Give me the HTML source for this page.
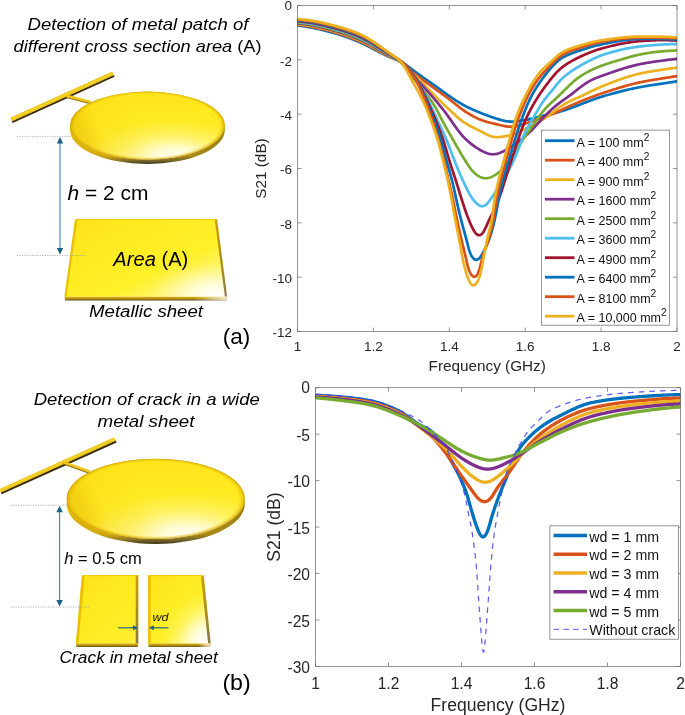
<!DOCTYPE html><html><head><meta charset="utf-8"><style>html,body{margin:0;padding:0;background:#fff;width:685px;height:715px;overflow:hidden}svg{display:block;will-change:transform}text{font-family:"Liberation Sans",sans-serif}</style></head><body>
<svg width="685" height="715" viewBox="0 0 685 715">
<defs>
<clipPath id="clipA"><rect x="297.5" y="5.5" width="379.5" height="326"/></clipPath>
<clipPath id="clipB"><rect x="315.5" y="387.7" width="365" height="278.7"/></clipPath>
<linearGradient id="gEllBase" x1="0" y1="0" x2="0" y2="1">
 <stop offset="0" stop-color="#FFE41A"/><stop offset="0.4" stop-color="#FFEA20"/><stop offset="0.75" stop-color="#FFEE30"/><stop offset="1" stop-color="#FFF250"/>
</linearGradient>
<radialGradient id="gEllGlow" cx="0.66" cy="0.98" r="0.55" fx="0.68" fy="1.0">
 <stop offset="0" stop-color="#FFFFFF" stop-opacity="1"/><stop offset="0.3" stop-color="#FFFEF0" stop-opacity="0.8"/><stop offset="0.65" stop-color="#FFFBD0" stop-opacity="0.3"/><stop offset="1" stop-color="#FFFBD0" stop-opacity="0"/>
</radialGradient>
<linearGradient id="gEllLeft" x1="0" y1="0.2" x2="1" y2="0">
 <stop offset="0" stop-color="#E8B800" stop-opacity="0.5"/><stop offset="0.12" stop-color="#F0C400" stop-opacity="0.18"/><stop offset="0.4" stop-color="#F0C800" stop-opacity="0"/><stop offset="1" stop-color="#F0C800" stop-opacity="0"/>
</linearGradient>
<linearGradient id="gRimE" x1="0" y1="0" x2="0" y2="1">
 <stop offset="0" stop-color="#E6BE10"/><stop offset="0.88" stop-color="#CCA418"/><stop offset="0.945" stop-color="#86722E"/><stop offset="1" stop-color="#3E3418"/>
</linearGradient>
<radialGradient id="gEllEdge" cx="0.5" cy="0.5" r="0.5">
 <stop offset="0" stop-color="#E8BC00" stop-opacity="0"/><stop offset="0.93" stop-color="#E8BC00" stop-opacity="0"/><stop offset="0.98" stop-color="#DDAE00" stop-opacity="0.55"/><stop offset="1" stop-color="#C09000" stop-opacity="0.85"/>
</radialGradient>
<linearGradient id="gRimEH" x1="0" y1="0" x2="1" y2="0">
 <stop offset="0" stop-color="#F0C000" stop-opacity="0.55"/><stop offset="0.3" stop-color="#E0B000" stop-opacity="0.2"/><stop offset="0.55" stop-color="#000" stop-opacity="0"/><stop offset="1" stop-color="#3A3010" stop-opacity="0.35"/>
</linearGradient>
<linearGradient id="gSheetBase" x1="0" y1="0" x2="1" y2="1">
 <stop offset="0" stop-color="#FCE218"/><stop offset="0.3" stop-color="#FFEA20"/><stop offset="0.62" stop-color="#FFF028"/><stop offset="1" stop-color="#FFF8B8"/>
</linearGradient>
<linearGradient id="gSheetPlain" x1="0" y1="0" x2="1" y2="1">
 <stop offset="0" stop-color="#FADE16"/><stop offset="0.3" stop-color="#FFE81E"/><stop offset="0.7" stop-color="#FFEC24"/><stop offset="1" stop-color="#FFF03A"/>
</linearGradient>
<radialGradient id="gSheetGlowBig" cx="0.95" cy="1.0" r="0.75">
 <stop offset="0" stop-color="#FFFFFF" stop-opacity="1"/><stop offset="0.3" stop-color="#FFFFF4" stop-opacity="0.8"/><stop offset="0.65" stop-color="#FFFBC8" stop-opacity="0.3"/><stop offset="1" stop-color="#FFF8B0" stop-opacity="0"/>
</radialGradient>
<radialGradient id="gSheetGlow" cx="0.93" cy="0.98" r="0.42">
 <stop offset="0" stop-color="#FFFFFF" stop-opacity="1"/><stop offset="0.35" stop-color="#FFFFF0" stop-opacity="0.75"/><stop offset="1" stop-color="#FFF8B0" stop-opacity="0"/>
</radialGradient>
<linearGradient id="gRimS" x1="0" y1="0" x2="0" y2="1">
 <stop offset="0" stop-color="#E0B410"/><stop offset="0.55" stop-color="#B8920E"/><stop offset="1" stop-color="#5E4E18"/>
</linearGradient>
<linearGradient id="gRimShine" x1="0" y1="0" x2="1" y2="0">
 <stop offset="0" stop-color="#fff" stop-opacity="0"/><stop offset="0.8" stop-color="#fff" stop-opacity="0"/><stop offset="1" stop-color="#F4F0D8" stop-opacity="0.9"/>
</linearGradient>
<linearGradient id="gBevR" x1="0" y1="0" x2="0" y2="1">
 <stop offset="0" stop-color="#C8A010"/><stop offset="0.6" stop-color="#A88A20"/><stop offset="1" stop-color="#8A7A48"/>
</linearGradient>
<marker id="ah" viewBox="0 0 10 10" refX="5" refY="5" markerWidth="6" markerHeight="6" orient="auto-start-reverse"><path d="M0,0 L10,5 L0,10 z" fill="#2E6F8E"/></marker>
</defs>
<text x="138" y="29.7" font-size="16.5" font-style="italic" fill="#000" text-anchor="middle" textLength="221" lengthAdjust="spacingAndGlyphs">Detection of metal patch of</text>
<text x="137.6" y="51.7" font-size="16.5" fill="#000" text-anchor="middle" textLength="248" lengthAdjust="spacingAndGlyphs"><tspan font-style="italic">different cross section area</tspan> (A)</text>
<line x1="12.24" y1="122.14" x2="114.24" y2="75.84" stroke="#3A2E06" stroke-width="2.1" stroke-linecap="butt"/>
<line x1="11.09" y1="119.59" x2="113.09" y2="73.29" stroke="#EBC216" stroke-width="3.8" stroke-linecap="butt"/>
<line x1="11.00" y1="119.41" x2="113.00" y2="73.11" stroke="#F8D828" stroke-width="1.2" stroke-linecap="butt"/>
<line x1="66.5" y1="97.1" x2="90.8" y2="103.3" stroke="#7A6410" stroke-width="2.0"/>
<line x1="66.5" y1="95.8" x2="90.8" y2="102.0" stroke="#EEC61C" stroke-width="2.8"/>
<ellipse cx="147.5" cy="129.95" rx="77.3" ry="33.95" fill="url(#gRimE)"/>
<ellipse cx="147.5" cy="129.95" rx="77.3" ry="33.95" fill="url(#gRimEH)"/>
<ellipse cx="147.5" cy="125.55" rx="77.3" ry="33.95" fill="url(#gEllBase)"/>
<ellipse cx="147.5" cy="125.55" rx="77.3" ry="33.95" fill="url(#gEllGlow)"/>
<ellipse cx="147.5" cy="125.55" rx="77.3" ry="33.95" fill="url(#gEllLeft)"/>
<ellipse cx="147.5" cy="125.55" rx="77.3" ry="33.95" fill="url(#gEllEdge)"/>
<line x1="60" y1="143.1" x2="60" y2="248.6" stroke="#3C7C9A" stroke-width="1.05"/><path d="M60,137.1 L56.8,143.6 L63.2,143.6 Z" fill="#1A6080"/><path d="M60,254.6 L56.8,248.1 L63.2,248.1 Z" fill="#1A6080"/>
<path d="M64.5,296.59999999999997 L227.1,296.59999999999997 L226.5,300.4 L65.1,300.4 Z" fill="url(#gRimS)"/>
<path d="M64.5,296.59999999999997 L227.1,296.59999999999997 L226.5,300.4 L65.1,300.4 Z" fill="url(#gRimShine)"/>
<path d="M75.1,219 L217,219 L227.1,296.59999999999997 L64.5,296.59999999999997 Z" fill="url(#gSheetBase)"/>
<path d="M75.1,219 L217,219 L227.1,296.59999999999997 L64.5,296.59999999999997 Z" fill="url(#gSheetGlow)"/>
<path d="M75.1,219 L77.3,220.32 L66.7,296.59999999999997 L64.5,296.59999999999997 Z" fill="#E6B808" opacity="0.85"/>
<path d="M217,219 L214.8,220.32 L224.9,296.59999999999997 L227.1,296.59999999999997 Z" fill="url(#gBevR)"/>
<line x1="76.1" y1="219.5" x2="216" y2="219.5" stroke="#F2CC12" stroke-width="1"/>
<line x1="17" y1="136.4" x2="70.7" y2="136.4" stroke="#9CA5AC" stroke-width="0.85" stroke-dasharray="1.2 1.3"/>
<line x1="17" y1="255.5" x2="86" y2="255.5" stroke="#9CA5AC" stroke-width="0.85" stroke-dasharray="1.2 1.3"/>
<text x="67.5" y="199.7" font-size="19.8" fill="#000" textLength="81" lengthAdjust="spacingAndGlyphs"><tspan font-style="italic">h</tspan> = 2 cm</text>
<text x="113.3" y="265.5" font-size="20" fill="#000" textLength="75" lengthAdjust="spacingAndGlyphs"><tspan font-style="italic">Area</tspan> (A)</text>
<text x="89" y="317" font-size="16" font-style="italic" fill="#000" textLength="114" lengthAdjust="spacingAndGlyphs">Metallic sheet</text>
<text x="222.8" y="344.3" font-size="22.8" fill="#000" textLength="27.6" lengthAdjust="spacingAndGlyphs">(a)</text>
<text x="146.7" y="404.6" font-size="16.5" font-style="italic" fill="#000" text-anchor="middle" textLength="226" lengthAdjust="spacingAndGlyphs">Detection of crack in a wide</text>
<text x="146" y="427" font-size="16.5" font-style="italic" fill="#000" text-anchor="middle" textLength="97" lengthAdjust="spacingAndGlyphs">metal sheet</text>
<line x1="1.24" y1="493.24" x2="116.24" y2="441.44" stroke="#3A2E06" stroke-width="2.1" stroke-linecap="butt"/>
<line x1="0.09" y1="490.69" x2="115.09" y2="438.89" stroke="#EBC216" stroke-width="3.8" stroke-linecap="butt"/>
<line x1="0.01" y1="490.51" x2="115.01" y2="438.71" stroke="#F8D828" stroke-width="1.2" stroke-linecap="butt"/>
<line x1="63.0" y1="463.3" x2="89.5" y2="472.8" stroke="#7A6410" stroke-width="2.0"/>
<line x1="63.0" y1="462.0" x2="89.5" y2="471.5" stroke="#EEC61C" stroke-width="2.8"/>
<ellipse cx="155.75" cy="503.85" rx="89.05" ry="40.05" fill="url(#gRimE)"/>
<ellipse cx="155.75" cy="503.85" rx="89.05" ry="40.05" fill="url(#gRimEH)"/>
<ellipse cx="155.75" cy="498.85" rx="89.05" ry="40.05" fill="url(#gEllBase)"/>
<ellipse cx="155.75" cy="498.85" rx="89.05" ry="40.05" fill="url(#gEllGlow)"/>
<ellipse cx="155.75" cy="498.85" rx="89.05" ry="40.05" fill="url(#gEllLeft)"/>
<ellipse cx="155.75" cy="498.85" rx="89.05" ry="40.05" fill="url(#gEllEdge)"/>
<line x1="59.6" y1="511.79999999999995" x2="59.6" y2="600.6" stroke="#3C7C9A" stroke-width="1.05"/><path d="M59.6,505.8 L56.4,512.3 L62.800000000000004,512.3 Z" fill="#1A6080"/><path d="M59.6,606.6 L56.4,600.1 L62.800000000000004,600.1 Z" fill="#1A6080"/>
<path d="M75.9,643.2 L138.3,643.2 L137.70000000000002,647 L76.5,647 Z" fill="url(#gRimS)"/>
<path d="M81.9,575.1 L138.3,575.1 L138.3,643.2 L75.9,643.2 Z" fill="url(#gSheetPlain)"/>
<path d="M81.9,575.1 L84.5,576.66 L78.5,643.2 L75.9,643.2 Z" fill="#E6B808" opacity="0.85"/>
<path d="M138.3,575.1 L135.70000000000002,576.66 L135.70000000000002,643.2 L138.3,643.2 Z" fill="url(#gBevR)"/>
<line x1="82.9" y1="575.6" x2="137.3" y2="575.6" stroke="#F2CC12" stroke-width="1"/>
<path d="M148.1,643.2 L210.7,643.2 L210.1,647 L148.7,647 Z" fill="url(#gRimS)"/>
<path d="M148.1,643.2 L210.7,643.2 L210.1,647 L148.7,647 Z" fill="url(#gRimShine)"/>
<path d="M148.1,575.1 L203.6,575.1 L210.7,643.2 L148.1,643.2 Z" fill="url(#gSheetBase)"/>
<path d="M148.1,575.1 L203.6,575.1 L210.7,643.2 L148.1,643.2 Z" fill="url(#gSheetGlowBig)"/>
<path d="M148.1,575.1 L150.7,576.66 L150.7,643.2 L148.1,643.2 Z" fill="#E6B808" opacity="0.85"/>
<path d="M203.6,575.1 L201.0,576.66 L208.1,643.2 L210.7,643.2 Z" fill="url(#gBevR)"/>
<line x1="149.1" y1="575.6" x2="202.6" y2="575.6" stroke="#F2CC12" stroke-width="1"/>
<line x1="10.5" y1="505.2" x2="67.2" y2="505.2" stroke="#9CA5AC" stroke-width="0.85" stroke-dasharray="1.2 1.3"/>
<line x1="10.5" y1="607.1" x2="89" y2="607.1" stroke="#9CA5AC" stroke-width="0.85" stroke-dasharray="1.2 1.3"/>
<text x="64.2" y="563.8" font-size="17.3" fill="#000" textLength="77.5" lengthAdjust="spacingAndGlyphs"><tspan font-style="italic">h</tspan> = 0.5 cm</text>
<line x1="118.1" y1="627.8" x2="134" y2="627.8" stroke="#1F6A8A" stroke-width="1.2"/><path d="M138,627.8 L133,625.3 L133,630.3 Z" fill="#1A6080"/>
<line x1="168.5" y1="627.8" x2="153" y2="627.8" stroke="#1F6A8A" stroke-width="1.2"/><path d="M148.9,627.8 L153.9,625.3 L153.9,630.3 Z" fill="#1A6080"/>
<text x="152.5" y="620.9" font-size="11.5" font-style="italic" fill="#111" textLength="16" lengthAdjust="spacingAndGlyphs">wd</text>
<text x="59.5" y="662.6" font-size="16" font-style="italic" fill="#000" textLength="158.3" lengthAdjust="spacingAndGlyphs">Crack in metal sheet</text>
<text x="222.4" y="689.6" font-size="22.8" fill="#000" textLength="28.4" lengthAdjust="spacingAndGlyphs">(b)</text>
<g clip-path="url(#clipA)" fill="none" stroke-width="2.7" stroke-linejoin="round" stroke-linecap="round">
<path d="M297.50,25.30 L298.49,25.45 L299.48,25.60 L300.47,25.75 L301.45,25.90 L302.44,26.05 L303.43,26.21 L304.42,26.37 L305.40,26.54 L306.39,26.70 L307.37,26.87 L308.36,27.05 L309.34,27.23 L310.32,27.41 L311.31,27.60 L312.29,27.79 L313.27,27.98 L314.25,28.18 L315.23,28.38 L316.21,28.59 L317.18,28.80 L318.16,29.01 L319.14,29.23 L320.11,29.45 L321.09,29.67 L322.06,29.90 L323.03,30.13 L324.01,30.36 L324.98,30.60 L325.95,30.84 L326.92,31.08 L327.89,31.33 L328.85,31.58 L329.82,31.84 L330.79,32.10 L331.75,32.36 L332.71,32.63 L333.68,32.90 L334.64,33.17 L335.60,33.45 L336.56,33.73 L337.51,34.02 L338.47,34.31 L339.43,34.61 L340.38,34.91 L341.33,35.22 L342.28,35.53 L343.23,35.85 L344.17,36.17 L345.12,36.50 L346.06,36.84 L347.00,37.17 L347.94,37.52 L348.88,37.87 L349.81,38.22 L350.74,38.57 L351.68,38.94 L352.61,39.30 L353.54,39.67 L354.46,40.04 L355.39,40.42 L356.31,40.80 L357.24,41.19 L358.15,41.58 L359.07,41.98 L359.99,42.38 L360.90,42.79 L361.81,43.20 L362.72,43.62 L363.62,44.04 L364.52,44.48 L365.42,44.91 L366.32,45.35 L367.22,45.80 L368.11,46.25 L369.00,46.70 L369.89,47.16 L370.78,47.62 L371.66,48.08 L372.55,48.55 L373.43,49.01 L374.32,49.48 L375.20,49.94 L376.09,50.41 L376.97,50.87 L377.86,51.34 L378.75,51.80 L379.63,52.26 L380.52,52.72 L381.41,53.17 L382.30,53.63 L383.20,54.08 L384.09,54.52 L384.99,54.96 L385.89,55.39 L386.79,55.81 L387.70,56.23 L388.61,56.63 L389.53,57.02 L390.45,57.39 L391.37,57.76 L392.30,58.11 L393.24,58.46 L394.17,58.80 L395.10,59.14 L396.02,59.49 L396.95,59.85 L397.86,60.23 L398.76,60.62 L399.65,61.04 L400.52,61.49 L401.39,61.96 L402.24,62.45 L403.08,62.97 L403.91,63.51 L404.73,64.07 L405.54,64.64 L406.35,65.22 L407.15,65.81 L407.96,66.40 L408.76,66.99 L409.56,67.59 L410.36,68.19 L411.16,68.79 L411.97,69.38 L412.77,69.98 L413.57,70.57 L414.38,71.17 L415.18,71.76 L415.99,72.35 L416.79,72.94 L417.60,73.53 L418.41,74.12 L419.23,74.70 L420.04,75.28 L420.85,75.86 L421.67,76.44 L422.49,77.02 L423.30,77.59 L424.12,78.16 L424.94,78.74 L425.77,79.31 L426.59,79.88 L427.41,80.45 L428.23,81.01 L429.05,81.58 L429.88,82.15 L430.70,82.72 L431.52,83.30 L432.34,83.87 L433.15,84.44 L433.97,85.02 L434.79,85.60 L435.60,86.18 L436.41,86.76 L437.22,87.35 L438.03,87.94 L438.84,88.52 L439.65,89.11 L440.46,89.70 L441.26,90.29 L442.07,90.89 L442.88,91.48 L443.69,92.06 L444.50,92.65 L445.31,93.24 L446.12,93.82 L446.93,94.40 L447.75,94.98 L448.57,95.55 L449.39,96.12 L450.21,96.69 L451.04,97.25 L451.86,97.81 L452.69,98.37 L453.53,98.93 L454.36,99.48 L455.20,100.02 L456.04,100.57 L456.88,101.11 L457.72,101.64 L458.57,102.17 L459.42,102.69 L460.28,103.20 L461.14,103.71 L462.01,104.21 L462.88,104.70 L463.75,105.18 L464.63,105.66 L465.51,106.12 L466.40,106.58 L467.29,107.03 L468.19,107.48 L469.09,107.91 L469.99,108.34 L470.90,108.76 L471.81,109.17 L472.72,109.58 L473.63,109.99 L474.55,110.38 L475.47,110.78 L476.39,111.17 L477.31,111.55 L478.24,111.93 L479.16,112.31 L480.09,112.68 L481.02,113.05 L481.95,113.42 L482.88,113.78 L483.81,114.14 L484.75,114.50 L485.68,114.86 L486.62,115.21 L487.55,115.56 L488.49,115.91 L489.43,116.25 L490.37,116.59 L491.31,116.92 L492.26,117.25 L493.20,117.57 L494.15,117.89 L495.10,118.21 L496.05,118.51 L497.00,118.81 L497.96,119.11 L498.91,119.39 L499.87,119.67 L500.83,119.94 L501.80,120.20 L502.76,120.44 L503.73,120.67 L504.70,120.87 L505.67,121.06 L506.65,121.22 L507.63,121.35 L508.61,121.45 L509.60,121.53 L510.58,121.57 L511.57,121.59 L512.56,121.58 L513.55,121.55 L514.55,121.49 L515.54,121.42 L516.53,121.32 L517.52,121.21 L518.51,121.09 L519.50,120.96 L520.49,120.81 L521.47,120.66 L522.46,120.50 L523.44,120.33 L524.43,120.15 L525.41,119.97 L526.39,119.78 L527.37,119.58 L528.35,119.37 L529.32,119.15 L530.30,118.93 L531.27,118.71 L532.24,118.47 L533.21,118.24 L534.18,117.99 L535.15,117.75 L536.12,117.50 L537.09,117.25 L538.06,117.00 L539.02,116.74 L539.99,116.49 L540.96,116.25 L541.93,116.00 L542.90,115.76 L543.87,115.52 L544.84,115.29 L545.81,115.06 L546.79,114.84 L547.76,114.62 L548.74,114.40 L549.72,114.18 L550.69,113.97 L551.67,113.75 L552.64,113.53 L553.62,113.30 L554.59,113.07 L555.56,112.84 L556.53,112.59 L557.49,112.34 L558.46,112.08 L559.42,111.81 L560.38,111.54 L561.34,111.26 L562.30,110.97 L563.25,110.67 L564.20,110.36 L565.15,110.05 L566.10,109.74 L567.05,109.42 L567.99,109.09 L568.94,108.76 L569.88,108.42 L570.82,108.08 L571.76,107.74 L572.69,107.39 L573.63,107.04 L574.57,106.69 L575.50,106.33 L576.43,105.98 L577.37,105.62 L578.30,105.26 L579.23,104.90 L580.17,104.54 L581.10,104.18 L582.03,103.82 L582.97,103.46 L583.90,103.10 L584.83,102.74 L585.76,102.38 L586.70,102.02 L587.63,101.66 L588.57,101.31 L589.50,100.95 L590.44,100.60 L591.37,100.25 L592.31,99.91 L593.25,99.56 L594.19,99.23 L595.14,98.90 L596.08,98.57 L597.03,98.25 L597.97,97.93 L598.92,97.62 L599.88,97.31 L600.83,97.01 L601.78,96.71 L602.74,96.41 L603.69,96.12 L604.65,95.83 L605.61,95.55 L606.57,95.27 L607.53,94.99 L608.49,94.71 L609.45,94.44 L610.41,94.17 L611.38,93.90 L612.34,93.63 L613.31,93.36 L614.27,93.10 L615.24,92.84 L616.20,92.58 L617.17,92.33 L618.14,92.08 L619.10,91.83 L620.07,91.58 L621.04,91.33 L622.01,91.09 L622.98,90.85 L623.95,90.61 L624.93,90.38 L625.90,90.15 L626.87,89.92 L627.85,89.69 L628.82,89.47 L629.80,89.25 L630.77,89.03 L631.75,88.82 L632.73,88.61 L633.71,88.40 L634.68,88.20 L635.66,88.00 L636.64,87.80 L637.62,87.60 L638.61,87.41 L639.59,87.23 L640.57,87.04 L641.55,86.86 L642.54,86.69 L643.52,86.51 L644.51,86.34 L645.49,86.18 L646.48,86.01 L647.47,85.85 L648.46,85.70 L649.44,85.54 L650.43,85.39 L651.42,85.24 L652.41,85.09 L653.40,84.94 L654.39,84.79 L655.37,84.64 L656.36,84.49 L657.35,84.34 L658.34,84.20 L659.33,84.05 L660.32,83.90 L661.31,83.75 L662.30,83.60 L663.28,83.44 L664.27,83.29 L665.26,83.14 L666.25,82.99 L667.23,82.83 L668.22,82.68 L669.20,82.53 L670.18,82.37 L671.16,82.22 L672.14,82.06 L673.12,81.91 L674.09,81.76 L675.06,81.60 L676.03,81.45 L677.00,81.30" stroke="#0072BD"/>
<path d="M297.50,24.60 L298.49,24.74 L299.48,24.88 L300.47,25.03 L301.46,25.18 L302.45,25.32 L303.44,25.47 L304.42,25.63 L305.41,25.79 L306.40,25.95 L307.38,26.12 L308.37,26.29 L309.35,26.46 L310.34,26.64 L311.32,26.82 L312.30,27.01 L313.28,27.20 L314.26,27.39 L315.24,27.59 L316.22,27.79 L317.20,28.00 L318.18,28.21 L319.15,28.42 L320.13,28.64 L321.11,28.86 L322.08,29.09 L323.05,29.32 L324.02,29.55 L325.00,29.79 L325.97,30.03 L326.94,30.27 L327.91,30.52 L328.87,30.77 L329.84,31.02 L330.81,31.28 L331.77,31.54 L332.74,31.81 L333.70,32.07 L334.66,32.35 L335.62,32.62 L336.58,32.90 L337.54,33.19 L338.50,33.48 L339.45,33.77 L340.41,34.07 L341.36,34.38 L342.31,34.68 L343.26,35.00 L344.21,35.32 L345.15,35.64 L346.09,35.97 L347.04,36.31 L347.98,36.65 L348.92,36.99 L349.85,37.34 L350.79,37.69 L351.72,38.05 L352.65,38.41 L353.58,38.78 L354.51,39.15 L355.44,39.53 L356.36,39.91 L357.28,40.30 L358.20,40.69 L359.12,41.09 L360.03,41.49 L360.94,41.90 L361.85,42.31 L362.76,42.74 L363.66,43.16 L364.56,43.60 L365.46,44.04 L366.35,44.49 L367.25,44.94 L368.13,45.39 L369.02,45.85 L369.91,46.32 L370.79,46.79 L371.67,47.26 L372.55,47.73 L373.43,48.21 L374.31,48.68 L375.19,49.16 L376.07,49.64 L376.95,50.11 L377.83,50.59 L378.71,51.07 L379.59,51.54 L380.47,52.01 L381.35,52.48 L382.23,52.95 L383.12,53.42 L384.00,53.88 L384.89,54.34 L385.78,54.79 L386.68,55.23 L387.57,55.67 L388.47,56.10 L389.38,56.51 L390.29,56.91 L391.20,57.31 L392.12,57.69 L393.03,58.07 L393.95,58.45 L394.86,58.83 L395.76,59.22 L396.65,59.63 L397.52,60.06 L398.38,60.52 L399.21,61.01 L400.03,61.53 L400.82,62.08 L401.60,62.67 L402.35,63.28 L403.10,63.91 L403.83,64.57 L404.56,65.23 L405.29,65.90 L406.02,66.57 L406.75,67.24 L407.49,67.91 L408.24,68.57 L408.99,69.22 L409.75,69.87 L410.52,70.51 L411.29,71.14 L412.07,71.76 L412.86,72.38 L413.65,73.00 L414.44,73.61 L415.23,74.21 L416.03,74.82 L416.83,75.42 L417.63,76.02 L418.43,76.62 L419.23,77.22 L420.03,77.81 L420.83,78.41 L421.64,79.00 L422.44,79.60 L423.25,80.19 L424.05,80.78 L424.86,81.37 L425.67,81.96 L426.48,82.55 L427.29,83.14 L428.10,83.72 L428.91,84.31 L429.72,84.89 L430.53,85.48 L431.34,86.06 L432.15,86.65 L432.96,87.23 L433.77,87.82 L434.58,88.41 L435.39,88.99 L436.20,89.58 L437.01,90.17 L437.82,90.75 L438.63,91.34 L439.44,91.93 L440.25,92.52 L441.06,93.11 L441.86,93.70 L442.67,94.29 L443.48,94.88 L444.28,95.47 L445.09,96.07 L445.89,96.66 L446.69,97.26 L447.49,97.86 L448.28,98.47 L449.08,99.08 L449.87,99.69 L450.66,100.30 L451.44,100.92 L452.23,101.54 L453.01,102.16 L453.79,102.79 L454.57,103.42 L455.35,104.04 L456.12,104.67 L456.90,105.30 L457.68,105.92 L458.47,106.54 L459.25,107.16 L460.05,107.77 L460.84,108.37 L461.64,108.97 L462.45,109.55 L463.26,110.13 L464.08,110.70 L464.91,111.27 L465.74,111.82 L466.58,112.36 L467.42,112.90 L468.27,113.43 L469.12,113.94 L469.98,114.46 L470.84,114.96 L471.71,115.45 L472.58,115.94 L473.46,116.41 L474.35,116.88 L475.23,117.33 L476.13,117.77 L477.03,118.20 L477.94,118.61 L478.85,119.01 L479.77,119.39 L480.70,119.76 L481.63,120.12 L482.56,120.46 L483.51,120.78 L484.45,121.09 L485.41,121.39 L486.36,121.67 L487.32,121.95 L488.29,122.21 L489.25,122.47 L490.22,122.71 L491.19,122.95 L492.16,123.19 L493.13,123.42 L494.11,123.65 L495.08,123.88 L496.05,124.11 L497.02,124.35 L497.99,124.58 L498.96,124.82 L499.93,125.05 L500.90,125.28 L501.87,125.51 L502.84,125.73 L503.82,125.94 L504.79,126.14 L505.76,126.31 L506.74,126.45 L507.71,126.57 L508.69,126.66 L509.67,126.71 L510.65,126.72 L511.63,126.69 L512.61,126.63 L513.59,126.54 L514.57,126.41 L515.54,126.25 L516.52,126.07 L517.49,125.86 L518.45,125.63 L519.42,125.39 L520.38,125.12 L521.34,124.85 L522.30,124.56 L523.25,124.27 L524.20,123.97 L525.15,123.66 L526.10,123.34 L527.05,123.02 L527.99,122.70 L528.94,122.37 L529.88,122.04 L530.82,121.71 L531.77,121.38 L532.71,121.04 L533.65,120.71 L534.60,120.38 L535.54,120.06 L536.49,119.74 L537.44,119.42 L538.38,119.11 L539.33,118.79 L540.28,118.48 L541.23,118.17 L542.18,117.86 L543.13,117.55 L544.08,117.24 L545.03,116.92 L545.97,116.59 L546.92,116.26 L547.86,115.92 L548.79,115.57 L549.72,115.21 L550.65,114.84 L551.57,114.46 L552.49,114.07 L553.40,113.67 L554.32,113.26 L555.22,112.85 L556.13,112.43 L557.03,112.00 L557.94,111.57 L558.84,111.15 L559.74,110.72 L560.65,110.29 L561.55,109.86 L562.46,109.43 L563.36,109.01 L564.27,108.59 L565.17,108.17 L566.08,107.75 L566.99,107.33 L567.90,106.92 L568.81,106.51 L569.72,106.10 L570.64,105.69 L571.55,105.28 L572.46,104.87 L573.38,104.47 L574.29,104.07 L575.21,103.67 L576.13,103.28 L577.05,102.88 L577.97,102.49 L578.89,102.10 L579.81,101.72 L580.74,101.33 L581.66,100.95 L582.59,100.58 L583.52,100.20 L584.44,99.83 L585.37,99.46 L586.30,99.09 L587.23,98.73 L588.16,98.36 L589.10,98.00 L590.03,97.64 L590.97,97.29 L591.90,96.94 L592.84,96.59 L593.78,96.24 L594.72,95.90 L595.66,95.56 L596.60,95.22 L597.54,94.89 L598.48,94.56 L599.43,94.23 L600.37,93.91 L601.32,93.58 L602.27,93.26 L603.21,92.94 L604.16,92.62 L605.11,92.31 L606.06,91.99 L607.01,91.68 L607.96,91.37 L608.91,91.06 L609.86,90.75 L610.81,90.44 L611.77,90.14 L612.72,89.83 L613.67,89.53 L614.62,89.23 L615.58,88.93 L616.53,88.63 L617.49,88.34 L618.44,88.04 L619.40,87.75 L620.36,87.47 L621.32,87.18 L622.28,86.90 L623.24,86.62 L624.20,86.34 L625.16,86.07 L626.12,85.80 L627.09,85.53 L628.05,85.27 L629.02,85.01 L629.98,84.75 L630.95,84.50 L631.92,84.25 L632.89,84.01 L633.86,83.77 L634.83,83.53 L635.80,83.30 L636.78,83.08 L637.75,82.86 L638.73,82.64 L639.70,82.43 L640.68,82.22 L641.66,82.01 L642.64,81.81 L643.62,81.62 L644.60,81.43 L645.58,81.24 L646.57,81.06 L647.55,80.88 L648.54,80.70 L649.52,80.53 L650.51,80.36 L651.49,80.19 L652.48,80.02 L653.46,79.85 L654.45,79.69 L655.44,79.53 L656.42,79.37 L657.41,79.21 L658.40,79.04 L659.38,78.88 L660.37,78.73 L661.36,78.57 L662.35,78.41 L663.33,78.25 L664.32,78.09 L665.31,77.93 L666.29,77.77 L667.28,77.62 L668.26,77.46 L669.24,77.31 L670.22,77.15 L671.20,77.00 L672.17,76.85 L673.14,76.70 L674.11,76.55 L675.07,76.40 L676.04,76.25 L677.00,76.10" stroke="#D95319"/>
<path d="M297.50,23.90 L298.49,24.04 L299.48,24.17 L300.47,24.31 L301.46,24.45 L302.45,24.59 L303.44,24.74 L304.43,24.89 L305.42,25.04 L306.40,25.20 L307.39,25.36 L308.38,25.52 L309.36,25.69 L310.35,25.86 L311.33,26.04 L312.31,26.22 L313.30,26.41 L314.28,26.60 L315.26,26.80 L316.24,27.00 L317.22,27.20 L318.19,27.41 L319.17,27.62 L320.15,27.84 L321.12,28.06 L322.10,28.28 L323.07,28.51 L324.04,28.74 L325.01,28.98 L325.99,29.22 L326.96,29.46 L327.92,29.70 L328.89,29.95 L329.86,30.21 L330.83,30.46 L331.79,30.72 L332.76,30.98 L333.72,31.25 L334.68,31.52 L335.64,31.80 L336.61,32.07 L337.56,32.36 L338.52,32.64 L339.48,32.93 L340.43,33.23 L341.39,33.53 L342.34,33.84 L343.29,34.15 L344.24,34.46 L345.18,34.78 L346.13,35.11 L347.07,35.44 L348.01,35.77 L348.95,36.11 L349.89,36.46 L350.83,36.81 L351.76,37.17 L352.70,37.53 L353.63,37.89 L354.56,38.26 L355.48,38.63 L356.41,39.02 L357.33,39.40 L358.25,39.79 L359.16,40.19 L360.08,40.60 L360.99,41.01 L361.90,41.43 L362.80,41.85 L363.70,42.28 L364.60,42.72 L365.49,43.17 L366.39,43.62 L367.27,44.08 L368.16,44.54 L369.04,45.01 L369.92,45.48 L370.80,45.96 L371.68,46.44 L372.56,46.92 L373.43,47.40 L374.30,47.89 L375.18,48.38 L376.05,48.86 L376.92,49.35 L377.80,49.84 L378.67,50.33 L379.54,50.82 L380.41,51.30 L381.29,51.79 L382.16,52.27 L383.04,52.76 L383.92,53.24 L384.79,53.71 L385.67,54.18 L386.56,54.65 L387.44,55.11 L388.33,55.56 L389.23,56.00 L390.13,56.43 L391.03,56.85 L391.94,57.26 L392.84,57.66 L393.75,58.06 L394.65,58.47 L395.55,58.88 L396.44,59.30 L397.32,59.74 L398.18,60.21 L399.02,60.70 L399.83,61.22 L400.63,61.78 L401.41,62.37 L402.16,62.99 L402.89,63.64 L403.61,64.31 L404.32,65.00 L405.01,65.70 L405.70,66.41 L406.39,67.13 L407.08,67.85 L407.77,68.57 L408.46,69.28 L409.16,70.00 L409.87,70.70 L410.58,71.41 L411.29,72.11 L412.01,72.80 L412.73,73.49 L413.45,74.18 L414.18,74.87 L414.90,75.56 L415.63,76.25 L416.35,76.94 L417.07,77.63 L417.79,78.33 L418.51,79.03 L419.22,79.72 L419.93,80.43 L420.64,81.13 L421.35,81.84 L422.05,82.55 L422.75,83.26 L423.45,83.98 L424.15,84.70 L424.84,85.42 L425.53,86.14 L426.22,86.86 L426.91,87.59 L427.60,88.31 L428.29,89.03 L428.98,89.76 L429.68,90.48 L430.37,91.20 L431.06,91.92 L431.76,92.64 L432.45,93.36 L433.15,94.07 L433.85,94.78 L434.56,95.49 L435.26,96.20 L435.97,96.91 L436.68,97.61 L437.39,98.32 L438.10,99.02 L438.82,99.72 L439.54,100.41 L440.25,101.11 L440.97,101.80 L441.70,102.49 L442.42,103.19 L443.14,103.87 L443.87,104.56 L444.60,105.25 L445.33,105.93 L446.06,106.62 L446.79,107.30 L447.52,107.98 L448.25,108.66 L448.98,109.35 L449.71,110.03 L450.44,110.71 L451.18,111.39 L451.91,112.07 L452.64,112.75 L453.37,113.43 L454.11,114.11 L454.84,114.79 L455.58,115.46 L456.32,116.13 L457.07,116.80 L457.82,117.46 L458.57,118.11 L459.33,118.75 L460.10,119.39 L460.88,120.01 L461.67,120.63 L462.46,121.22 L463.27,121.81 L464.09,122.38 L464.91,122.93 L465.75,123.47 L466.60,124.00 L467.45,124.51 L468.32,125.01 L469.19,125.49 L470.07,125.96 L470.95,126.43 L471.84,126.88 L472.73,127.32 L473.63,127.76 L474.53,128.20 L475.43,128.63 L476.33,129.07 L477.23,129.50 L478.13,129.94 L479.02,130.39 L479.91,130.84 L480.80,131.30 L481.68,131.76 L482.55,132.23 L483.43,132.71 L484.30,133.19 L485.17,133.67 L486.04,134.13 L486.91,134.58 L487.79,135.01 L488.68,135.42 L489.57,135.78 L490.48,136.11 L491.40,136.39 L492.33,136.62 L493.27,136.81 L494.23,136.94 L495.19,137.03 L496.16,137.08 L497.14,137.09 L498.12,137.07 L499.11,137.02 L500.09,136.94 L501.08,136.85 L502.07,136.73 L503.05,136.60 L504.04,136.45 L505.02,136.29 L506.00,136.11 L506.98,135.91 L507.96,135.71 L508.93,135.48 L509.89,135.24 L510.85,134.97 L511.80,134.69 L512.75,134.39 L513.69,134.07 L514.63,133.74 L515.56,133.38 L516.48,133.01 L517.40,132.62 L518.32,132.22 L519.23,131.81 L520.13,131.39 L521.03,130.96 L521.93,130.53 L522.83,130.09 L523.73,129.65 L524.62,129.20 L525.52,128.76 L526.41,128.31 L527.31,127.86 L528.20,127.41 L529.09,126.97 L529.99,126.52 L530.88,126.06 L531.77,125.61 L532.66,125.16 L533.55,124.70 L534.44,124.24 L535.32,123.77 L536.21,123.30 L537.08,122.83 L537.96,122.35 L538.84,121.87 L539.71,121.37 L540.57,120.88 L541.43,120.37 L542.29,119.86 L543.14,119.34 L543.99,118.80 L544.83,118.26 L545.66,117.72 L546.48,117.15 L547.30,116.58 L548.11,116.00 L548.91,115.41 L549.71,114.81 L550.50,114.20 L551.28,113.58 L552.06,112.96 L552.84,112.33 L553.62,111.71 L554.40,111.08 L555.18,110.46 L555.97,109.85 L556.76,109.25 L557.56,108.65 L558.37,108.06 L559.18,107.49 L560.00,106.92 L560.83,106.37 L561.67,105.83 L562.52,105.30 L563.37,104.78 L564.23,104.27 L565.09,103.77 L565.96,103.28 L566.84,102.80 L567.72,102.34 L568.61,101.88 L569.50,101.44 L570.40,101.00 L571.30,100.57 L572.21,100.15 L573.12,99.74 L574.03,99.33 L574.95,98.93 L575.86,98.53 L576.78,98.13 L577.69,97.73 L578.61,97.32 L579.52,96.91 L580.43,96.50 L581.34,96.09 L582.25,95.67 L583.15,95.24 L584.06,94.82 L584.96,94.38 L585.86,93.95 L586.75,93.51 L587.65,93.07 L588.55,92.63 L589.45,92.19 L590.34,91.75 L591.24,91.31 L592.14,90.87 L593.04,90.44 L593.95,90.01 L594.85,89.58 L595.76,89.16 L596.67,88.75 L597.58,88.34 L598.49,87.93 L599.41,87.53 L600.33,87.14 L601.25,86.75 L602.17,86.36 L603.09,85.98 L604.02,85.60 L604.94,85.22 L605.87,84.85 L606.80,84.47 L607.73,84.10 L608.66,83.74 L609.59,83.37 L610.52,83.01 L611.45,82.64 L612.38,82.28 L613.32,81.93 L614.25,81.57 L615.19,81.22 L616.13,80.87 L617.06,80.53 L618.00,80.18 L618.94,79.84 L619.88,79.51 L620.83,79.17 L621.77,78.84 L622.72,78.52 L623.66,78.20 L624.61,77.88 L625.56,77.57 L626.51,77.27 L627.47,76.96 L628.42,76.67 L629.38,76.38 L630.34,76.09 L631.30,75.81 L632.26,75.54 L633.22,75.27 L634.19,75.01 L635.15,74.76 L636.12,74.51 L637.09,74.27 L638.06,74.03 L639.03,73.81 L640.01,73.58 L640.99,73.37 L641.96,73.16 L642.94,72.95 L643.92,72.76 L644.90,72.56 L645.88,72.37 L646.87,72.19 L647.85,72.01 L648.83,71.84 L649.82,71.67 L650.81,71.50 L651.79,71.34 L652.78,71.17 L653.77,71.01 L654.75,70.86 L655.74,70.70 L656.73,70.55 L657.72,70.40 L658.71,70.25 L659.69,70.10 L660.68,69.95 L661.67,69.81 L662.66,69.66 L663.65,69.52 L664.64,69.37 L665.63,69.23 L666.62,69.09 L667.61,68.95 L668.60,68.82 L669.59,68.68 L670.58,68.55 L671.57,68.41 L672.56,68.28 L673.54,68.15 L674.53,68.02 L675.52,67.89 L676.51,67.76" stroke="#EDB120"/>
<path d="M297.50,23.20 L298.49,23.33 L299.48,23.46 L300.47,23.59 L301.46,23.72 L302.46,23.86 L303.45,24.00 L304.44,24.14 L305.42,24.29 L306.41,24.44 L307.40,24.60 L308.39,24.76 L309.37,24.92 L310.36,25.09 L311.34,25.26 L312.33,25.44 L313.31,25.62 L314.29,25.81 L315.27,26.00 L316.25,26.20 L317.23,26.40 L318.21,26.61 L319.19,26.82 L320.16,27.03 L321.14,27.25 L322.11,27.47 L323.09,27.70 L324.06,27.93 L325.03,28.17 L326.00,28.40 L326.97,28.64 L327.94,28.89 L328.91,29.14 L329.88,29.39 L330.85,29.64 L331.81,29.90 L332.78,30.16 L333.74,30.43 L334.71,30.70 L335.67,30.97 L336.63,31.24 L337.59,31.52 L338.55,31.81 L339.50,32.10 L340.46,32.39 L341.41,32.69 L342.37,32.99 L343.32,33.29 L344.27,33.61 L345.22,33.92 L346.16,34.24 L347.11,34.57 L348.05,34.90 L348.99,35.24 L349.93,35.58 L350.87,35.93 L351.81,36.28 L352.74,36.64 L353.67,37.00 L354.60,37.37 L355.53,37.74 L356.45,38.12 L357.37,38.51 L358.29,38.90 L359.21,39.30 L360.12,39.70 L361.03,40.12 L361.94,40.54 L362.84,40.96 L363.74,41.40 L364.64,41.84 L365.53,42.29 L366.42,42.75 L367.30,43.21 L368.18,43.68 L369.06,44.16 L369.94,44.64 L370.81,45.12 L371.69,45.61 L372.56,46.10 L373.43,46.60 L374.29,47.09 L375.16,47.59 L376.03,48.09 L376.89,48.59 L377.76,49.09 L378.63,49.59 L379.49,50.09 L380.36,50.59 L381.22,51.09 L382.09,51.59 L382.96,52.09 L383.82,52.58 L384.69,53.08 L385.56,53.57 L386.44,54.05 L387.31,54.53 L388.19,55.01 L389.07,55.47 L389.96,55.92 L390.85,56.37 L391.75,56.81 L392.64,57.24 L393.54,57.66 L394.43,58.09 L395.31,58.53 L396.19,58.98 L397.05,59.45 L397.89,59.94 L398.72,60.45 L399.52,61.00 L400.29,61.59 L401.04,62.20 L401.76,62.85 L402.46,63.53 L403.14,64.23 L403.80,64.96 L404.45,65.70 L405.10,66.46 L405.73,67.22 L406.37,67.98 L407.01,68.75 L407.65,69.51 L408.29,70.28 L408.94,71.03 L409.60,71.78 L410.26,72.53 L410.93,73.28 L411.60,74.02 L412.28,74.75 L412.95,75.49 L413.64,76.22 L414.32,76.95 L415.00,77.68 L415.69,78.41 L416.37,79.14 L417.05,79.87 L417.74,80.60 L418.42,81.33 L419.10,82.06 L419.78,82.79 L420.46,83.53 L421.14,84.26 L421.81,85.00 L422.49,85.74 L423.17,86.47 L423.84,87.21 L424.51,87.95 L425.19,88.69 L425.86,89.43 L426.53,90.17 L427.20,90.91 L427.87,91.66 L428.54,92.40 L429.21,93.14 L429.87,93.89 L430.54,94.64 L431.20,95.39 L431.86,96.14 L432.52,96.89 L433.18,97.64 L433.83,98.40 L434.48,99.16 L435.14,99.91 L435.79,100.67 L436.43,101.44 L437.08,102.20 L437.72,102.97 L438.36,103.74 L439.00,104.51 L439.63,105.28 L440.27,106.05 L440.89,106.83 L441.52,107.61 L442.15,108.39 L442.76,109.17 L443.38,109.96 L443.99,110.75 L444.60,111.54 L445.20,112.34 L445.80,113.14 L446.40,113.94 L446.99,114.75 L447.58,115.56 L448.16,116.37 L448.74,117.19 L449.32,118.00 L449.89,118.82 L450.46,119.64 L451.04,120.46 L451.61,121.28 L452.18,122.10 L452.75,122.93 L453.32,123.75 L453.89,124.57 L454.46,125.39 L455.04,126.20 L455.62,127.02 L456.20,127.83 L456.79,128.64 L457.38,129.44 L457.98,130.25 L458.58,131.04 L459.19,131.83 L459.81,132.62 L460.43,133.39 L461.07,134.16 L461.72,134.92 L462.37,135.67 L463.04,136.41 L463.72,137.14 L464.41,137.86 L465.11,138.57 L465.83,139.26 L466.55,139.95 L467.29,140.62 L468.03,141.28 L468.79,141.93 L469.55,142.57 L470.33,143.21 L471.11,143.83 L471.90,144.44 L472.69,145.04 L473.49,145.63 L474.31,146.22 L475.12,146.79 L475.95,147.35 L476.78,147.90 L477.62,148.44 L478.47,148.96 L479.32,149.48 L480.18,149.98 L481.05,150.46 L481.93,150.93 L482.82,151.39 L483.71,151.82 L484.61,152.23 L485.52,152.62 L486.43,152.98 L487.35,153.31 L488.28,153.60 L489.21,153.84 L490.15,154.04 L491.09,154.19 L492.04,154.28 L492.99,154.30 L493.94,154.27 L494.88,154.19 L495.82,154.04 L496.76,153.84 L497.70,153.60 L498.63,153.31 L499.55,152.98 L500.47,152.63 L501.38,152.24 L502.28,151.84 L503.18,151.42 L504.08,150.98 L504.97,150.53 L505.85,150.06 L506.72,149.59 L507.59,149.10 L508.46,148.60 L509.32,148.09 L510.17,147.57 L511.01,147.04 L511.85,146.50 L512.69,145.95 L513.51,145.39 L514.33,144.82 L515.15,144.24 L515.96,143.65 L516.76,143.06 L517.56,142.46 L518.35,141.85 L519.14,141.24 L519.93,140.62 L520.71,140.00 L521.48,139.37 L522.25,138.73 L523.02,138.09 L523.79,137.45 L524.55,136.80 L525.30,136.14 L526.05,135.49 L526.80,134.82 L527.54,134.15 L528.28,133.48 L529.01,132.80 L529.74,132.11 L530.46,131.42 L531.17,130.72 L531.88,130.02 L532.58,129.30 L533.27,128.58 L533.96,127.86 L534.64,127.13 L535.32,126.40 L536.00,125.66 L536.67,124.92 L537.35,124.19 L538.02,123.45 L538.69,122.71 L539.37,121.97 L540.04,121.23 L540.72,120.50 L541.40,119.76 L542.08,119.03 L542.76,118.30 L543.45,117.57 L544.14,116.85 L544.83,116.13 L545.52,115.41 L546.22,114.69 L546.92,113.98 L547.63,113.27 L548.34,112.57 L549.05,111.87 L549.77,111.17 L550.49,110.48 L551.22,109.80 L551.96,109.12 L552.70,108.45 L553.44,107.79 L554.19,107.13 L554.95,106.48 L555.72,105.84 L556.49,105.21 L557.27,104.58 L558.06,103.97 L558.85,103.36 L559.65,102.76 L560.45,102.17 L561.26,101.58 L562.07,100.99 L562.88,100.42 L563.70,99.84 L564.52,99.26 L565.34,98.69 L566.15,98.11 L566.97,97.54 L567.78,96.96 L568.59,96.37 L569.40,95.78 L570.21,95.19 L571.01,94.59 L571.80,93.99 L572.60,93.38 L573.39,92.77 L574.18,92.15 L574.96,91.54 L575.75,90.91 L576.53,90.29 L577.31,89.67 L578.09,89.05 L578.88,88.43 L579.67,87.81 L580.46,87.20 L581.25,86.59 L582.05,85.99 L582.85,85.40 L583.66,84.81 L584.47,84.24 L585.30,83.68 L586.13,83.13 L586.97,82.59 L587.82,82.07 L588.67,81.57 L589.54,81.08 L590.42,80.61 L591.30,80.16 L592.20,79.72 L593.10,79.30 L594.01,78.89 L594.93,78.50 L595.85,78.12 L596.78,77.75 L597.71,77.38 L598.64,77.03 L599.58,76.68 L600.51,76.34 L601.45,76.00 L602.40,75.66 L603.34,75.32 L604.28,74.98 L605.22,74.65 L606.16,74.32 L607.11,73.98 L608.05,73.65 L608.99,73.32 L609.94,72.99 L610.88,72.66 L611.83,72.33 L612.77,72.01 L613.72,71.68 L614.66,71.36 L615.61,71.04 L616.56,70.72 L617.51,70.40 L618.46,70.09 L619.41,69.78 L620.36,69.47 L621.31,69.17 L622.26,68.86 L623.22,68.57 L624.17,68.27 L625.13,67.98 L626.09,67.70 L627.05,67.41 L628.01,67.14 L628.97,66.87 L629.93,66.60 L630.90,66.34 L631.86,66.08 L632.83,65.83 L633.80,65.59 L634.77,65.35 L635.74,65.12 L636.72,64.89 L637.69,64.67 L638.67,64.46 L639.65,64.25 L640.63,64.05 L641.61,63.85 L642.59,63.66 L643.57,63.48 L644.55,63.30 L645.54,63.12 L646.52,62.95 L647.51,62.78 L648.49,62.62 L649.48,62.46 L650.47,62.30 L651.46,62.15 L652.45,62.00 L653.43,61.85 L654.42,61.71 L655.41,61.56 L656.40,61.42 L657.39,61.28 L658.38,61.14 L659.37,61.00 L660.37,60.87 L661.36,60.73 L662.35,60.60 L663.34,60.47 L664.33,60.34 L665.32,60.21 L666.31,60.08 L667.30,59.96 L668.28,59.84 L669.26,59.71 L670.24,59.59 L671.22,59.48 L672.19,59.36 L673.16,59.25 L674.13,59.13 L675.09,59.02 L676.04,58.91 L677.00,58.80" stroke="#7E2F8E"/>
<path d="M297.50,22.50 L298.49,22.62 L299.48,22.75 L300.48,22.87 L301.47,23.00 L302.46,23.13 L303.45,23.26 L304.44,23.40 L305.43,23.54 L306.42,23.69 L307.41,23.84 L308.40,23.99 L309.38,24.15 L310.37,24.31 L311.35,24.48 L312.34,24.66 L313.32,24.84 L314.30,25.02 L315.29,25.21 L316.27,25.41 L317.25,25.60 L318.23,25.81 L319.20,26.02 L320.18,26.23 L321.16,26.45 L322.13,26.67 L323.10,26.89 L324.08,27.12 L325.05,27.35 L326.02,27.59 L326.99,27.83 L327.96,28.07 L328.93,28.32 L329.90,28.57 L330.87,28.83 L331.83,29.08 L332.80,29.34 L333.76,29.61 L334.73,29.87 L335.69,30.14 L336.65,30.41 L337.61,30.69 L338.57,30.97 L339.53,31.26 L340.49,31.55 L341.44,31.84 L342.40,32.14 L343.35,32.44 L344.30,32.75 L345.25,33.06 L346.20,33.38 L347.14,33.70 L348.09,34.03 L349.03,34.36 L349.97,34.70 L350.91,35.05 L351.85,35.39 L352.78,35.75 L353.71,36.11 L354.64,36.48 L355.57,36.85 L356.50,37.23 L357.42,37.61 L358.34,38.00 L359.25,38.40 L360.16,38.81 L361.07,39.22 L361.98,39.65 L362.88,40.08 L363.78,40.52 L364.67,40.97 L365.56,41.42 L366.44,41.88 L367.33,42.35 L368.21,42.83 L369.08,43.31 L369.95,43.80 L370.82,44.29 L371.69,44.79 L372.56,45.29 L373.42,45.79 L374.28,46.30 L375.14,46.80 L376.01,47.31 L376.86,47.82 L377.72,48.34 L378.58,48.85 L379.44,49.36 L380.30,49.87 L381.16,50.39 L382.02,50.90 L382.87,51.42 L383.73,51.93 L384.59,52.44 L385.45,52.95 L386.31,53.45 L387.18,53.95 L388.05,54.44 L388.92,54.93 L389.79,55.41 L390.67,55.88 L391.55,56.34 L392.44,56.79 L393.32,57.25 L394.20,57.70 L395.07,58.16 L395.94,58.63 L396.79,59.12 L397.62,59.63 L398.43,60.17 L399.21,60.74 L399.97,61.34 L400.69,61.98 L401.39,62.65 L402.07,63.35 L402.72,64.08 L403.34,64.83 L403.95,65.60 L404.55,66.39 L405.14,67.19 L405.72,67.99 L406.31,68.80 L406.89,69.61 L407.47,70.42 L408.06,71.23 L408.66,72.03 L409.25,72.83 L409.86,73.63 L410.47,74.42 L411.08,75.21 L411.69,76.00 L412.31,76.79 L412.93,77.57 L413.55,78.36 L414.17,79.14 L414.79,79.92 L415.41,80.71 L416.03,81.49 L416.66,82.27 L417.28,83.05 L417.90,83.84 L418.52,84.62 L419.15,85.40 L419.77,86.19 L420.39,86.97 L421.01,87.75 L421.64,88.53 L422.26,89.31 L422.89,90.09 L423.52,90.87 L424.14,91.65 L424.77,92.43 L425.39,93.21 L426.02,93.99 L426.64,94.77 L427.26,95.56 L427.87,96.35 L428.48,97.14 L429.09,97.94 L429.69,98.73 L430.28,99.54 L430.86,100.35 L431.44,101.16 L432.01,101.98 L432.57,102.81 L433.12,103.64 L433.66,104.48 L434.19,105.33 L434.71,106.18 L435.22,107.04 L435.71,107.90 L436.20,108.77 L436.68,109.65 L437.15,110.53 L437.62,111.42 L438.07,112.30 L438.53,113.19 L438.98,114.09 L439.43,114.98 L439.88,115.87 L440.33,116.76 L440.79,117.65 L441.24,118.54 L441.70,119.43 L442.17,120.32 L442.64,121.20 L443.11,122.08 L443.58,122.96 L444.06,123.84 L444.54,124.72 L445.02,125.59 L445.51,126.47 L445.99,127.34 L446.48,128.21 L446.97,129.08 L447.46,129.95 L447.96,130.82 L448.45,131.69 L448.94,132.56 L449.44,133.43 L449.94,134.30 L450.43,135.17 L450.93,136.04 L451.42,136.91 L451.92,137.78 L452.41,138.64 L452.91,139.51 L453.40,140.38 L453.89,141.25 L454.39,142.12 L454.88,142.99 L455.37,143.86 L455.86,144.74 L456.35,145.61 L456.84,146.48 L457.34,147.35 L457.83,148.22 L458.32,149.09 L458.82,149.95 L459.32,150.82 L459.82,151.69 L460.32,152.55 L460.83,153.41 L461.33,154.28 L461.85,155.13 L462.36,155.99 L462.88,156.85 L463.40,157.70 L463.93,158.55 L464.45,159.40 L464.99,160.25 L465.52,161.09 L466.06,161.94 L466.59,162.78 L467.14,163.62 L467.69,164.45 L468.24,165.28 L468.80,166.10 L469.37,166.92 L469.96,167.73 L470.55,168.52 L471.16,169.31 L471.79,170.07 L472.44,170.82 L473.10,171.55 L473.79,172.26 L474.50,172.95 L475.23,173.60 L475.98,174.24 L476.75,174.84 L477.55,175.40 L478.36,175.93 L479.20,176.42 L480.05,176.86 L480.92,177.25 L481.80,177.59 L482.70,177.86 L483.60,178.07 L484.52,178.21 L485.44,178.27 L486.37,178.26 L487.29,178.18 L488.21,178.03 L489.12,177.81 L490.03,177.53 L490.92,177.20 L491.81,176.82 L492.68,176.39 L493.54,175.93 L494.39,175.43 L495.23,174.91 L496.05,174.36 L496.86,173.79 L497.66,173.20 L498.45,172.60 L499.22,171.97 L499.99,171.33 L500.73,170.68 L501.46,170.01 L502.18,169.32 L502.88,168.62 L503.57,167.90 L504.24,167.16 L504.90,166.42 L505.55,165.66 L506.18,164.89 L506.80,164.11 L507.41,163.32 L508.01,162.52 L508.60,161.72 L509.19,160.91 L509.76,160.09 L510.33,159.27 L510.90,158.45 L511.45,157.62 L512.01,156.79 L512.56,155.95 L513.10,155.11 L513.64,154.27 L514.18,153.43 L514.72,152.59 L515.26,151.74 L515.79,150.90 L516.32,150.05 L516.86,149.20 L517.39,148.36 L517.92,147.51 L518.45,146.67 L518.99,145.82 L519.52,144.97 L520.06,144.13 L520.60,143.29 L521.14,142.45 L521.68,141.61 L522.23,140.77 L522.78,139.94 L523.33,139.11 L523.89,138.28 L524.46,137.45 L525.02,136.63 L525.59,135.81 L526.17,134.99 L526.75,134.17 L527.33,133.36 L527.91,132.55 L528.49,131.73 L529.07,130.92 L529.64,130.10 L530.22,129.28 L530.79,128.47 L531.36,127.64 L531.93,126.82 L532.49,126.00 L533.06,125.17 L533.62,124.34 L534.17,123.51 L534.73,122.68 L535.29,121.85 L535.86,121.03 L536.42,120.20 L536.99,119.38 L537.57,118.57 L538.15,117.75 L538.73,116.94 L539.32,116.14 L539.92,115.34 L540.53,114.54 L541.14,113.75 L541.76,112.97 L542.39,112.19 L543.02,111.42 L543.67,110.66 L544.32,109.91 L544.98,109.16 L545.65,108.42 L546.33,107.69 L547.02,106.97 L547.72,106.25 L548.42,105.55 L549.14,104.85 L549.85,104.15 L550.58,103.46 L551.31,102.78 L552.04,102.10 L552.77,101.42 L553.51,100.74 L554.24,100.07 L554.98,99.39 L555.71,98.71 L556.44,98.02 L557.17,97.34 L557.89,96.65 L558.62,95.96 L559.34,95.27 L560.05,94.57 L560.77,93.87 L561.48,93.17 L562.19,92.47 L562.90,91.76 L563.61,91.06 L564.32,90.36 L565.03,89.65 L565.74,88.95 L566.45,88.25 L567.17,87.54 L567.88,86.85 L568.60,86.15 L569.32,85.46 L570.05,84.77 L570.78,84.09 L571.51,83.41 L572.25,82.74 L573.00,82.08 L573.75,81.42 L574.51,80.77 L575.28,80.13 L576.05,79.50 L576.83,78.89 L577.63,78.28 L578.43,77.69 L579.24,77.10 L580.05,76.53 L580.88,75.98 L581.72,75.43 L582.56,74.90 L583.41,74.37 L584.26,73.86 L585.13,73.36 L586.00,72.87 L586.87,72.39 L587.75,71.91 L588.63,71.45 L589.52,70.99 L590.41,70.54 L591.31,70.10 L592.21,69.67 L593.12,69.24 L594.02,68.83 L594.93,68.42 L595.85,68.02 L596.77,67.62 L597.69,67.24 L598.62,66.86 L599.54,66.49 L600.48,66.13 L601.41,65.78 L602.35,65.43 L603.29,65.09 L604.23,64.76 L605.18,64.44 L606.12,64.12 L607.07,63.81 L608.02,63.50 L608.98,63.20 L609.93,62.90 L610.89,62.60 L611.84,62.31 L612.80,62.02 L613.76,61.74 L614.72,61.45 L615.68,61.17 L616.63,60.89 L617.59,60.60 L618.55,60.32 L619.51,60.03 L620.47,59.75 L621.43,59.46 L622.39,59.18 L623.34,58.89 L624.30,58.61 L625.26,58.32 L626.22,58.04 L627.18,57.76 L628.14,57.48 L629.10,57.20 L630.06,56.93 L631.02,56.66 L631.99,56.40 L632.95,56.14 L633.92,55.89 L634.89,55.65 L635.86,55.41 L636.84,55.18 L637.81,54.96 L638.79,54.75 L639.76,54.55 L640.74,54.35 L641.72,54.16 L642.71,53.97 L643.69,53.79 L644.67,53.62 L645.66,53.45 L646.65,53.29 L647.63,53.13 L648.62,52.97 L649.61,52.82 L650.60,52.68 L651.59,52.53 L652.58,52.40 L653.57,52.27 L654.56,52.14 L655.55,52.02 L656.55,51.90 L657.54,51.79 L658.53,51.68 L659.53,51.57 L660.52,51.48 L661.52,51.38 L662.51,51.29 L663.51,51.21 L664.50,51.13 L665.50,51.05 L666.49,50.98 L667.48,50.91 L668.46,50.85 L669.44,50.78 L670.41,50.73 L671.38,50.67 L672.34,50.62 L673.28,50.57 L674.22,50.53 L675.15,50.48 L676.08,50.44 L677.00,50.40" stroke="#77AC30"/>
<path d="M297.50,21.80 L298.49,21.92 L299.49,22.03 L300.48,22.15 L301.47,22.27 L302.46,22.40 L303.46,22.53 L304.45,22.66 L305.44,22.79 L306.43,22.93 L307.42,23.08 L308.40,23.23 L309.39,23.38 L310.38,23.54 L311.36,23.71 L312.35,23.88 L313.33,24.05 L314.32,24.23 L315.30,24.42 L316.28,24.61 L317.26,24.80 L318.24,25.01 L319.22,25.21 L320.20,25.42 L321.17,25.64 L322.15,25.86 L323.12,26.08 L324.09,26.31 L325.07,26.54 L326.04,26.78 L327.01,27.02 L327.98,27.26 L328.95,27.50 L329.92,27.75 L330.88,28.01 L331.85,28.26 L332.82,28.52 L333.78,28.78 L334.75,29.05 L335.71,29.31 L336.67,29.58 L337.63,29.86 L338.59,30.14 L339.55,30.42 L340.51,30.71 L341.47,31.00 L342.42,31.29 L343.38,31.59 L344.33,31.89 L345.28,32.20 L346.23,32.52 L347.18,32.83 L348.12,33.16 L349.07,33.49 L350.01,33.82 L350.95,34.16 L351.89,34.51 L352.82,34.86 L353.75,35.22 L354.69,35.58 L355.61,35.95 L356.54,36.33 L357.46,36.72 L358.38,37.11 L359.29,37.51 L360.21,37.92 L361.11,38.33 L362.02,38.76 L362.92,39.19 L363.81,39.64 L364.70,40.09 L365.59,40.55 L366.47,41.02 L367.35,41.49 L368.23,41.97 L369.10,42.46 L369.97,42.96 L370.83,43.46 L371.69,43.96 L372.56,44.47 L373.41,44.98 L374.27,45.50 L375.13,46.02 L375.98,46.54 L376.83,47.06 L377.69,47.58 L378.54,48.10 L379.39,48.63 L380.24,49.15 L381.09,49.68 L381.94,50.21 L382.79,50.74 L383.64,51.26 L384.49,51.79 L385.34,52.32 L386.19,52.84 L387.04,53.36 L387.90,53.88 L388.75,54.39 L389.62,54.89 L390.48,55.38 L391.36,55.87 L392.23,56.35 L393.11,56.82 L393.99,57.29 L394.87,57.76 L395.74,58.23 L396.61,58.71 L397.48,59.19 L398.34,59.69 L399.18,60.21 L400.01,60.75 L400.83,61.31 L401.63,61.89 L402.41,62.50 L403.17,63.12 L403.92,63.77 L404.65,64.44 L405.37,65.13 L406.07,65.83 L406.76,66.55 L407.43,67.28 L408.10,68.03 L408.75,68.78 L409.39,69.54 L410.02,70.32 L410.65,71.10 L411.26,71.88 L411.87,72.68 L412.47,73.47 L413.07,74.27 L413.66,75.08 L414.24,75.89 L414.82,76.71 L415.39,77.53 L415.95,78.35 L416.51,79.18 L417.06,80.02 L417.60,80.85 L418.14,81.70 L418.66,82.55 L419.18,83.40 L419.69,84.26 L420.19,85.12 L420.69,85.99 L421.17,86.87 L421.65,87.74 L422.12,88.62 L422.59,89.51 L423.06,90.39 L423.51,91.28 L423.97,92.17 L424.42,93.06 L424.88,93.95 L425.32,94.85 L425.77,95.74 L426.22,96.63 L426.66,97.53 L427.11,98.43 L427.55,99.32 L428.00,100.22 L428.44,101.12 L428.88,102.01 L429.32,102.91 L429.76,103.81 L430.19,104.71 L430.63,105.61 L431.06,106.51 L431.49,107.41 L431.92,108.32 L432.35,109.22 L432.78,110.12 L433.21,111.03 L433.63,111.93 L434.06,112.84 L434.48,113.74 L434.90,114.65 L435.33,115.55 L435.75,116.46 L436.18,117.37 L436.60,118.27 L437.03,119.18 L437.45,120.08 L437.88,120.99 L438.30,121.89 L438.73,122.80 L439.15,123.70 L439.58,124.61 L440.01,125.51 L440.43,126.42 L440.86,127.32 L441.28,128.23 L441.70,129.13 L442.12,130.04 L442.54,130.95 L442.96,131.86 L443.38,132.77 L443.79,133.68 L444.20,134.59 L444.60,135.50 L445.00,136.42 L445.40,137.34 L445.79,138.25 L446.18,139.18 L446.57,140.10 L446.95,141.02 L447.32,141.95 L447.70,142.88 L448.06,143.81 L448.43,144.74 L448.79,145.67 L449.15,146.60 L449.50,147.54 L449.86,148.47 L450.21,149.41 L450.56,150.35 L450.91,151.28 L451.26,152.22 L451.61,153.15 L451.97,154.09 L452.32,155.03 L452.67,155.96 L453.03,156.89 L453.39,157.83 L453.75,158.76 L454.11,159.69 L454.48,160.62 L454.84,161.55 L455.21,162.48 L455.58,163.41 L455.95,164.34 L456.33,165.27 L456.70,166.20 L457.08,167.12 L457.46,168.05 L457.84,168.97 L458.22,169.90 L458.61,170.82 L459.00,171.74 L459.39,172.66 L459.78,173.58 L460.18,174.50 L460.58,175.41 L460.98,176.33 L461.39,177.24 L461.79,178.15 L462.21,179.07 L462.62,179.98 L463.03,180.89 L463.45,181.79 L463.87,182.70 L464.29,183.61 L464.72,184.51 L465.15,185.42 L465.57,186.32 L466.01,187.22 L466.44,188.12 L466.89,189.02 L467.33,189.91 L467.79,190.80 L468.25,191.68 L468.72,192.56 L469.21,193.44 L469.70,194.30 L470.21,195.16 L470.73,196.00 L471.27,196.84 L471.82,197.67 L472.39,198.48 L472.98,199.28 L473.59,200.07 L474.21,200.84 L474.85,201.58 L475.50,202.30 L476.18,202.99 L476.87,203.64 L477.58,204.24 L478.31,204.78 L479.05,205.25 L479.80,205.64 L480.56,205.93 L481.33,206.12 L482.09,206.20 L482.85,206.16 L483.60,206.01 L484.33,205.74 L485.04,205.37 L485.73,204.91 L486.39,204.36 L487.04,203.74 L487.66,203.07 L488.27,202.35 L488.87,201.59 L489.45,200.81 L490.03,200.02 L490.60,199.21 L491.17,198.39 L491.74,197.57 L492.30,196.75 L492.87,195.92 L493.43,195.09 L493.98,194.26 L494.54,193.43 L495.09,192.60 L495.64,191.77 L496.19,190.93 L496.73,190.09 L497.28,189.25 L497.81,188.41 L498.35,187.56 L498.88,186.71 L499.41,185.86 L499.93,185.01 L500.46,184.16 L500.98,183.31 L501.50,182.46 L502.02,181.60 L502.53,180.74 L503.05,179.89 L503.56,179.03 L504.07,178.17 L504.58,177.31 L505.09,176.45 L505.59,175.58 L506.09,174.72 L506.59,173.85 L507.09,172.98 L507.58,172.12 L508.08,171.24 L508.56,170.37 L509.05,169.50 L509.52,168.62 L510.00,167.74 L510.47,166.86 L510.93,165.97 L511.39,165.08 L511.85,164.19 L512.29,163.30 L512.74,162.40 L513.17,161.50 L513.60,160.60 L514.02,159.69 L514.43,158.78 L514.84,157.87 L515.23,156.95 L515.63,156.03 L516.01,155.11 L516.39,154.19 L516.76,153.26 L517.13,152.33 L517.50,151.40 L517.86,150.47 L518.21,149.53 L518.57,148.60 L518.92,147.66 L519.28,146.73 L519.63,145.79 L519.98,144.86 L520.34,143.92 L520.69,142.99 L521.05,142.06 L521.42,141.13 L521.79,140.20 L522.16,139.27 L522.54,138.35 L522.93,137.42 L523.32,136.51 L523.72,135.59 L524.14,134.68 L524.56,133.78 L524.99,132.88 L525.43,131.98 L525.88,131.09 L526.34,130.20 L526.80,129.32 L527.28,128.44 L527.76,127.57 L528.25,126.69 L528.74,125.82 L529.24,124.96 L529.74,124.09 L530.24,123.22 L530.74,122.36 L531.24,121.49 L531.74,120.63 L532.24,119.76 L532.74,118.89 L533.23,118.03 L533.73,117.16 L534.22,116.29 L534.71,115.42 L535.20,114.54 L535.69,113.67 L536.19,112.80 L536.68,111.93 L537.18,111.07 L537.67,110.20 L538.18,109.33 L538.68,108.47 L539.19,107.61 L539.71,106.76 L540.23,105.90 L540.76,105.06 L541.29,104.22 L541.84,103.38 L542.39,102.55 L542.96,101.73 L543.54,100.92 L544.13,100.12 L544.73,99.32 L545.35,98.54 L545.97,97.76 L546.60,96.99 L547.24,96.22 L547.88,95.46 L548.53,94.70 L549.17,93.93 L549.81,93.17 L550.45,92.40 L551.09,91.63 L551.72,90.85 L552.34,90.07 L552.96,89.29 L553.58,88.50 L554.19,87.72 L554.80,86.93 L555.42,86.14 L556.03,85.36 L556.66,84.58 L557.29,83.80 L557.93,83.04 L558.58,82.29 L559.24,81.54 L559.92,80.81 L560.61,80.09 L561.31,79.39 L562.02,78.70 L562.75,78.02 L563.49,77.35 L564.24,76.70 L565.00,76.05 L565.77,75.42 L566.55,74.80 L567.34,74.18 L568.14,73.58 L568.94,72.99 L569.75,72.40 L570.56,71.82 L571.38,71.25 L572.21,70.69 L573.04,70.13 L573.87,69.58 L574.71,69.04 L575.55,68.50 L576.40,67.97 L577.25,67.45 L578.10,66.93 L578.96,66.41 L579.82,65.90 L580.69,65.40 L581.55,64.90 L582.42,64.41 L583.30,63.93 L584.17,63.45 L585.05,62.98 L585.94,62.51 L586.82,62.04 L587.71,61.58 L588.60,61.13 L589.49,60.67 L590.38,60.22 L591.28,59.78 L592.18,59.34 L593.08,58.91 L593.98,58.48 L594.89,58.06 L595.79,57.65 L596.71,57.25 L597.63,56.85 L598.55,56.47 L599.48,56.11 L600.41,55.75 L601.34,55.41 L602.29,55.07 L603.23,54.75 L604.18,54.43 L605.13,54.12 L606.08,53.82 L607.03,53.52 L607.99,53.23 L608.95,52.95 L609.91,52.67 L610.87,52.40 L611.83,52.13 L612.80,51.86 L613.76,51.60 L614.73,51.34 L615.70,51.09 L616.66,50.84 L617.63,50.60 L618.60,50.36 L619.58,50.13 L620.55,49.90 L621.52,49.68 L622.50,49.46 L623.48,49.24 L624.45,49.03 L625.43,48.83 L626.41,48.63 L627.39,48.44 L628.38,48.25 L629.36,48.07 L630.34,47.89 L631.33,47.72 L632.31,47.56 L633.30,47.40 L634.29,47.24 L635.28,47.10 L636.26,46.95 L637.25,46.81 L638.25,46.68 L639.24,46.55 L640.23,46.43 L641.22,46.31 L642.21,46.19 L643.21,46.08 L644.20,45.98 L645.20,45.87 L646.19,45.77 L647.19,45.67 L648.18,45.58 L649.18,45.49 L650.17,45.40 L651.17,45.32 L652.17,45.23 L653.16,45.16 L654.16,45.08 L655.16,45.01 L656.16,44.94 L657.15,44.87 L658.15,44.80 L659.15,44.74 L660.15,44.68 L661.15,44.63 L662.14,44.57 L663.14,44.52 L664.14,44.47 L665.14,44.42 L666.14,44.38 L667.13,44.33 L668.13,44.29 L669.12,44.25 L670.11,44.22 L671.10,44.18 L672.09,44.15 L673.08,44.12 L674.06,44.09 L675.04,44.06 L676.02,44.03 L677.00,44.00" stroke="#4DBEEE"/>
<path d="M297.50,21.10 L298.49,21.21 L299.49,21.32 L300.48,21.43 L301.47,21.55 L302.47,21.67 L303.46,21.79 L304.45,21.91 L305.44,22.04 L306.43,22.18 L307.42,22.32 L308.41,22.46 L309.40,22.61 L310.39,22.77 L311.37,22.93 L312.36,23.09 L313.35,23.26 L314.33,23.44 L315.31,23.62 L316.29,23.81 L317.27,24.01 L318.25,24.20 L319.23,24.41 L320.21,24.62 L321.19,24.83 L322.16,25.05 L323.14,25.27 L324.11,25.50 L325.08,25.73 L326.06,25.96 L327.03,26.20 L328.00,26.44 L328.97,26.69 L329.93,26.94 L330.90,27.19 L331.87,27.44 L332.84,27.70 L333.80,27.96 L334.77,28.22 L335.73,28.49 L336.69,28.75 L337.66,29.03 L338.62,29.30 L339.58,29.58 L340.54,29.86 L341.49,30.15 L342.45,30.44 L343.41,30.74 L344.36,31.04 L345.31,31.34 L346.26,31.65 L347.21,31.97 L348.16,32.29 L349.10,32.61 L350.04,32.94 L350.99,33.28 L351.92,33.62 L352.86,33.97 L353.80,34.33 L354.73,34.69 L355.66,35.06 L356.58,35.44 L357.50,35.82 L358.42,36.21 L359.34,36.61 L360.25,37.02 L361.15,37.44 L362.06,37.87 L362.95,38.31 L363.85,38.75 L364.74,39.21 L365.62,39.67 L366.50,40.15 L367.38,40.63 L368.25,41.12 L369.11,41.61 L369.98,42.11 L370.84,42.62 L371.70,43.14 L372.55,43.65 L373.41,44.17 L374.26,44.70 L375.11,45.23 L375.95,45.76 L376.80,46.29 L377.65,46.82 L378.49,47.36 L379.33,47.89 L380.18,48.43 L381.02,48.97 L381.86,49.51 L382.70,50.05 L383.54,50.60 L384.38,51.14 L385.22,51.68 L386.06,52.22 L386.90,52.76 L387.75,53.29 L388.59,53.82 L389.44,54.35 L390.30,54.86 L391.16,55.37 L392.02,55.88 L392.88,56.37 L393.75,56.87 L394.62,57.36 L395.48,57.85 L396.34,58.35 L397.20,58.85 L398.05,59.37 L398.89,59.90 L399.71,60.45 L400.52,61.02 L401.32,61.61 L402.10,62.22 L402.87,62.85 L403.62,63.50 L404.35,64.17 L405.07,64.85 L405.77,65.55 L406.46,66.27 L407.14,67.00 L407.80,67.74 L408.46,68.49 L409.10,69.26 L409.73,70.03 L410.35,70.81 L410.97,71.60 L411.58,72.39 L412.17,73.19 L412.76,73.99 L413.35,74.81 L413.92,75.62 L414.49,76.44 L415.05,77.27 L415.60,78.10 L416.15,78.94 L416.68,79.78 L417.20,80.63 L417.72,81.49 L418.22,82.35 L418.72,83.22 L419.20,84.09 L419.67,84.97 L420.14,85.85 L420.60,86.74 L421.04,87.63 L421.49,88.53 L421.92,89.43 L422.35,90.33 L422.78,91.24 L423.20,92.14 L423.63,93.05 L424.04,93.96 L424.46,94.87 L424.88,95.77 L425.29,96.68 L425.71,97.59 L426.12,98.50 L426.54,99.41 L426.95,100.32 L427.37,101.23 L427.78,102.14 L428.19,103.05 L428.61,103.96 L429.02,104.88 L429.43,105.79 L429.84,106.70 L430.25,107.61 L430.65,108.53 L431.06,109.44 L431.46,110.36 L431.86,111.27 L432.26,112.19 L432.66,113.11 L433.06,114.02 L433.45,114.94 L433.84,115.86 L434.23,116.78 L434.62,117.70 L435.01,118.63 L435.39,119.55 L435.78,120.47 L436.16,121.40 L436.54,122.32 L436.92,123.25 L437.30,124.17 L437.67,125.10 L438.05,126.03 L438.42,126.96 L438.79,127.89 L439.15,128.82 L439.51,129.75 L439.87,130.68 L440.23,131.61 L440.58,132.55 L440.93,133.49 L441.28,134.43 L441.62,135.37 L441.95,136.31 L442.28,137.25 L442.61,138.20 L442.93,139.14 L443.25,140.09 L443.55,141.04 L443.86,141.99 L444.16,142.95 L444.45,143.90 L444.74,144.86 L445.03,145.82 L445.31,146.78 L445.59,147.74 L445.87,148.70 L446.14,149.66 L446.42,150.62 L446.69,151.58 L446.96,152.54 L447.24,153.51 L447.51,154.47 L447.79,155.43 L448.07,156.39 L448.35,157.35 L448.64,158.30 L448.93,159.26 L449.22,160.22 L449.52,161.17 L449.81,162.13 L450.12,163.08 L450.42,164.03 L450.73,164.98 L451.04,165.94 L451.35,166.89 L451.66,167.84 L451.97,168.78 L452.29,169.73 L452.61,170.68 L452.92,171.63 L453.24,172.58 L453.55,173.53 L453.87,174.48 L454.18,175.43 L454.49,176.38 L454.80,177.33 L455.11,178.28 L455.42,179.23 L455.73,180.18 L456.03,181.14 L456.33,182.09 L456.63,183.04 L456.93,184.00 L457.23,184.95 L457.53,185.91 L457.82,186.86 L458.12,187.82 L458.41,188.77 L458.70,189.73 L459.00,190.68 L459.29,191.64 L459.59,192.60 L459.88,193.55 L460.18,194.51 L460.48,195.46 L460.78,196.41 L461.08,197.37 L461.38,198.32 L461.68,199.28 L461.98,200.23 L462.28,201.18 L462.59,202.13 L462.89,203.09 L463.20,204.04 L463.50,204.99 L463.81,205.94 L464.12,206.89 L464.43,207.84 L464.74,208.79 L465.06,209.74 L465.38,210.69 L465.71,211.63 L466.04,212.58 L466.37,213.52 L466.71,214.46 L467.06,215.40 L467.41,216.33 L467.78,217.26 L468.15,218.19 L468.52,219.12 L468.90,220.04 L469.29,220.96 L469.68,221.88 L470.07,222.80 L470.48,223.71 L470.88,224.63 L471.29,225.54 L471.71,226.44 L472.14,227.34 L472.57,228.23 L473.02,229.11 L473.48,229.97 L473.96,230.80 L474.46,231.60 L474.98,232.35 L475.52,233.04 L476.09,233.66 L476.67,234.20 L477.28,234.63 L477.90,234.95 L478.54,235.14 L479.17,235.20 L479.81,235.13 L480.43,234.92 L481.03,234.59 L481.62,234.15 L482.18,233.60 L482.71,232.96 L483.22,232.25 L483.71,231.48 L484.17,230.66 L484.62,229.82 L485.05,228.94 L485.46,228.05 L485.88,227.15 L486.28,226.25 L486.69,225.33 L487.09,224.42 L487.50,223.51 L487.91,222.60 L488.33,221.69 L488.75,220.78 L489.17,219.88 L489.60,218.98 L490.04,218.08 L490.48,217.18 L490.92,216.28 L491.36,215.39 L491.81,214.49 L492.25,213.59 L492.69,212.70 L493.13,211.80 L493.57,210.90 L494.00,210.00 L494.43,209.10 L494.86,208.19 L495.28,207.28 L495.69,206.37 L496.10,205.46 L496.50,204.55 L496.90,203.63 L497.28,202.71 L497.67,201.79 L498.04,200.86 L498.41,199.93 L498.77,199.00 L499.12,198.06 L499.46,197.12 L499.80,196.18 L500.13,195.24 L500.46,194.30 L500.78,193.35 L501.10,192.40 L501.42,191.45 L501.73,190.50 L502.04,189.55 L502.34,188.60 L502.65,187.65 L502.96,186.70 L503.26,185.74 L503.56,184.79 L503.87,183.84 L504.17,182.89 L504.47,181.93 L504.78,180.98 L505.08,180.03 L505.38,179.07 L505.68,178.12 L505.98,177.16 L506.28,176.21 L506.57,175.26 L506.87,174.30 L507.17,173.35 L507.47,172.39 L507.77,171.44 L508.07,170.48 L508.37,169.53 L508.67,168.58 L508.97,167.62 L509.27,166.67 L509.57,165.72 L509.87,164.76 L510.18,163.81 L510.49,162.86 L510.79,161.91 L511.10,160.96 L511.41,160.00 L511.72,159.05 L512.03,158.10 L512.34,157.15 L512.65,156.20 L512.96,155.25 L513.27,154.30 L513.58,153.35 L513.89,152.40 L514.20,151.45 L514.51,150.50 L514.82,149.55 L515.13,148.60 L515.44,147.65 L515.75,146.69 L516.06,145.74 L516.38,144.79 L516.69,143.85 L517.00,142.90 L517.32,141.95 L517.64,141.00 L517.95,140.05 L518.27,139.10 L518.59,138.16 L518.92,137.21 L519.24,136.26 L519.57,135.32 L519.90,134.38 L520.23,133.43 L520.57,132.49 L520.91,131.55 L521.25,130.61 L521.60,129.67 L521.95,128.74 L522.30,127.80 L522.66,126.87 L523.02,125.94 L523.39,125.01 L523.77,124.08 L524.15,123.16 L524.53,122.23 L524.92,121.31 L525.32,120.40 L525.72,119.48 L526.13,118.57 L526.55,117.66 L526.97,116.76 L527.40,115.85 L527.83,114.95 L528.27,114.06 L528.72,113.16 L529.17,112.27 L529.62,111.38 L530.09,110.49 L530.55,109.61 L531.03,108.73 L531.50,107.85 L531.99,106.98 L532.48,106.10 L532.97,105.23 L533.47,104.37 L533.97,103.50 L534.48,102.64 L534.99,101.78 L535.51,100.93 L536.03,100.07 L536.55,99.22 L537.08,98.38 L537.62,97.53 L538.16,96.69 L538.70,95.85 L539.25,95.01 L539.80,94.18 L540.35,93.35 L540.91,92.52 L541.48,91.70 L542.05,90.88 L542.62,90.06 L543.20,89.24 L543.78,88.43 L544.37,87.62 L544.96,86.81 L545.55,86.00 L546.15,85.20 L546.75,84.40 L547.35,83.61 L547.96,82.81 L548.57,82.02 L549.18,81.23 L549.79,80.44 L550.41,79.66 L551.03,78.87 L551.66,78.09 L552.29,77.32 L552.93,76.55 L553.57,75.78 L554.21,75.02 L554.87,74.27 L555.53,73.52 L556.21,72.79 L556.89,72.07 L557.59,71.35 L558.30,70.66 L559.02,69.97 L559.76,69.30 L560.51,68.65 L561.27,68.01 L562.05,67.39 L562.83,66.78 L563.63,66.19 L564.44,65.61 L565.27,65.05 L566.09,64.49 L566.93,63.95 L567.77,63.42 L568.63,62.89 L569.48,62.38 L570.34,61.87 L571.21,61.37 L572.08,60.88 L572.95,60.40 L573.83,59.92 L574.71,59.45 L575.59,58.98 L576.48,58.52 L577.37,58.07 L578.27,57.63 L579.17,57.19 L580.07,56.76 L580.97,56.34 L581.88,55.92 L582.79,55.50 L583.70,55.09 L584.62,54.69 L585.54,54.29 L586.45,53.90 L587.38,53.51 L588.30,53.13 L589.22,52.75 L590.15,52.38 L591.08,52.02 L592.02,51.66 L592.95,51.32 L593.89,50.98 L594.84,50.65 L595.78,50.32 L596.73,50.01 L597.68,49.71 L598.64,49.41 L599.59,49.12 L600.55,48.84 L601.51,48.56 L602.47,48.29 L603.44,48.02 L604.40,47.76 L605.37,47.51 L606.34,47.25 L607.30,47.00 L608.27,46.76 L609.24,46.51 L610.21,46.27 L611.18,46.03 L612.16,45.80 L613.13,45.57 L614.10,45.34 L615.08,45.12 L616.05,44.90 L617.03,44.68 L618.00,44.47 L618.98,44.26 L619.96,44.05 L620.94,43.85 L621.92,43.66 L622.90,43.47 L623.88,43.29 L624.87,43.11 L625.85,42.94 L626.84,42.77 L627.82,42.61 L628.81,42.45 L629.80,42.30 L630.79,42.16 L631.78,42.03 L632.77,41.90 L633.76,41.78 L634.76,41.66 L635.75,41.55 L636.74,41.45 L637.74,41.36 L638.73,41.26 L639.73,41.18 L640.73,41.10 L641.72,41.02 L642.72,40.95 L643.72,40.88 L644.72,40.82 L645.71,40.75 L646.71,40.69 L647.71,40.64 L648.71,40.58 L649.71,40.53 L650.71,40.48 L651.70,40.43 L652.70,40.39 L653.70,40.35 L654.70,40.31 L655.70,40.28 L656.70,40.25 L657.70,40.22 L658.70,40.20 L659.70,40.19 L660.70,40.17 L661.70,40.17 L662.70,40.16 L663.70,40.17 L664.70,40.17 L665.69,40.18 L666.69,40.20 L667.69,40.22 L668.68,40.25 L669.67,40.28 L670.66,40.31 L671.64,40.35 L672.62,40.39 L673.60,40.43 L674.57,40.48 L675.55,40.53 L676.52,40.58" stroke="#A2142F"/>
<path d="M297.50,20.40 L298.49,20.50 L299.49,20.61 L300.48,20.71 L301.48,20.82 L302.47,20.93 L303.46,21.05 L304.46,21.17 L305.45,21.29 L306.44,21.42 L307.43,21.56 L308.42,21.70 L309.41,21.84 L310.40,21.99 L311.38,22.15 L312.37,22.31 L313.36,22.48 L314.34,22.65 L315.32,22.83 L316.31,23.01 L317.29,23.20 L318.27,23.40 L319.25,23.60 L320.22,23.81 L321.20,24.02 L322.18,24.24 L323.15,24.46 L324.13,24.69 L325.10,24.92 L326.07,25.15 L327.04,25.39 L328.01,25.63 L328.98,25.87 L329.95,26.12 L330.92,26.37 L331.89,26.62 L332.85,26.87 L333.82,27.13 L334.79,27.39 L335.75,27.66 L336.71,27.92 L337.68,28.19 L338.64,28.47 L339.60,28.74 L340.56,29.02 L341.52,29.30 L342.48,29.59 L343.43,29.88 L344.39,30.18 L345.34,30.48 L346.29,30.79 L347.24,31.10 L348.19,31.41 L349.14,31.74 L350.08,32.06 L351.02,32.40 L351.96,32.74 L352.90,33.08 L353.83,33.44 L354.77,33.80 L355.70,34.17 L356.62,34.54 L357.54,34.92 L358.46,35.32 L359.38,35.72 L360.29,36.13 L361.19,36.55 L362.09,36.98 L362.99,37.42 L363.88,37.87 L364.77,38.33 L365.65,38.80 L366.53,39.28 L367.40,39.76 L368.27,40.26 L369.13,40.76 L369.99,41.27 L370.84,41.79 L371.70,42.31 L372.55,42.83 L373.40,43.36 L374.24,43.90 L375.08,44.43 L375.93,44.97 L376.77,45.52 L377.60,46.06 L378.44,46.61 L379.28,47.15 L380.11,47.70 L380.95,48.26 L381.78,48.81 L382.61,49.36 L383.44,49.92 L384.27,50.48 L385.10,51.04 L385.93,51.59 L386.76,52.15 L387.60,52.70 L388.43,53.25 L389.27,53.79 L390.11,54.33 L390.95,54.86 L391.80,55.39 L392.65,55.91 L393.51,56.42 L394.36,56.94 L395.22,57.45 L396.07,57.97 L396.91,58.50 L397.75,59.03 L398.58,59.58 L399.39,60.15 L400.20,60.73 L400.98,61.33 L401.76,61.95 L402.52,62.59 L403.26,63.25 L403.98,63.92 L404.70,64.62 L405.39,65.33 L406.08,66.05 L406.75,66.79 L407.40,67.54 L408.05,68.29 L408.68,69.06 L409.31,69.84 L409.92,70.63 L410.53,71.42 L411.13,72.22 L411.71,73.03 L412.29,73.84 L412.87,74.66 L413.43,75.48 L413.99,76.31 L414.53,77.15 L415.07,77.99 L415.60,78.84 L416.12,79.69 L416.63,80.55 L417.13,81.41 L417.62,82.28 L418.10,83.16 L418.57,84.04 L419.03,84.92 L419.48,85.82 L419.92,86.71 L420.35,87.61 L420.78,88.52 L421.20,89.42 L421.61,90.33 L422.02,91.25 L422.42,92.16 L422.82,93.08 L423.22,93.99 L423.62,94.91 L424.01,95.83 L424.41,96.75 L424.80,97.67 L425.19,98.59 L425.58,99.51 L425.97,100.43 L426.36,101.35 L426.74,102.28 L427.13,103.20 L427.51,104.12 L427.89,105.05 L428.27,105.97 L428.65,106.90 L429.02,107.83 L429.40,108.75 L429.77,109.68 L430.14,110.61 L430.51,111.54 L430.87,112.47 L431.24,113.40 L431.60,114.33 L431.97,115.26 L432.33,116.19 L432.69,117.13 L433.05,118.06 L433.41,118.99 L433.78,119.92 L434.14,120.86 L434.50,121.79 L434.86,122.72 L435.22,123.66 L435.58,124.59 L435.93,125.52 L436.29,126.46 L436.64,127.39 L437.00,128.33 L437.35,129.26 L437.69,130.20 L438.04,131.14 L438.38,132.08 L438.71,133.02 L439.04,133.97 L439.37,134.91 L439.68,135.86 L440.00,136.81 L440.30,137.76 L440.60,138.71 L440.90,139.67 L441.19,140.63 L441.47,141.58 L441.74,142.55 L442.01,143.51 L442.27,144.47 L442.53,145.44 L442.79,146.41 L443.04,147.37 L443.28,148.34 L443.53,149.31 L443.77,150.28 L444.01,151.25 L444.25,152.22 L444.50,153.19 L444.74,154.16 L444.99,155.13 L445.23,156.10 L445.48,157.07 L445.74,158.03 L445.99,159.00 L446.25,159.97 L446.52,160.93 L446.79,161.89 L447.06,162.86 L447.33,163.82 L447.61,164.78 L447.89,165.74 L448.17,166.70 L448.45,167.66 L448.74,168.62 L449.02,169.57 L449.30,170.53 L449.58,171.49 L449.86,172.45 L450.14,173.41 L450.41,174.38 L450.68,175.34 L450.95,176.30 L451.21,177.27 L451.47,178.23 L451.72,179.20 L451.97,180.17 L452.21,181.14 L452.45,182.11 L452.68,183.08 L452.91,184.05 L453.14,185.03 L453.36,186.00 L453.58,186.98 L453.79,187.96 L454.01,188.93 L454.22,189.91 L454.43,190.89 L454.64,191.86 L454.85,192.84 L455.07,193.82 L455.28,194.80 L455.49,195.77 L455.70,196.75 L455.92,197.73 L456.13,198.70 L456.35,199.68 L456.56,200.66 L456.78,201.63 L457.00,202.61 L457.22,203.58 L457.45,204.56 L457.67,205.53 L457.89,206.51 L458.12,207.48 L458.34,208.46 L458.57,209.43 L458.80,210.40 L459.02,211.38 L459.26,212.35 L459.49,213.32 L459.72,214.30 L459.96,215.27 L460.19,216.24 L460.43,217.21 L460.68,218.18 L460.92,219.15 L461.17,220.12 L461.42,221.09 L461.67,222.05 L461.92,223.02 L462.18,223.99 L462.44,224.95 L462.70,225.92 L462.96,226.88 L463.22,227.85 L463.49,228.81 L463.75,229.78 L464.02,230.74 L464.29,231.70 L464.56,232.67 L464.82,233.63 L465.09,234.60 L465.35,235.56 L465.61,236.52 L465.87,237.49 L466.13,238.46 L466.38,239.42 L466.64,240.39 L466.88,241.36 L467.13,242.33 L467.37,243.30 L467.62,244.27 L467.86,245.24 L468.10,246.21 L468.35,247.17 L468.61,248.14 L468.88,249.09 L469.16,250.05 L469.46,250.99 L469.77,251.93 L470.12,252.85 L470.48,253.75 L470.88,254.63 L471.31,255.47 L471.77,256.28 L472.26,257.03 L472.79,257.72 L473.34,258.34 L473.92,258.87 L474.52,259.29 L475.14,259.60 L475.76,259.78 L476.39,259.83 L477.02,259.74 L477.63,259.53 L478.23,259.19 L478.82,258.74 L479.39,258.19 L479.93,257.55 L480.47,256.85 L480.98,256.10 L481.49,255.30 L481.98,254.47 L482.47,253.63 L482.95,252.76 L483.42,251.89 L483.88,251.01 L484.34,250.12 L484.79,249.23 L485.23,248.34 L485.67,247.44 L486.09,246.53 L486.51,245.63 L486.92,244.72 L487.32,243.80 L487.71,242.88 L488.09,241.96 L488.46,241.03 L488.82,240.10 L489.17,239.16 L489.51,238.22 L489.84,237.28 L490.16,236.34 L490.48,235.39 L490.78,234.44 L491.08,233.48 L491.37,232.53 L491.66,231.57 L491.93,230.61 L492.20,229.65 L492.47,228.68 L492.73,227.72 L492.98,226.75 L493.24,225.78 L493.48,224.82 L493.72,223.85 L493.96,222.87 L494.19,221.90 L494.42,220.93 L494.64,219.95 L494.85,218.98 L495.06,218.00 L495.27,217.02 L495.47,216.04 L495.67,215.06 L495.86,214.08 L496.06,213.10 L496.24,212.12 L496.43,211.14 L496.61,210.15 L496.79,209.17 L496.98,208.19 L497.16,207.20 L497.34,206.22 L497.53,205.24 L497.71,204.25 L497.90,203.27 L498.09,202.29 L498.28,201.31 L498.47,200.33 L498.67,199.35 L498.87,198.37 L499.07,197.39 L499.27,196.41 L499.48,195.43 L499.68,194.45 L499.90,193.47 L500.11,192.50 L500.32,191.52 L500.54,190.55 L500.76,189.57 L500.99,188.60 L501.22,187.62 L501.45,186.65 L501.68,185.68 L501.92,184.71 L502.16,183.74 L502.40,182.77 L502.65,181.80 L502.90,180.83 L503.15,179.86 L503.40,178.89 L503.66,177.93 L503.92,176.96 L504.18,176.00 L504.45,175.03 L504.72,174.07 L504.99,173.11 L505.26,172.14 L505.53,171.18 L505.81,170.22 L506.08,169.26 L506.36,168.30 L506.64,167.34 L506.92,166.38 L507.20,165.42 L507.48,164.46 L507.77,163.50 L508.05,162.54 L508.33,161.58 L508.62,160.62 L508.90,159.67 L509.18,158.71 L509.47,157.75 L509.75,156.79 L510.04,155.83 L510.32,154.87 L510.61,153.91 L510.89,152.96 L511.18,152.00 L511.47,151.04 L511.75,150.08 L512.04,149.12 L512.33,148.17 L512.62,147.21 L512.91,146.25 L513.20,145.29 L513.49,144.34 L513.78,143.38 L514.07,142.42 L514.37,141.47 L514.66,140.51 L514.96,139.56 L515.25,138.60 L515.55,137.65 L515.85,136.69 L516.15,135.74 L516.46,134.79 L516.76,133.84 L517.07,132.88 L517.37,131.93 L517.68,130.98 L517.99,130.03 L518.31,129.08 L518.62,128.13 L518.94,127.18 L519.26,126.24 L519.58,125.29 L519.91,124.34 L520.23,123.40 L520.56,122.46 L520.89,121.51 L521.23,120.57 L521.56,119.63 L521.90,118.69 L522.24,117.75 L522.59,116.81 L522.93,115.87 L523.28,114.93 L523.63,114.00 L523.98,113.06 L524.34,112.13 L524.70,111.19 L525.06,110.26 L525.43,109.33 L525.81,108.41 L526.18,107.48 L526.57,106.56 L526.96,105.64 L527.35,104.72 L527.75,103.80 L528.16,102.89 L528.58,101.98 L529.00,101.08 L529.43,100.18 L529.87,99.28 L530.32,98.39 L530.77,97.49 L531.23,96.61 L531.70,95.72 L532.17,94.84 L532.65,93.97 L533.14,93.09 L533.63,92.22 L534.13,91.36 L534.63,90.50 L535.15,89.64 L535.66,88.78 L536.19,87.93 L536.72,87.09 L537.25,86.24 L537.80,85.40 L538.35,84.57 L538.90,83.74 L539.46,82.91 L540.03,82.09 L540.60,81.27 L541.17,80.45 L541.76,79.64 L542.34,78.83 L542.93,78.02 L543.53,77.22 L544.13,76.42 L544.74,75.63 L545.35,74.84 L545.97,74.05 L546.59,73.27 L547.22,72.49 L547.85,71.71 L548.48,70.94 L549.12,70.18 L549.77,69.41 L550.42,68.66 L551.08,67.91 L551.75,67.16 L552.42,66.42 L553.09,65.68 L553.78,64.96 L554.47,64.24 L555.17,63.53 L555.88,62.84 L556.60,62.15 L557.34,61.49 L558.09,60.84 L558.85,60.21 L559.64,59.61 L560.43,59.02 L561.25,58.46 L562.08,57.93 L562.92,57.41 L563.78,56.92 L564.66,56.46 L565.54,56.01 L566.44,55.58 L567.34,55.16 L568.26,54.76 L569.18,54.38 L570.10,54.01 L571.03,53.65 L571.97,53.29 L572.90,52.95 L573.84,52.61 L574.79,52.28 L575.73,51.95 L576.68,51.62 L577.62,51.30 L578.57,50.98 L579.52,50.66 L580.47,50.35 L581.42,50.03 L582.37,49.72 L583.32,49.41 L584.27,49.10 L585.22,48.80 L586.17,48.50 L587.13,48.20 L588.08,47.90 L589.04,47.62 L590.00,47.33 L590.96,47.05 L591.92,46.78 L592.88,46.51 L593.85,46.26 L594.81,46.00 L595.78,45.76 L596.75,45.52 L597.73,45.28 L598.70,45.06 L599.67,44.83 L600.65,44.62 L601.63,44.40 L602.60,44.19 L603.58,43.99 L604.56,43.78 L605.54,43.58 L606.52,43.38 L607.50,43.18 L608.48,42.99 L609.46,42.79 L610.44,42.60 L611.42,42.41 L612.40,42.22 L613.39,42.03 L614.37,41.85 L615.35,41.66 L616.34,41.49 L617.32,41.31 L618.31,41.14 L619.29,40.97 L620.28,40.81 L621.27,40.65 L622.25,40.50 L623.24,40.36 L624.23,40.21 L625.22,40.08 L626.21,39.95 L627.21,39.83 L628.20,39.72 L629.19,39.61 L630.19,39.51 L631.18,39.42 L632.18,39.34 L633.17,39.27 L634.17,39.20 L635.17,39.14 L636.17,39.09 L637.16,39.05 L638.16,39.02 L639.16,38.99 L640.16,38.96 L641.16,38.95 L642.16,38.93 L643.16,38.92 L644.16,38.92 L645.16,38.91 L646.16,38.91 L647.16,38.91 L648.16,38.91 L649.16,38.92 L650.16,38.92 L651.16,38.92 L652.16,38.93 L653.16,38.93 L654.16,38.94 L655.16,38.95 L656.16,38.95 L657.16,38.96 L658.16,38.97 L659.16,38.98 L660.16,39.00 L661.16,39.01 L662.16,39.02 L663.16,39.04 L664.16,39.06 L665.16,39.08 L666.15,39.10 L667.15,39.12 L668.15,39.14 L669.14,39.16 L670.13,39.19 L671.12,39.22 L672.11,39.25 L673.09,39.28 L674.07,39.31 L675.05,39.34 L676.02,39.37 L677.00,39.40" stroke="#0072BD"/>
<path d="M297.50,19.70 L298.50,19.80 L299.49,19.90 L300.48,20.00 L301.48,20.10 L302.47,20.20 L303.47,20.31 L304.46,20.43 L305.45,20.54 L306.45,20.67 L307.44,20.80 L308.43,20.93 L309.42,21.07 L310.41,21.21 L311.39,21.37 L312.38,21.52 L313.37,21.69 L314.35,21.86 L315.34,22.03 L316.32,22.22 L317.30,22.40 L318.28,22.60 L319.26,22.80 L320.24,23.00 L321.22,23.21 L322.19,23.43 L323.17,23.65 L324.14,23.87 L325.11,24.10 L326.09,24.33 L327.06,24.57 L328.03,24.81 L329.00,25.05 L329.97,25.30 L330.94,25.55 L331.91,25.80 L332.87,26.05 L333.84,26.31 L334.80,26.57 L335.77,26.83 L336.73,27.09 L337.70,27.36 L338.66,27.63 L339.62,27.90 L340.58,28.18 L341.54,28.46 L342.50,28.74 L343.46,29.03 L344.41,29.32 L345.37,29.62 L346.32,29.92 L347.27,30.23 L348.22,30.54 L349.17,30.86 L350.12,31.19 L351.06,31.52 L352.00,31.85 L352.94,32.20 L353.87,32.55 L354.81,32.91 L355.74,33.27 L356.66,33.65 L357.58,34.03 L358.50,34.42 L359.42,34.82 L360.33,35.23 L361.23,35.66 L362.13,36.09 L363.03,36.53 L363.91,36.99 L364.80,37.45 L365.68,37.92 L366.55,38.41 L367.42,38.90 L368.28,39.40 L369.14,39.91 L370.00,40.43 L370.85,40.95 L371.70,41.48 L372.54,42.01 L373.38,42.55 L374.22,43.09 L375.06,43.64 L375.90,44.19 L376.73,44.74 L377.56,45.30 L378.39,45.85 L379.22,46.41 L380.05,46.97 L380.88,47.54 L381.70,48.10 L382.52,48.67 L383.34,49.24 L384.17,49.81 L384.99,50.38 L385.80,50.96 L386.62,51.53 L387.45,52.10 L388.27,52.66 L389.09,53.23 L389.92,53.79 L390.75,54.34 L391.59,54.89 L392.43,55.43 L393.27,55.97 L394.11,56.50 L394.95,57.04 L395.79,57.58 L396.62,58.12 L397.45,58.67 L398.26,59.24 L399.07,59.82 L399.86,60.42 L400.64,61.03 L401.41,61.66 L402.16,62.31 L402.89,62.98 L403.61,63.66 L404.32,64.36 L405.01,65.08 L405.68,65.81 L406.34,66.56 L406.99,67.31 L407.63,68.08 L408.26,68.85 L408.87,69.64 L409.48,70.43 L410.08,71.23 L410.66,72.04 L411.24,72.85 L411.81,73.67 L412.37,74.50 L412.93,75.33 L413.47,76.17 L414.01,77.01 L414.54,77.86 L415.05,78.71 L415.56,79.57 L416.06,80.43 L416.55,81.31 L417.02,82.18 L417.49,83.06 L417.95,83.95 L418.39,84.85 L418.83,85.74 L419.26,86.65 L419.67,87.55 L420.09,88.46 L420.49,89.38 L420.89,90.29 L421.28,91.21 L421.67,92.13 L422.06,93.06 L422.44,93.98 L422.82,94.90 L423.20,95.83 L423.58,96.76 L423.95,97.68 L424.33,98.61 L424.70,99.54 L425.07,100.47 L425.44,101.40 L425.80,102.33 L426.17,103.26 L426.53,104.19 L426.89,105.12 L427.25,106.06 L427.60,106.99 L427.96,107.93 L428.31,108.86 L428.66,109.80 L429.00,110.74 L429.35,111.68 L429.69,112.62 L430.02,113.56 L430.36,114.50 L430.69,115.44 L431.02,116.39 L431.35,117.33 L431.68,118.28 L432.00,119.22 L432.32,120.17 L432.64,121.12 L432.96,122.07 L433.27,123.02 L433.58,123.97 L433.89,124.92 L434.20,125.87 L434.50,126.82 L434.80,127.77 L435.10,128.73 L435.40,129.68 L435.70,130.64 L435.99,131.59 L436.28,132.55 L436.57,133.51 L436.86,134.47 L437.14,135.42 L437.43,136.38 L437.71,137.34 L437.99,138.30 L438.26,139.26 L438.54,140.23 L438.81,141.19 L439.08,142.15 L439.35,143.11 L439.62,144.08 L439.88,145.04 L440.15,146.00 L440.41,146.97 L440.67,147.94 L440.93,148.90 L441.19,149.87 L441.44,150.83 L441.69,151.80 L441.95,152.77 L442.20,153.74 L442.45,154.71 L442.69,155.68 L442.94,156.64 L443.18,157.61 L443.43,158.58 L443.67,159.55 L443.91,160.52 L444.15,161.50 L444.39,162.47 L444.62,163.44 L444.86,164.41 L445.09,165.38 L445.32,166.36 L445.55,167.33 L445.78,168.30 L446.01,169.28 L446.24,170.25 L446.47,171.22 L446.69,172.20 L446.92,173.17 L447.15,174.15 L447.37,175.12 L447.60,176.09 L447.82,177.07 L448.05,178.04 L448.28,179.02 L448.50,179.99 L448.73,180.96 L448.96,181.94 L449.19,182.91 L449.41,183.89 L449.64,184.86 L449.87,185.83 L450.09,186.81 L450.32,187.78 L450.55,188.75 L450.77,189.73 L451.00,190.70 L451.22,191.68 L451.45,192.65 L451.67,193.63 L451.89,194.60 L452.10,195.58 L452.32,196.56 L452.54,197.53 L452.75,198.51 L452.96,199.49 L453.17,200.46 L453.37,201.44 L453.58,202.42 L453.78,203.40 L453.98,204.38 L454.18,205.36 L454.38,206.34 L454.58,207.32 L454.77,208.30 L454.97,209.28 L455.16,210.26 L455.35,211.24 L455.55,212.23 L455.74,213.21 L455.94,214.19 L456.14,215.17 L456.33,216.15 L456.53,217.13 L456.73,218.11 L456.93,219.09 L457.13,220.07 L457.34,221.05 L457.54,222.02 L457.75,223.00 L457.96,223.98 L458.16,224.96 L458.37,225.94 L458.58,226.91 L458.80,227.89 L459.01,228.87 L459.22,229.85 L459.44,230.82 L459.65,231.80 L459.87,232.77 L460.09,233.75 L460.31,234.73 L460.53,235.70 L460.76,236.68 L460.98,237.65 L461.21,238.62 L461.44,239.60 L461.67,240.57 L461.90,241.54 L462.13,242.52 L462.37,243.49 L462.61,244.46 L462.84,245.43 L463.09,246.40 L463.33,247.37 L463.57,248.34 L463.81,249.31 L464.05,250.28 L464.29,251.25 L464.53,252.22 L464.76,253.19 L465.00,254.17 L465.23,255.14 L465.46,256.11 L465.68,257.09 L465.90,258.06 L466.12,259.04 L466.34,260.01 L466.56,260.99 L466.77,261.96 L467.00,262.94 L467.23,263.91 L467.46,264.88 L467.71,265.84 L467.97,266.80 L468.25,267.75 L468.54,268.70 L468.86,269.63 L469.19,270.55 L469.55,271.45 L469.94,272.31 L470.35,273.14 L470.78,273.93 L471.24,274.64 L471.73,275.28 L472.24,275.83 L472.76,276.27 L473.30,276.58 L473.85,276.76 L474.40,276.80 L474.95,276.69 L475.48,276.45 L475.99,276.08 L476.48,275.59 L476.94,274.99 L477.37,274.30 L477.78,273.54 L478.16,272.72 L478.51,271.86 L478.84,270.97 L479.15,270.05 L479.45,269.11 L479.72,268.16 L479.99,267.20 L480.24,266.24 L480.48,265.27 L480.72,264.30 L480.96,263.33 L481.19,262.36 L481.43,261.39 L481.67,260.43 L481.93,259.46 L482.19,258.50 L482.46,257.54 L482.74,256.58 L483.03,255.62 L483.33,254.67 L483.64,253.72 L483.96,252.78 L484.29,251.83 L484.62,250.89 L484.96,249.95 L485.30,249.01 L485.65,248.07 L485.99,247.13 L486.32,246.19 L486.66,245.25 L486.99,244.31 L487.31,243.36 L487.62,242.41 L487.93,241.46 L488.23,240.51 L488.52,239.56 L488.81,238.60 L489.09,237.64 L489.36,236.68 L489.62,235.71 L489.88,234.75 L490.14,233.78 L490.38,232.81 L490.63,231.84 L490.87,230.87 L491.10,229.90 L491.33,228.93 L491.56,227.95 L491.78,226.98 L492.00,226.00 L492.21,225.03 L492.42,224.05 L492.62,223.07 L492.82,222.09 L493.01,221.11 L493.20,220.13 L493.39,219.14 L493.57,218.16 L493.74,217.18 L493.92,216.19 L494.08,215.21 L494.25,214.22 L494.41,213.23 L494.56,212.25 L494.72,211.26 L494.88,210.27 L495.03,209.28 L495.18,208.29 L495.34,207.31 L495.50,206.32 L495.65,205.33 L495.81,204.34 L495.98,203.36 L496.14,202.37 L496.31,201.39 L496.48,200.40 L496.66,199.42 L496.84,198.43 L497.02,197.45 L497.21,196.47 L497.40,195.49 L497.59,194.51 L497.79,193.53 L497.99,192.55 L498.19,191.57 L498.40,190.59 L498.61,189.61 L498.82,188.63 L499.04,187.66 L499.25,186.68 L499.47,185.71 L499.70,184.73 L499.92,183.76 L500.15,182.78 L500.38,181.81 L500.62,180.84 L500.85,179.87 L501.09,178.90 L501.33,177.93 L501.58,176.96 L501.82,175.99 L502.07,175.02 L502.32,174.05 L502.57,173.08 L502.82,172.11 L503.08,171.15 L503.33,170.18 L503.59,169.22 L503.85,168.25 L504.11,167.28 L504.37,166.32 L504.64,165.35 L504.90,164.39 L505.16,163.42 L505.43,162.46 L505.69,161.49 L505.95,160.53 L506.22,159.57 L506.48,158.60 L506.75,157.64 L507.01,156.67 L507.28,155.71 L507.54,154.74 L507.80,153.78 L508.07,152.82 L508.33,151.85 L508.60,150.89 L508.86,149.92 L509.13,148.96 L509.40,147.99 L509.66,147.03 L509.93,146.07 L510.20,145.10 L510.47,144.14 L510.74,143.18 L511.01,142.21 L511.28,141.25 L511.55,140.29 L511.83,139.33 L512.10,138.37 L512.38,137.41 L512.66,136.45 L512.94,135.49 L513.22,134.53 L513.50,133.57 L513.79,132.61 L514.08,131.65 L514.37,130.70 L514.66,129.74 L514.96,128.79 L515.26,127.83 L515.56,126.88 L515.86,125.93 L516.17,124.97 L516.49,124.03 L516.80,123.08 L517.12,122.13 L517.44,121.18 L517.77,120.24 L518.10,119.29 L518.44,118.35 L518.78,117.41 L519.12,116.47 L519.46,115.53 L519.81,114.60 L520.17,113.66 L520.53,112.73 L520.89,111.80 L521.26,110.87 L521.63,109.94 L522.00,109.01 L522.38,108.09 L522.77,107.17 L523.16,106.25 L523.55,105.33 L523.96,104.41 L524.36,103.50 L524.77,102.59 L525.19,101.68 L525.61,100.77 L526.04,99.87 L526.47,98.97 L526.91,98.07 L527.35,97.17 L527.80,96.28 L528.25,95.39 L528.71,94.50 L529.17,93.62 L529.64,92.73 L530.12,91.85 L530.59,90.97 L531.08,90.10 L531.57,89.23 L532.07,88.36 L532.57,87.50 L533.09,86.65 L533.61,85.79 L534.14,84.95 L534.67,84.10 L535.22,83.27 L535.78,82.44 L536.34,81.62 L536.91,80.80 L537.50,79.99 L538.09,79.19 L538.69,78.39 L539.31,77.60 L539.93,76.82 L540.56,76.04 L541.19,75.27 L541.84,74.51 L542.49,73.76 L543.15,73.01 L543.82,72.26 L544.49,71.53 L545.17,70.79 L545.86,70.06 L546.54,69.34 L547.24,68.62 L547.93,67.90 L548.63,67.19 L549.33,66.48 L550.04,65.76 L550.74,65.06 L551.45,64.35 L552.15,63.64 L552.86,62.93 L553.57,62.23 L554.28,61.53 L554.99,60.83 L555.71,60.14 L556.44,59.46 L557.17,58.79 L557.92,58.14 L558.67,57.51 L559.45,56.89 L560.24,56.30 L561.04,55.74 L561.87,55.19 L562.71,54.68 L563.57,54.19 L564.44,53.72 L565.32,53.27 L566.22,52.85 L567.13,52.44 L568.04,52.05 L568.97,51.68 L569.89,51.32 L570.83,50.97 L571.77,50.63 L572.71,50.30 L573.65,49.97 L574.60,49.65 L575.55,49.33 L576.50,49.02 L577.45,48.71 L578.40,48.40 L579.35,48.09 L580.30,47.77 L581.25,47.46 L582.20,47.15 L583.15,46.84 L584.10,46.53 L585.05,46.22 L586.00,45.91 L586.96,45.61 L587.91,45.31 L588.86,45.02 L589.82,44.73 L590.78,44.45 L591.74,44.17 L592.70,43.91 L593.67,43.65 L594.64,43.40 L595.61,43.16 L596.58,42.93 L597.55,42.72 L598.53,42.50 L599.51,42.30 L600.49,42.11 L601.47,41.92 L602.45,41.74 L603.44,41.57 L604.42,41.40 L605.41,41.23 L606.39,41.07 L607.38,40.91 L608.37,40.75 L609.36,40.60 L610.34,40.44 L611.33,40.29 L612.32,40.15 L613.31,40.00 L614.30,39.86 L615.29,39.72 L616.28,39.59 L617.27,39.46 L618.26,39.33 L619.26,39.20 L620.25,39.08 L621.24,38.96 L622.24,38.85 L623.23,38.74 L624.22,38.64 L625.22,38.54 L626.21,38.45 L627.21,38.36 L628.21,38.28 L629.20,38.20 L630.20,38.13 L631.20,38.07 L632.19,38.01 L633.19,37.96 L634.19,37.91 L635.19,37.87 L636.19,37.83 L637.19,37.81 L638.19,37.78 L639.19,37.76 L640.19,37.75 L641.19,37.73 L642.19,37.72 L643.19,37.72 L644.19,37.72 L645.19,37.71 L646.19,37.71 L647.19,37.71 L648.19,37.72 L649.19,37.72 L650.19,37.73 L651.19,37.73 L652.19,37.74 L653.19,37.75 L654.19,37.75 L655.19,37.76 L656.19,37.78 L657.19,37.79 L658.19,37.80 L659.19,37.82 L660.18,37.83 L661.18,37.85 L662.18,37.87 L663.18,37.90 L664.18,37.92 L665.18,37.95 L666.18,37.97 L667.17,38.00 L668.17,38.04 L669.16,38.07 L670.15,38.11 L671.14,38.14 L672.12,38.18 L673.10,38.23 L674.08,38.27 L675.06,38.31 L676.03,38.36 L677.00,38.40" stroke="#D95319"/>
<path d="M297.50,19.00 L298.50,19.09 L299.49,19.18 L300.49,19.28 L301.48,19.37 L302.48,19.47 L303.47,19.58 L304.46,19.68 L305.46,19.80 L306.45,19.91 L307.44,20.04 L308.43,20.16 L309.42,20.30 L310.41,20.44 L311.40,20.59 L312.39,20.74 L313.38,20.90 L314.36,21.07 L315.35,21.24 L316.33,21.42 L317.31,21.60 L318.29,21.79 L319.27,21.99 L320.25,22.20 L321.23,22.40 L322.21,22.62 L323.18,22.84 L324.16,23.06 L325.13,23.29 L326.10,23.52 L327.07,23.75 L328.05,23.99 L329.02,24.23 L329.98,24.48 L330.95,24.73 L331.92,24.98 L332.89,25.23 L333.86,25.48 L334.82,25.74 L335.79,26.00 L336.75,26.26 L337.72,26.53 L338.68,26.79 L339.64,27.06 L340.61,27.34 L341.57,27.61 L342.53,27.89 L343.48,28.18 L344.44,28.47 L345.40,28.76 L346.35,29.06 L347.30,29.36 L348.25,29.67 L349.20,29.98 L350.15,30.31 L351.09,30.63 L352.04,30.97 L352.97,31.31 L353.91,31.66 L354.84,32.01 L355.77,32.38 L356.70,32.75 L357.62,33.13 L358.54,33.53 L359.46,33.93 L360.36,34.34 L361.27,34.76 L362.17,35.20 L363.06,35.64 L363.95,36.10 L364.83,36.57 L365.70,37.05 L366.57,37.54 L367.44,38.04 L368.30,38.54 L369.16,39.06 L370.01,39.58 L370.85,40.11 L371.70,40.65 L372.54,41.19 L373.37,41.74 L374.21,42.29 L375.04,42.85 L375.87,43.40 L376.69,43.97 L377.52,44.53 L378.34,45.10 L379.16,45.67 L379.98,46.24 L380.80,46.81 L381.62,47.39 L382.43,47.97 L383.25,48.55 L384.06,49.14 L384.87,49.72 L385.68,50.31 L386.49,50.90 L387.30,51.48 L388.11,52.06 L388.92,52.64 L389.74,53.22 L390.56,53.79 L391.38,54.36 L392.20,54.92 L393.03,55.48 L393.85,56.04 L394.67,56.60 L395.48,57.16 L396.29,57.74 L397.08,58.33 L397.85,58.94 L398.60,59.58 L399.33,60.23 L400.04,60.91 L400.72,61.62 L401.37,62.35 L401.99,63.11 L402.59,63.89 L403.17,64.69 L403.72,65.51 L404.25,66.34 L404.77,67.19 L405.28,68.05 L405.77,68.91 L406.25,69.79 L406.72,70.67 L407.19,71.55 L407.66,72.43 L408.12,73.32 L408.58,74.20 L409.05,75.09 L409.51,75.97 L409.98,76.86 L410.45,77.74 L410.93,78.62 L411.41,79.50 L411.89,80.37 L412.38,81.24 L412.87,82.12 L413.36,82.99 L413.86,83.85 L414.35,84.72 L414.85,85.59 L415.35,86.46 L415.84,87.32 L416.34,88.19 L416.83,89.06 L417.33,89.93 L417.82,90.80 L418.30,91.68 L418.78,92.55 L419.26,93.43 L419.73,94.32 L420.19,95.20 L420.65,96.09 L421.11,96.98 L421.56,97.87 L422.00,98.77 L422.43,99.67 L422.86,100.57 L423.28,101.48 L423.70,102.38 L424.11,103.30 L424.51,104.21 L424.91,105.13 L425.30,106.05 L425.69,106.97 L426.07,107.89 L426.45,108.82 L426.82,109.74 L427.20,110.67 L427.56,111.60 L427.93,112.53 L428.29,113.46 L428.66,114.40 L429.02,115.33 L429.37,116.26 L429.73,117.20 L430.09,118.13 L430.44,119.07 L430.79,120.00 L431.15,120.94 L431.50,121.87 L431.85,122.81 L432.20,123.75 L432.54,124.69 L432.89,125.62 L433.23,126.56 L433.57,127.50 L433.91,128.44 L434.25,129.39 L434.58,130.33 L434.91,131.27 L435.23,132.22 L435.55,133.17 L435.87,134.11 L436.18,135.06 L436.49,136.01 L436.80,136.97 L437.09,137.92 L437.39,138.88 L437.67,139.83 L437.96,140.79 L438.24,141.75 L438.51,142.71 L438.78,143.68 L439.04,144.64 L439.30,145.61 L439.56,146.57 L439.81,147.54 L440.06,148.51 L440.31,149.48 L440.55,150.45 L440.79,151.42 L441.03,152.39 L441.27,153.36 L441.51,154.33 L441.75,155.30 L441.99,156.27 L442.23,157.24 L442.47,158.21 L442.71,159.19 L442.95,160.16 L443.18,161.13 L443.42,162.10 L443.66,163.07 L443.90,164.04 L444.14,165.01 L444.38,165.98 L444.62,166.95 L444.85,167.93 L445.09,168.90 L445.33,169.87 L445.56,170.84 L445.79,171.81 L446.02,172.79 L446.25,173.76 L446.48,174.73 L446.70,175.71 L446.93,176.68 L447.15,177.66 L447.37,178.63 L447.58,179.61 L447.80,180.59 L448.01,181.56 L448.22,182.54 L448.43,183.52 L448.63,184.50 L448.84,185.48 L449.04,186.46 L449.24,187.44 L449.44,188.42 L449.63,189.40 L449.83,190.38 L450.02,191.36 L450.22,192.34 L450.41,193.32 L450.60,194.30 L450.79,195.29 L450.98,196.27 L451.16,197.25 L451.35,198.23 L451.54,199.21 L451.72,200.20 L451.90,201.18 L452.08,202.16 L452.27,203.15 L452.45,204.13 L452.62,205.11 L452.80,206.10 L452.98,207.08 L453.15,208.07 L453.33,209.05 L453.51,210.04 L453.68,211.02 L453.86,212.01 L454.04,212.99 L454.21,213.97 L454.39,214.96 L454.57,215.94 L454.75,216.92 L454.93,217.91 L455.12,218.89 L455.30,219.87 L455.49,220.86 L455.68,221.84 L455.87,222.82 L456.06,223.80 L456.25,224.78 L456.45,225.76 L456.64,226.74 L456.84,227.72 L457.04,228.70 L457.24,229.68 L457.43,230.66 L457.63,231.64 L457.83,232.63 L458.02,233.61 L458.22,234.59 L458.41,235.57 L458.61,236.55 L458.80,237.53 L458.99,238.51 L459.17,239.49 L459.36,240.48 L459.54,241.46 L459.72,242.44 L459.90,243.43 L460.08,244.41 L460.25,245.40 L460.43,246.38 L460.60,247.37 L460.78,248.35 L460.95,249.34 L461.12,250.32 L461.30,251.30 L461.48,252.29 L461.66,253.27 L461.84,254.26 L462.02,255.24 L462.21,256.22 L462.40,257.20 L462.60,258.18 L462.80,259.16 L463.00,260.14 L463.21,261.12 L463.43,262.09 L463.65,263.07 L463.88,264.04 L464.11,265.01 L464.35,265.98 L464.60,266.95 L464.85,267.92 L465.10,268.89 L465.36,269.85 L465.63,270.81 L465.90,271.77 L466.19,272.73 L466.48,273.69 L466.78,274.64 L467.09,275.59 L467.41,276.53 L467.74,277.47 L468.08,278.39 L468.45,279.30 L468.82,280.18 L469.22,281.04 L469.64,281.85 L470.08,282.62 L470.54,283.32 L471.02,283.93 L471.53,284.45 L472.05,284.85 L472.60,285.13 L473.15,285.27 L473.71,285.27 L474.27,285.13 L474.82,284.85 L475.36,284.45 L475.88,283.94 L476.38,283.32 L476.86,282.63 L477.31,281.87 L477.74,281.06 L478.14,280.21 L478.52,279.32 L478.88,278.42 L479.21,277.49 L479.53,276.55 L479.83,275.61 L480.11,274.65 L480.37,273.69 L480.62,272.73 L480.86,271.76 L481.09,270.79 L481.31,269.81 L481.51,268.83 L481.71,267.85 L481.91,266.87 L482.09,265.89 L482.27,264.91 L482.45,263.93 L482.62,262.94 L482.80,261.96 L482.97,260.97 L483.14,259.99 L483.31,259.00 L483.48,258.02 L483.66,257.03 L483.84,256.05 L484.02,255.06 L484.20,254.08 L484.38,253.10 L484.57,252.12 L484.75,251.13 L484.94,250.15 L485.14,249.17 L485.33,248.19 L485.53,247.21 L485.72,246.23 L485.93,245.25 L486.13,244.27 L486.34,243.29 L486.55,242.31 L486.76,241.34 L486.98,240.36 L487.20,239.39 L487.43,238.41 L487.66,237.44 L487.89,236.47 L488.13,235.50 L488.37,234.53 L488.61,233.56 L488.85,232.59 L489.10,231.62 L489.34,230.65 L489.58,229.68 L489.82,228.71 L490.05,227.73 L490.28,226.76 L490.50,225.79 L490.72,224.81 L490.93,223.84 L491.14,222.86 L491.33,221.88 L491.52,220.90 L491.70,219.91 L491.87,218.93 L492.04,217.94 L492.19,216.96 L492.35,215.97 L492.49,214.98 L492.63,213.99 L492.77,213.00 L492.90,212.01 L493.04,211.02 L493.17,210.03 L493.30,209.03 L493.43,208.04 L493.56,207.05 L493.69,206.06 L493.82,205.07 L493.96,204.08 L494.10,203.09 L494.25,202.10 L494.40,201.11 L494.55,200.12 L494.71,199.14 L494.87,198.15 L495.03,197.16 L495.21,196.18 L495.38,195.20 L495.56,194.21 L495.75,193.23 L495.93,192.25 L496.13,191.27 L496.32,190.29 L496.52,189.31 L496.73,188.33 L496.93,187.35 L497.14,186.37 L497.36,185.40 L497.58,184.42 L497.80,183.45 L498.03,182.47 L498.26,181.50 L498.49,180.53 L498.73,179.56 L498.97,178.59 L499.21,177.62 L499.46,176.65 L499.71,175.68 L499.96,174.71 L500.22,173.74 L500.48,172.78 L500.74,171.81 L501.00,170.85 L501.26,169.88 L501.53,168.92 L501.79,167.95 L502.06,166.99 L502.33,166.03 L502.59,165.06 L502.86,164.10 L503.12,163.14 L503.39,162.17 L503.65,161.21 L503.92,160.24 L504.18,159.28 L504.44,158.31 L504.70,157.35 L504.96,156.38 L505.22,155.41 L505.48,154.45 L505.73,153.48 L505.99,152.52 L506.25,151.55 L506.50,150.58 L506.76,149.62 L507.01,148.65 L507.27,147.68 L507.53,146.71 L507.78,145.75 L508.04,144.78 L508.29,143.82 L508.55,142.85 L508.81,141.88 L509.07,140.92 L509.33,139.95 L509.59,138.99 L509.85,138.02 L510.12,137.06 L510.38,136.09 L510.65,135.13 L510.92,134.17 L511.19,133.20 L511.46,132.24 L511.74,131.28 L512.02,130.32 L512.30,129.36 L512.58,128.40 L512.87,127.44 L513.16,126.49 L513.46,125.53 L513.76,124.58 L514.06,123.63 L514.37,122.68 L514.69,121.73 L515.00,120.78 L515.33,119.83 L515.65,118.89 L515.99,117.95 L516.32,117.00 L516.66,116.07 L517.01,115.13 L517.36,114.19 L517.72,113.26 L518.08,112.32 L518.44,111.39 L518.81,110.46 L519.18,109.54 L519.56,108.61 L519.95,107.69 L520.34,106.77 L520.73,105.85 L521.13,104.93 L521.53,104.02 L521.94,103.11 L522.35,102.20 L522.77,101.29 L523.19,100.38 L523.62,99.48 L524.05,98.58 L524.49,97.68 L524.93,96.78 L525.38,95.89 L525.83,94.99 L526.29,94.11 L526.75,93.22 L527.21,92.33 L527.68,91.45 L528.16,90.57 L528.64,89.70 L529.12,88.82 L529.61,87.95 L530.11,87.08 L530.61,86.21 L531.11,85.35 L531.62,84.49 L532.13,83.63 L532.65,82.78 L533.18,81.93 L533.71,81.08 L534.24,80.24 L534.79,79.40 L535.34,78.57 L535.89,77.74 L536.46,76.92 L537.04,76.11 L537.63,75.30 L538.23,74.51 L538.84,73.72 L539.47,72.95 L540.11,72.19 L540.77,71.44 L541.44,70.70 L542.12,69.98 L542.82,69.26 L543.52,68.56 L544.24,67.87 L544.96,67.18 L545.70,66.50 L546.44,65.83 L547.18,65.16 L547.92,64.50 L548.67,63.83 L549.41,63.17 L550.16,62.50 L550.90,61.83 L551.63,61.15 L552.36,60.48 L553.09,59.80 L553.82,59.11 L554.55,58.43 L555.28,57.75 L556.01,57.08 L556.75,56.42 L557.50,55.78 L558.26,55.15 L559.04,54.54 L559.84,53.95 L560.65,53.39 L561.47,52.85 L562.32,52.34 L563.18,51.86 L564.05,51.39 L564.94,50.95 L565.84,50.53 L566.75,50.13 L567.67,49.74 L568.59,49.37 L569.52,49.02 L570.46,48.67 L571.40,48.34 L572.34,48.01 L573.29,47.70 L574.24,47.39 L575.19,47.08 L576.15,46.78 L577.10,46.49 L578.06,46.19 L579.01,45.90 L579.97,45.61 L580.93,45.32 L581.89,45.04 L582.85,44.76 L583.80,44.47 L584.77,44.20 L585.73,43.92 L586.69,43.65 L587.65,43.38 L588.62,43.12 L589.58,42.86 L590.55,42.61 L591.52,42.37 L592.49,42.13 L593.46,41.90 L594.44,41.68 L595.41,41.47 L596.39,41.27 L597.37,41.07 L598.35,40.88 L599.33,40.70 L600.32,40.53 L601.30,40.36 L602.29,40.20 L603.28,40.04 L604.27,39.89 L605.25,39.74 L606.24,39.59 L607.23,39.44 L608.22,39.30 L609.21,39.16 L610.20,39.02 L611.19,38.89 L612.18,38.75 L613.17,38.62 L614.17,38.49 L615.16,38.36 L616.15,38.24 L617.14,38.12 L618.14,38.00 L619.13,37.89 L620.12,37.78 L621.12,37.67 L622.11,37.57 L623.11,37.47 L624.10,37.37 L625.10,37.28 L626.09,37.20 L627.09,37.12 L628.09,37.04 L629.08,36.97 L630.08,36.91 L631.08,36.85 L632.08,36.79 L633.08,36.74 L634.07,36.70 L635.07,36.66 L636.07,36.63 L637.07,36.60 L638.07,36.58 L639.07,36.56 L640.07,36.55 L641.07,36.54 L642.07,36.53 L643.07,36.53 L644.07,36.53 L645.07,36.53 L646.07,36.53 L647.07,36.53 L648.07,36.54 L649.07,36.54 L650.07,36.55 L651.07,36.56 L652.07,36.57 L653.07,36.58 L654.07,36.59 L655.07,36.60 L656.07,36.61 L657.07,36.63 L658.07,36.64 L659.07,36.66 L660.07,36.68 L661.07,36.70 L662.07,36.72 L663.07,36.75 L664.07,36.78 L665.06,36.82 L666.06,36.85 L667.06,36.90 L668.06,36.94 L669.06,36.99 L670.05,37.05 L671.05,37.11 L672.04,37.17 L673.03,37.23 L674.03,37.30 L675.02,37.36 L676.01,37.43 L677.00,37.50" stroke="#EDB120"/>
</g>
<g stroke="#262626" stroke-width="0.75" fill="none" opacity="0.65">
<rect x="297.5" y="5.5" width="379.5" height="326.0"/>
<path d="M297.5,5.50h4M677.0,5.50h-4M297.5,59.83h4M677.0,59.83h-4M297.5,114.17h4M677.0,114.17h-4M297.5,168.50h4M677.0,168.50h-4M297.5,222.83h4M677.0,222.83h-4M297.5,277.17h4M677.0,277.17h-4M297.5,331.50h4M677.0,331.50h-4M297.50,331.5v-4M297.50,5.5v4M373.40,331.5v-4M373.40,5.5v4M449.30,331.5v-4M449.30,5.5v4M525.20,331.5v-4M525.20,5.5v4M601.10,331.5v-4M601.10,5.5v4M677.00,331.5v-4M677.00,5.5v4"/>
</g>
<g fill="#262626" font-size="13.5">
<text x="292.0" y="10.36" text-anchor="end">0</text>
<text x="292.0" y="65.79" text-anchor="end">-2</text>
<text x="292.0" y="120.13" text-anchor="end">-4</text>
<text x="292.0" y="174.46" text-anchor="end">-6</text>
<text x="292.0" y="228.79" text-anchor="end">-8</text>
<text x="292.0" y="283.13" text-anchor="end">-10</text>
<text x="292.0" y="337.46" text-anchor="end">-12</text>
<text x="297.50" y="350.67" text-anchor="middle">1</text>
<text x="373.40" y="350.67" text-anchor="middle">1.2</text>
<text x="449.30" y="350.67" text-anchor="middle">1.4</text>
<text x="525.20" y="350.67" text-anchor="middle">1.6</text>
<text x="601.10" y="350.67" text-anchor="middle">1.8</text>
<text x="677.00" y="350.67" text-anchor="middle">2</text>
</g>
<text x="487.2" y="370.6" font-size="15.3" fill="#262626" text-anchor="middle">Frequency (GHz)</text>
<text transform="translate(265.5,168.5) rotate(-90)" font-size="15.3" fill="#262626" text-anchor="middle">S21 (dB)</text>
<rect x="541.6" y="130.1" width="127.89999999999998" height="195.1" fill="#fff" stroke="#262626" stroke-opacity="0.65" stroke-width="0.75"/>
<line x1="545" y1="140.7" x2="574.5" y2="140.7" stroke="#0072BD" stroke-width="2.8"/>
<text x="576.6" y="146.6" font-size="12.5" fill="#111">A = 100 mm<tspan font-size="10.2" dy="-5.8">2</tspan></text>
<line x1="545" y1="160.2" x2="574.5" y2="160.2" stroke="#D95319" stroke-width="2.8"/>
<text x="576.6" y="166.1" font-size="12.5" fill="#111">A = 400 mm<tspan font-size="10.2" dy="-5.8">2</tspan></text>
<line x1="545" y1="179.7" x2="574.5" y2="179.7" stroke="#EDB120" stroke-width="2.8"/>
<text x="576.6" y="185.6" font-size="12.5" fill="#111">A = 900 mm<tspan font-size="10.2" dy="-5.8">2</tspan></text>
<line x1="545" y1="199.2" x2="574.5" y2="199.2" stroke="#7E2F8E" stroke-width="2.8"/>
<text x="576.6" y="205.1" font-size="12.5" fill="#111">A = 1600 mm<tspan font-size="10.2" dy="-5.8">2</tspan></text>
<line x1="545" y1="218.7" x2="574.5" y2="218.7" stroke="#77AC30" stroke-width="2.8"/>
<text x="576.6" y="224.6" font-size="12.5" fill="#111">A = 2500 mm<tspan font-size="10.2" dy="-5.8">2</tspan></text>
<line x1="545" y1="238.2" x2="574.5" y2="238.2" stroke="#4DBEEE" stroke-width="2.8"/>
<text x="576.6" y="244.1" font-size="12.5" fill="#111">A = 3600 mm<tspan font-size="10.2" dy="-5.8">2</tspan></text>
<line x1="545" y1="257.7" x2="574.5" y2="257.7" stroke="#A2142F" stroke-width="2.8"/>
<text x="576.6" y="263.59999999999997" font-size="12.5" fill="#111">A = 4900 mm<tspan font-size="10.2" dy="-5.8">2</tspan></text>
<line x1="545" y1="277.2" x2="574.5" y2="277.2" stroke="#0072BD" stroke-width="2.8"/>
<text x="576.6" y="283.09999999999997" font-size="12.5" fill="#111">A = 6400 mm<tspan font-size="10.2" dy="-5.8">2</tspan></text>
<line x1="545" y1="296.7" x2="574.5" y2="296.7" stroke="#D95319" stroke-width="2.8"/>
<text x="576.6" y="302.59999999999997" font-size="12.5" fill="#111">A = 8100 mm<tspan font-size="10.2" dy="-5.8">2</tspan></text>
<line x1="545" y1="316.2" x2="574.5" y2="316.2" stroke="#EDB120" stroke-width="2.8"/>
<text x="576.6" y="322.09999999999997" font-size="12.5" fill="#111">A = 10,000 mm<tspan font-size="10.2" dy="-5.8">2</tspan></text>
<g clip-path="url(#clipB)" fill="none" stroke-width="3.3" stroke-linejoin="round" stroke-linecap="round">
<path d="M315.50,395.30 L316.50,395.34 L317.50,395.39 L318.50,395.43 L319.50,395.48 L320.49,395.52 L321.49,395.57 L322.49,395.62 L323.49,395.68 L324.49,395.73 L325.49,395.79 L326.49,395.85 L327.48,395.91 L328.48,395.97 L329.48,396.03 L330.48,396.10 L331.48,396.17 L332.47,396.24 L333.47,396.31 L334.47,396.38 L335.46,396.46 L336.46,396.54 L337.46,396.61 L338.46,396.69 L339.45,396.78 L340.45,396.86 L341.44,396.94 L342.44,397.03 L343.44,397.12 L344.43,397.21 L345.43,397.31 L346.42,397.40 L347.42,397.50 L348.41,397.60 L349.41,397.71 L350.40,397.81 L351.40,397.92 L352.39,398.04 L353.38,398.15 L354.37,398.27 L355.37,398.39 L356.36,398.52 L357.35,398.65 L358.34,398.78 L359.33,398.92 L360.32,399.06 L361.31,399.21 L362.30,399.35 L363.29,399.51 L364.27,399.67 L365.26,399.83 L366.25,400.00 L367.23,400.18 L368.21,400.36 L369.19,400.55 L370.17,400.74 L371.15,400.95 L372.13,401.16 L373.10,401.38 L374.07,401.62 L375.04,401.86 L376.01,402.11 L376.97,402.37 L377.93,402.64 L378.89,402.92 L379.85,403.21 L380.80,403.51 L381.75,403.82 L382.70,404.14 L383.64,404.47 L384.58,404.80 L385.52,405.14 L386.46,405.49 L387.39,405.85 L388.32,406.21 L389.25,406.58 L390.17,406.96 L391.10,407.35 L392.02,407.74 L392.93,408.13 L393.85,408.54 L394.76,408.95 L395.66,409.37 L396.57,409.79 L397.46,410.23 L398.35,410.68 L399.24,411.14 L400.12,411.61 L400.99,412.10 L401.85,412.60 L402.70,413.11 L403.55,413.64 L404.38,414.18 L405.21,414.73 L406.03,415.30 L406.85,415.88 L407.66,416.46 L408.46,417.05 L409.27,417.65 L410.06,418.25 L410.86,418.84 L411.66,419.44 L412.47,420.04 L413.27,420.63 L414.08,421.21 L414.90,421.78 L415.73,422.34 L416.56,422.88 L417.40,423.41 L418.25,423.92 L419.11,424.42 L419.98,424.90 L420.86,425.36 L421.75,425.81 L422.64,426.25 L423.53,426.69 L424.42,427.12 L425.31,427.56 L426.20,428.00 L427.07,428.46 L427.93,428.95 L428.77,429.45 L429.59,429.98 L430.39,430.55 L431.16,431.14 L431.92,431.77 L432.64,432.42 L433.35,433.11 L434.03,433.82 L434.68,434.55 L435.32,435.31 L435.94,436.08 L436.54,436.87 L437.13,437.67 L437.71,438.48 L438.28,439.30 L438.84,440.13 L439.39,440.96 L439.93,441.80 L440.47,442.64 L441.01,443.48 L441.54,444.33 L442.07,445.18 L442.60,446.03 L443.12,446.88 L443.65,447.73 L444.16,448.59 L444.68,449.44 L445.19,450.30 L445.70,451.16 L446.20,452.03 L446.70,452.89 L447.20,453.76 L447.69,454.63 L448.18,455.50 L448.67,456.37 L449.15,457.25 L449.64,458.12 L450.12,459.00 L450.60,459.87 L451.09,460.75 L451.57,461.62 L452.06,462.50 L452.54,463.37 L453.03,464.24 L453.52,465.12 L454.01,465.99 L454.50,466.86 L454.98,467.74 L455.47,468.61 L455.95,469.49 L456.43,470.36 L456.90,471.24 L457.37,472.13 L457.83,473.01 L458.29,473.90 L458.74,474.79 L459.19,475.69 L459.63,476.58 L460.06,477.49 L460.49,478.39 L460.91,479.30 L461.32,480.21 L461.73,481.12 L462.13,482.03 L462.53,482.95 L462.92,483.87 L463.30,484.79 L463.68,485.72 L464.05,486.65 L464.41,487.58 L464.77,488.51 L465.12,489.45 L465.47,490.39 L465.80,491.33 L466.13,492.27 L466.46,493.21 L466.77,494.16 L467.08,495.11 L467.38,496.07 L467.67,497.02 L467.96,497.98 L468.24,498.94 L468.52,499.90 L468.80,500.86 L469.07,501.82 L469.34,502.78 L469.60,503.75 L469.87,504.71 L470.14,505.68 L470.40,506.64 L470.67,507.60 L470.94,508.57 L471.22,509.53 L471.49,510.49 L471.77,511.45 L472.05,512.41 L472.34,513.37 L472.63,514.32 L472.92,515.28 L473.21,516.23 L473.51,517.19 L473.81,518.14 L474.11,519.10 L474.42,520.05 L474.73,521.00 L475.04,521.95 L475.36,522.89 L475.68,523.84 L476.01,524.78 L476.35,525.73 L476.69,526.67 L477.03,527.60 L477.39,528.53 L477.75,529.45 L478.12,530.37 L478.50,531.26 L478.89,532.13 L479.29,532.98 L479.71,533.77 L480.14,534.51 L480.59,535.18 L481.05,535.76 L481.52,536.23 L482.01,536.58 L482.51,536.79 L483.01,536.87 L483.51,536.79 L484.00,536.58 L484.48,536.23 L484.95,535.76 L485.41,535.18 L485.84,534.51 L486.26,533.77 L486.66,532.96 L487.04,532.12 L487.40,531.23 L487.75,530.33 L488.08,529.40 L488.41,528.47 L488.72,527.53 L489.02,526.57 L489.31,525.62 L489.60,524.66 L489.88,523.70 L490.16,522.74 L490.43,521.78 L490.70,520.82 L490.98,519.86 L491.25,518.90 L491.53,517.94 L491.80,516.98 L492.09,516.02 L492.37,515.06 L492.67,514.10 L492.96,513.15 L493.26,512.19 L493.57,511.24 L493.88,510.29 L494.19,509.34 L494.51,508.40 L494.83,507.45 L495.16,506.50 L495.48,505.56 L495.82,504.62 L496.15,503.67 L496.49,502.73 L496.83,501.79 L497.17,500.85 L497.51,499.91 L497.86,498.98 L498.21,498.04 L498.56,497.10 L498.92,496.17 L499.27,495.23 L499.63,494.30 L499.99,493.37 L500.36,492.44 L500.73,491.51 L501.10,490.58 L501.47,489.65 L501.84,488.72 L502.22,487.80 L502.60,486.87 L502.98,485.95 L503.37,485.02 L503.75,484.10 L504.14,483.18 L504.53,482.26 L504.91,481.34 L505.30,480.42 L505.69,479.49 L506.08,478.57 L506.47,477.65 L506.85,476.73 L507.24,475.80 L507.62,474.88 L508.00,473.96 L508.38,473.03 L508.75,472.10 L509.13,471.18 L509.50,470.25 L509.87,469.32 L510.24,468.39 L510.61,467.46 L510.98,466.53 L511.35,465.60 L511.72,464.67 L512.09,463.74 L512.46,462.82 L512.84,461.89 L513.22,460.97 L513.61,460.05 L514.00,459.13 L514.40,458.21 L514.80,457.30 L515.22,456.39 L515.64,455.49 L516.08,454.59 L516.53,453.70 L517.00,452.82 L517.47,451.95 L517.97,451.08 L518.48,450.23 L519.00,449.38 L519.54,448.54 L520.10,447.72 L520.66,446.90 L521.25,446.09 L521.85,445.29 L522.46,444.51 L523.08,443.73 L523.72,442.96 L524.36,442.20 L525.02,441.45 L525.69,440.71 L526.37,439.98 L527.05,439.25 L527.74,438.53 L528.45,437.82 L529.15,437.11 L529.87,436.42 L530.59,435.72 L531.31,435.04 L532.04,434.36 L532.78,433.68 L533.52,433.01 L534.27,432.35 L535.03,431.70 L535.79,431.05 L536.55,430.40 L537.32,429.77 L538.10,429.14 L538.88,428.52 L539.67,427.91 L540.46,427.30 L541.26,426.70 L542.07,426.12 L542.88,425.54 L543.70,424.96 L544.53,424.40 L545.36,423.85 L546.20,423.31 L547.04,422.77 L547.89,422.25 L548.74,421.73 L549.60,421.22 L550.47,420.72 L551.34,420.23 L552.21,419.74 L553.09,419.27 L553.97,418.79 L554.85,418.33 L555.74,417.87 L556.63,417.41 L557.52,416.95 L558.41,416.50 L559.30,416.05 L560.20,415.60 L561.09,415.16 L561.99,414.71 L562.88,414.26 L563.77,413.81 L564.67,413.37 L565.56,412.92 L566.46,412.47 L567.35,412.03 L568.25,411.58 L569.15,411.14 L570.04,410.70 L570.94,410.26 L571.84,409.83 L572.75,409.40 L573.65,408.97 L574.56,408.55 L575.47,408.14 L576.38,407.74 L577.30,407.34 L578.22,406.95 L579.14,406.57 L580.07,406.20 L581.00,405.84 L581.93,405.49 L582.87,405.15 L583.82,404.83 L584.76,404.52 L585.72,404.22 L586.67,403.94 L587.63,403.66 L588.60,403.41 L589.56,403.16 L590.53,402.93 L591.51,402.70 L592.48,402.49 L593.46,402.28 L594.44,402.08 L595.42,401.89 L596.40,401.70 L597.38,401.52 L598.37,401.34 L599.35,401.17 L600.34,401.01 L601.32,400.84 L602.31,400.68 L603.30,400.53 L604.29,400.37 L605.28,400.23 L606.27,400.08 L607.26,399.94 L608.25,399.80 L609.24,399.66 L610.23,399.53 L611.22,399.40 L612.21,399.28 L613.20,399.15 L614.20,399.03 L615.19,398.91 L616.18,398.80 L617.17,398.69 L618.17,398.58 L619.16,398.47 L620.16,398.36 L621.15,398.26 L622.15,398.16 L623.14,398.06 L624.14,397.97 L625.13,397.88 L626.13,397.78 L627.12,397.70 L628.12,397.61 L629.12,397.52 L630.11,397.44 L631.11,397.35 L632.11,397.27 L633.10,397.19 L634.10,397.11 L635.10,397.03 L636.09,396.95 L637.09,396.88 L638.09,396.80 L639.09,396.72 L640.08,396.65 L641.08,396.57 L642.08,396.50 L643.07,396.43 L644.07,396.35 L645.07,396.28 L646.07,396.21 L647.06,396.14 L648.06,396.07 L649.06,396.00 L650.06,395.94 L651.05,395.87 L652.05,395.81 L653.05,395.74 L654.05,395.68 L655.05,395.62 L656.04,395.56 L657.04,395.50 L658.04,395.44 L659.04,395.39 L660.04,395.33 L661.04,395.28 L662.04,395.23 L663.03,395.18 L664.03,395.13 L665.03,395.09 L666.03,395.04 L667.03,395.00 L668.03,394.96 L669.03,394.92 L670.03,394.88 L671.03,394.85 L672.02,394.82 L673.02,394.78 L674.02,394.76 L675.02,394.73 L676.02,394.70 L677.01,394.68 L678.01,394.66 L679.01,394.63 L680.00,394.61" stroke="#0072BD"/>
<path d="M315.50,396.00 L316.50,396.05 L317.50,396.11 L318.50,396.17 L319.49,396.22 L320.49,396.28 L321.49,396.34 L322.49,396.40 L323.49,396.47 L324.48,396.53 L325.48,396.60 L326.48,396.67 L327.48,396.75 L328.47,396.82 L329.47,396.90 L330.47,396.98 L331.46,397.06 L332.46,397.14 L333.46,397.22 L334.45,397.31 L335.45,397.40 L336.44,397.49 L337.44,397.58 L338.44,397.67 L339.43,397.77 L340.43,397.86 L341.42,397.96 L342.42,398.06 L343.41,398.16 L344.41,398.27 L345.40,398.37 L346.39,398.48 L347.39,398.59 L348.38,398.71 L349.37,398.83 L350.37,398.95 L351.36,399.07 L352.35,399.19 L353.34,399.32 L354.33,399.45 L355.33,399.59 L356.32,399.73 L357.30,399.87 L358.29,400.02 L359.28,400.17 L360.27,400.32 L361.26,400.48 L362.24,400.64 L363.23,400.81 L364.22,400.98 L365.20,401.15 L366.18,401.33 L367.16,401.52 L368.14,401.71 L369.12,401.91 L370.10,402.12 L371.08,402.34 L372.05,402.56 L373.02,402.79 L373.99,403.03 L374.96,403.28 L375.92,403.54 L376.89,403.81 L377.85,404.08 L378.80,404.37 L379.76,404.66 L380.71,404.96 L381.66,405.28 L382.61,405.59 L383.55,405.92 L384.49,406.26 L385.43,406.60 L386.37,406.95 L387.30,407.31 L388.23,407.67 L389.16,408.04 L390.08,408.42 L391.01,408.80 L391.93,409.19 L392.85,409.59 L393.76,409.99 L394.67,410.40 L395.58,410.81 L396.49,411.24 L397.39,411.67 L398.28,412.11 L399.18,412.55 L400.06,413.01 L400.94,413.48 L401.82,413.96 L402.69,414.45 L403.55,414.96 L404.40,415.47 L405.25,415.99 L406.09,416.53 L406.93,417.08 L407.76,417.63 L408.58,418.20 L409.40,418.77 L410.22,419.35 L411.03,419.93 L411.83,420.52 L412.64,421.12 L413.44,421.71 L414.24,422.31 L415.04,422.92 L415.83,423.52 L416.63,424.12 L417.43,424.73 L418.22,425.33 L419.02,425.94 L419.82,426.54 L420.61,427.15 L421.41,427.76 L422.20,428.36 L422.99,428.98 L423.78,429.59 L424.56,430.21 L425.34,430.83 L426.12,431.46 L426.89,432.10 L427.65,432.75 L428.40,433.40 L429.15,434.06 L429.89,434.74 L430.61,435.42 L431.33,436.11 L432.05,436.81 L432.75,437.52 L433.45,438.23 L434.13,438.96 L434.81,439.69 L435.49,440.42 L436.15,441.17 L436.81,441.92 L437.47,442.67 L438.12,443.43 L438.76,444.20 L439.40,444.96 L440.04,445.74 L440.67,446.51 L441.30,447.29 L441.92,448.07 L442.54,448.85 L443.16,449.64 L443.77,450.43 L444.38,451.22 L444.98,452.02 L445.58,452.82 L446.18,453.62 L446.77,454.43 L447.36,455.24 L447.94,456.05 L448.52,456.87 L449.09,457.68 L449.66,458.51 L450.23,459.33 L450.79,460.15 L451.36,460.98 L451.92,461.81 L452.48,462.64 L453.04,463.47 L453.59,464.30 L454.15,465.13 L454.71,465.96 L455.27,466.79 L455.83,467.61 L456.39,468.44 L456.95,469.27 L457.51,470.10 L458.08,470.92 L458.65,471.74 L459.21,472.57 L459.79,473.39 L460.36,474.21 L460.93,475.03 L461.51,475.84 L462.08,476.66 L462.66,477.48 L463.24,478.29 L463.82,479.11 L464.40,479.92 L464.98,480.73 L465.56,481.55 L466.15,482.36 L466.73,483.17 L467.31,483.99 L467.89,484.80 L468.48,485.61 L469.06,486.42 L469.64,487.24 L470.23,488.05 L470.81,488.86 L471.39,489.68 L471.97,490.49 L472.55,491.30 L473.14,492.11 L473.72,492.92 L474.31,493.72 L474.91,494.52 L475.51,495.31 L476.13,496.08 L476.76,496.84 L477.40,497.57 L478.06,498.27 L478.75,498.93 L479.46,499.54 L480.18,500.10 L480.93,500.58 L481.70,500.99 L482.48,501.31 L483.27,501.53 L484.07,501.65 L484.87,501.65 L485.66,501.55 L486.44,501.34 L487.20,501.03 L487.94,500.62 L488.66,500.13 L489.34,499.56 L490.00,498.92 L490.63,498.23 L491.23,497.50 L491.80,496.72 L492.35,495.92 L492.89,495.10 L493.41,494.26 L493.92,493.41 L494.44,492.56 L494.95,491.71 L495.47,490.86 L495.99,490.01 L496.53,489.17 L497.07,488.34 L497.63,487.51 L498.20,486.70 L498.78,485.88 L499.37,485.08 L499.97,484.28 L500.58,483.49 L501.19,482.70 L501.80,481.91 L502.42,481.12 L503.04,480.34 L503.66,479.56 L504.28,478.77 L504.89,477.98 L505.51,477.19 L506.12,476.40 L506.72,475.60 L507.32,474.80 L507.91,474.00 L508.50,473.19 L509.08,472.38 L509.66,471.57 L510.24,470.75 L510.81,469.93 L511.37,469.10 L511.94,468.28 L512.50,467.45 L513.06,466.62 L513.61,465.79 L514.17,464.96 L514.72,464.13 L515.28,463.29 L515.83,462.46 L516.39,461.63 L516.95,460.80 L517.51,459.97 L518.07,459.15 L518.64,458.32 L519.20,457.50 L519.78,456.68 L520.35,455.86 L520.94,455.05 L521.52,454.24 L522.12,453.44 L522.72,452.64 L523.33,451.85 L523.94,451.06 L524.56,450.28 L525.19,449.50 L525.83,448.73 L526.47,447.97 L527.12,447.21 L527.77,446.45 L528.43,445.70 L529.10,444.96 L529.77,444.22 L530.45,443.48 L531.13,442.76 L531.82,442.03 L532.52,441.32 L533.22,440.61 L533.93,439.90 L534.64,439.20 L535.37,438.51 L536.09,437.83 L536.83,437.15 L537.57,436.48 L538.32,435.82 L539.07,435.17 L539.83,434.52 L540.60,433.88 L541.38,433.25 L542.16,432.63 L542.94,432.01 L543.73,431.40 L544.53,430.80 L545.33,430.20 L546.14,429.61 L546.95,429.03 L547.76,428.45 L548.58,427.87 L549.40,427.31 L550.23,426.75 L551.06,426.19 L551.90,425.65 L552.74,425.10 L553.58,424.57 L554.43,424.04 L555.28,423.52 L556.14,423.00 L557.00,422.49 L557.86,421.99 L558.73,421.50 L559.60,421.01 L560.48,420.53 L561.36,420.06 L562.24,419.59 L563.13,419.13 L564.02,418.68 L564.91,418.23 L565.81,417.79 L566.71,417.35 L567.61,416.92 L568.52,416.49 L569.42,416.07 L570.33,415.65 L571.24,415.24 L572.15,414.84 L573.07,414.43 L573.99,414.04 L574.91,413.65 L575.83,413.27 L576.76,412.89 L577.69,412.52 L578.62,412.16 L579.55,411.81 L580.49,411.46 L581.43,411.12 L582.37,410.79 L583.32,410.47 L584.27,410.16 L585.22,409.86 L586.18,409.57 L587.13,409.29 L588.10,409.02 L589.06,408.76 L590.03,408.50 L590.99,408.25 L591.96,408.01 L592.93,407.78 L593.91,407.55 L594.88,407.33 L595.86,407.11 L596.84,406.90 L597.81,406.69 L598.79,406.48 L599.77,406.28 L600.75,406.09 L601.73,405.89 L602.71,405.70 L603.70,405.52 L604.68,405.33 L605.66,405.15 L606.65,404.98 L607.63,404.80 L608.62,404.63 L609.60,404.46 L610.59,404.30 L611.58,404.14 L612.56,403.98 L613.55,403.83 L614.54,403.68 L615.53,403.53 L616.52,403.38 L617.51,403.24 L618.50,403.10 L619.49,402.97 L620.48,402.83 L621.47,402.70 L622.46,402.57 L623.45,402.45 L624.45,402.33 L625.44,402.21 L626.43,402.09 L627.43,401.98 L628.42,401.86 L629.41,401.75 L630.41,401.65 L631.40,401.54 L632.40,401.44 L633.39,401.33 L634.39,401.23 L635.38,401.13 L636.38,401.03 L637.37,400.93 L638.37,400.84 L639.36,400.74 L640.36,400.64 L641.35,400.55 L642.35,400.45 L643.34,400.36 L644.34,400.27 L645.33,400.18 L646.33,400.09 L647.33,400.00 L648.32,399.91 L649.32,399.83 L650.32,399.74 L651.31,399.66 L652.31,399.57 L653.30,399.49 L654.30,399.41 L655.30,399.34 L656.30,399.26 L657.29,399.18 L658.29,399.11 L659.29,399.04 L660.29,398.97 L661.28,398.90 L662.28,398.84 L663.28,398.77 L664.28,398.71 L665.27,398.65 L666.27,398.59 L667.27,398.54 L668.27,398.49 L669.26,398.43 L670.26,398.39 L671.25,398.34 L672.24,398.30 L673.23,398.25 L674.21,398.21 L675.19,398.18 L676.17,398.14 L677.14,398.11 L678.10,398.08 L679.06,398.05 L680.02,398.02" stroke="#D95319"/>
<path d="M315.50,396.50 L316.50,396.56 L317.50,396.62 L318.49,396.68 L319.49,396.74 L320.49,396.80 L321.49,396.86 L322.49,396.93 L323.48,397.00 L324.48,397.07 L325.48,397.14 L326.48,397.21 L327.47,397.29 L328.47,397.37 L329.47,397.45 L330.46,397.53 L331.46,397.62 L332.46,397.70 L333.45,397.79 L334.45,397.88 L335.44,397.98 L336.44,398.07 L337.43,398.17 L338.43,398.26 L339.42,398.36 L340.42,398.47 L341.41,398.57 L342.41,398.68 L343.40,398.78 L344.40,398.89 L345.39,399.01 L346.38,399.12 L347.38,399.24 L348.37,399.36 L349.36,399.48 L350.35,399.61 L351.34,399.74 L352.34,399.87 L353.33,400.00 L354.32,400.14 L355.31,400.28 L356.29,400.43 L357.28,400.58 L358.27,400.73 L359.26,400.89 L360.25,401.05 L361.23,401.21 L362.22,401.38 L363.20,401.55 L364.19,401.73 L365.17,401.91 L366.15,402.10 L367.13,402.29 L368.11,402.49 L369.09,402.70 L370.07,402.91 L371.04,403.13 L372.02,403.35 L372.99,403.58 L373.96,403.83 L374.92,404.07 L375.89,404.33 L376.85,404.60 L377.81,404.87 L378.77,405.16 L379.73,405.45 L380.68,405.75 L381.63,406.05 L382.58,406.37 L383.52,406.69 L384.47,407.02 L385.41,407.36 L386.34,407.71 L387.28,408.06 L388.21,408.42 L389.14,408.78 L390.07,409.16 L391.00,409.53 L391.92,409.92 L392.84,410.31 L393.75,410.71 L394.67,411.12 L395.58,411.53 L396.48,411.95 L397.38,412.38 L398.28,412.82 L399.17,413.27 L400.06,413.73 L400.94,414.20 L401.81,414.68 L402.68,415.17 L403.54,415.68 L404.39,416.20 L405.23,416.73 L406.07,417.27 L406.90,417.83 L407.72,418.39 L408.54,418.96 L409.36,419.54 L410.17,420.12 L410.97,420.72 L411.77,421.31 L412.57,421.91 L413.37,422.51 L414.17,423.12 L414.96,423.73 L415.76,424.33 L416.55,424.94 L417.34,425.55 L418.14,426.16 L418.93,426.77 L419.73,427.37 L420.52,427.98 L421.32,428.59 L422.11,429.19 L422.91,429.80 L423.70,430.41 L424.49,431.02 L425.28,431.63 L426.07,432.24 L426.86,432.86 L427.65,433.47 L428.44,434.09 L429.22,434.71 L430.00,435.33 L430.78,435.96 L431.56,436.58 L432.34,437.21 L433.12,437.84 L433.90,438.47 L434.67,439.10 L435.44,439.74 L436.21,440.38 L436.98,441.02 L437.74,441.67 L438.50,442.32 L439.25,442.97 L440.01,443.63 L440.75,444.29 L441.50,444.96 L442.23,445.64 L442.96,446.32 L443.69,447.00 L444.41,447.70 L445.12,448.40 L445.83,449.10 L446.52,449.82 L447.22,450.54 L447.90,451.26 L448.59,451.99 L449.26,452.73 L449.94,453.47 L450.61,454.21 L451.27,454.96 L451.94,455.70 L452.60,456.45 L453.26,457.20 L453.93,457.95 L454.59,458.69 L455.26,459.44 L455.93,460.18 L456.60,460.92 L457.27,461.66 L457.95,462.40 L458.63,463.13 L459.31,463.86 L459.99,464.59 L460.68,465.32 L461.36,466.05 L462.05,466.77 L462.75,467.49 L463.44,468.21 L464.14,468.93 L464.84,469.64 L465.55,470.35 L466.26,471.05 L466.98,471.74 L467.70,472.42 L468.43,473.10 L469.18,473.77 L469.93,474.42 L470.69,475.06 L471.47,475.69 L472.25,476.30 L473.04,476.90 L473.85,477.49 L474.66,478.06 L475.49,478.60 L476.33,479.13 L477.17,479.64 L478.03,480.12 L478.90,480.56 L479.78,480.96 L480.67,481.32 L481.56,481.63 L482.47,481.88 L483.39,482.07 L484.30,482.18 L485.22,482.23 L486.14,482.19 L487.06,482.09 L487.97,481.91 L488.87,481.67 L489.75,481.36 L490.63,480.99 L491.50,480.58 L492.35,480.12 L493.19,479.62 L494.03,479.10 L494.85,478.55 L495.67,477.99 L496.47,477.41 L497.28,476.82 L498.08,476.22 L498.87,475.62 L499.66,475.01 L500.45,474.39 L501.23,473.77 L502.01,473.14 L502.78,472.51 L503.55,471.87 L504.31,471.23 L505.07,470.57 L505.82,469.92 L506.57,469.25 L507.31,468.58 L508.05,467.91 L508.79,467.24 L509.52,466.56 L510.25,465.87 L510.98,465.19 L511.70,464.50 L512.43,463.81 L513.15,463.12 L513.87,462.42 L514.59,461.73 L515.30,461.03 L516.02,460.33 L516.73,459.63 L517.43,458.92 L518.14,458.21 L518.84,457.50 L519.55,456.79 L520.25,456.08 L520.94,455.36 L521.64,454.65 L522.34,453.93 L523.04,453.22 L523.74,452.51 L524.45,451.80 L525.16,451.09 L525.87,450.39 L526.59,449.70 L527.31,449.01 L528.04,448.33 L528.78,447.66 L529.53,446.99 L530.28,446.33 L531.03,445.68 L531.80,445.04 L532.57,444.40 L533.34,443.77 L534.12,443.15 L534.91,442.53 L535.70,441.92 L536.49,441.31 L537.29,440.70 L538.09,440.10 L538.89,439.51 L539.69,438.92 L540.50,438.33 L541.32,437.74 L542.13,437.17 L542.95,436.59 L543.77,436.02 L544.59,435.45 L545.42,434.89 L546.25,434.33 L547.08,433.77 L547.91,433.22 L548.75,432.68 L549.59,432.14 L550.43,431.60 L551.28,431.07 L552.13,430.54 L552.98,430.01 L553.83,429.50 L554.69,428.98 L555.55,428.47 L556.41,427.97 L557.28,427.47 L558.15,426.97 L559.02,426.48 L559.89,425.99 L560.77,425.51 L561.64,425.03 L562.52,424.56 L563.41,424.09 L564.29,423.62 L565.18,423.16 L566.07,422.70 L566.96,422.25 L567.85,421.80 L568.74,421.35 L569.64,420.90 L570.54,420.46 L571.44,420.03 L572.34,419.59 L573.24,419.17 L574.15,418.74 L575.05,418.32 L575.96,417.91 L576.88,417.51 L577.79,417.11 L578.71,416.71 L579.63,416.33 L580.56,415.95 L581.49,415.59 L582.42,415.23 L583.36,414.88 L584.30,414.54 L585.24,414.21 L586.18,413.89 L587.13,413.59 L588.09,413.29 L589.04,413.00 L590.00,412.72 L590.96,412.45 L591.93,412.18 L592.89,411.93 L593.86,411.68 L594.83,411.44 L595.80,411.20 L596.77,410.96 L597.75,410.73 L598.72,410.51 L599.70,410.29 L600.67,410.07 L601.65,409.86 L602.63,409.65 L603.61,409.45 L604.59,409.25 L605.57,409.05 L606.55,408.85 L607.53,408.66 L608.51,408.48 L609.49,408.29 L610.48,408.11 L611.46,407.94 L612.44,407.76 L613.43,407.59 L614.42,407.43 L615.40,407.26 L616.39,407.10 L617.38,406.94 L618.36,406.79 L619.35,406.64 L620.34,406.49 L621.33,406.35 L622.32,406.21 L623.31,406.07 L624.30,405.93 L625.29,405.80 L626.29,405.67 L627.28,405.55 L628.27,405.42 L629.26,405.30 L630.25,405.18 L631.25,405.06 L632.24,404.95 L633.23,404.83 L634.23,404.72 L635.22,404.61 L636.22,404.50 L637.21,404.39 L638.20,404.28 L639.20,404.17 L640.19,404.07 L641.19,403.96 L642.18,403.86 L643.18,403.75 L644.17,403.65 L645.17,403.55 L646.16,403.45 L647.16,403.35 L648.15,403.26 L649.15,403.16 L650.14,403.06 L651.14,402.97 L652.13,402.88 L653.13,402.79 L654.12,402.70 L655.12,402.61 L656.12,402.53 L657.11,402.44 L658.11,402.36 L659.11,402.28 L660.10,402.21 L661.10,402.13 L662.10,402.06 L663.10,401.98 L664.09,401.91 L665.09,401.85 L666.09,401.78 L667.09,401.72 L668.08,401.66 L669.08,401.60 L670.08,401.55 L671.08,401.49 L672.07,401.44 L673.07,401.40 L674.06,401.35 L675.06,401.31 L676.05,401.27 L677.04,401.23 L678.03,401.19 L679.02,401.15 L680.01,401.12" stroke="#EDB120"/>
<path d="M315.50,397.00 L316.50,397.06 L317.50,397.13 L318.49,397.19 L319.49,397.25 L320.49,397.32 L321.49,397.39 L322.48,397.46 L323.48,397.53 L324.48,397.60 L325.48,397.68 L326.47,397.76 L327.47,397.84 L328.47,397.92 L329.46,398.01 L330.46,398.09 L331.45,398.18 L332.45,398.27 L333.45,398.37 L334.44,398.46 L335.44,398.56 L336.43,398.66 L337.43,398.76 L338.42,398.86 L339.42,398.96 L340.41,399.07 L341.41,399.17 L342.40,399.28 L343.39,399.39 L344.39,399.51 L345.38,399.62 L346.37,399.74 L347.36,399.86 L348.36,399.99 L349.35,400.11 L350.34,400.24 L351.33,400.37 L352.32,400.51 L353.31,400.65 L354.30,400.79 L355.29,400.93 L356.28,401.08 L357.27,401.23 L358.26,401.39 L359.24,401.55 L360.23,401.71 L361.22,401.88 L362.20,402.05 L363.18,402.23 L364.17,402.41 L365.15,402.59 L366.13,402.78 L367.11,402.98 L368.09,403.18 L369.07,403.39 L370.04,403.61 L371.02,403.83 L371.99,404.06 L372.96,404.30 L373.93,404.55 L374.89,404.81 L375.85,405.07 L376.82,405.35 L377.77,405.63 L378.73,405.92 L379.68,406.22 L380.63,406.53 L381.58,406.84 L382.53,407.17 L383.47,407.50 L384.41,407.83 L385.35,408.18 L386.28,408.53 L387.22,408.89 L388.15,409.25 L389.08,409.62 L390.01,409.99 L390.93,410.37 L391.85,410.75 L392.78,411.14 L393.69,411.54 L394.61,411.93 L395.52,412.34 L396.44,412.75 L397.34,413.16 L398.25,413.59 L399.15,414.02 L400.05,414.45 L400.95,414.90 L401.84,415.35 L402.72,415.81 L403.60,416.28 L404.48,416.76 L405.35,417.25 L406.22,417.74 L407.08,418.25 L407.94,418.76 L408.79,419.28 L409.64,419.80 L410.49,420.33 L411.33,420.87 L412.17,421.41 L413.01,421.96 L413.85,422.51 L414.68,423.06 L415.51,423.61 L416.34,424.17 L417.17,424.73 L417.99,425.30 L418.82,425.86 L419.64,426.43 L420.46,427.00 L421.28,427.57 L422.10,428.15 L422.91,428.73 L423.73,429.31 L424.54,429.89 L425.35,430.48 L426.16,431.07 L426.96,431.66 L427.77,432.25 L428.58,432.84 L429.38,433.44 L430.19,434.03 L430.99,434.62 L431.79,435.22 L432.60,435.81 L433.40,436.41 L434.21,437.00 L435.01,437.60 L435.81,438.20 L436.61,438.79 L437.42,439.39 L438.22,439.99 L439.02,440.59 L439.81,441.19 L440.61,441.80 L441.41,442.40 L442.20,443.01 L442.99,443.62 L443.78,444.23 L444.57,444.85 L445.35,445.47 L446.14,446.09 L446.92,446.72 L447.69,447.34 L448.47,447.97 L449.25,448.60 L450.02,449.24 L450.80,449.87 L451.57,450.50 L452.35,451.13 L453.13,451.75 L453.91,452.37 L454.70,452.99 L455.49,453.61 L456.28,454.21 L457.08,454.82 L457.88,455.41 L458.69,456.00 L459.50,456.59 L460.31,457.16 L461.13,457.73 L461.96,458.30 L462.79,458.85 L463.62,459.40 L464.46,459.95 L465.30,460.48 L466.15,461.01 L467.01,461.52 L467.87,462.03 L468.73,462.53 L469.60,463.01 L470.48,463.49 L471.36,463.95 L472.25,464.41 L473.15,464.85 L474.05,465.28 L474.95,465.70 L475.86,466.11 L476.78,466.50 L477.70,466.88 L478.62,467.24 L479.55,467.58 L480.49,467.90 L481.43,468.19 L482.38,468.45 L483.33,468.67 L484.29,468.85 L485.25,468.99 L486.21,469.09 L487.18,469.13 L488.14,469.13 L489.11,469.07 L490.08,468.98 L491.04,468.84 L492.00,468.66 L492.96,468.44 L493.91,468.19 L494.86,467.91 L495.81,467.61 L496.74,467.29 L497.68,466.94 L498.60,466.58 L499.53,466.21 L500.44,465.82 L501.36,465.41 L502.26,464.99 L503.17,464.57 L504.06,464.13 L504.96,463.68 L505.84,463.23 L506.73,462.76 L507.61,462.29 L508.49,461.81 L509.36,461.33 L510.23,460.84 L511.10,460.34 L511.97,459.84 L512.83,459.34 L513.69,458.83 L514.55,458.31 L515.40,457.79 L516.25,457.26 L517.09,456.73 L517.93,456.19 L518.77,455.64 L519.60,455.09 L520.43,454.53 L521.25,453.97 L522.07,453.40 L522.89,452.82 L523.71,452.24 L524.52,451.66 L525.33,451.07 L526.14,450.49 L526.95,449.90 L527.76,449.32 L528.57,448.73 L529.38,448.15 L530.20,447.57 L531.02,447.00 L531.84,446.43 L532.66,445.86 L533.49,445.30 L534.32,444.74 L535.15,444.19 L535.99,443.64 L536.83,443.10 L537.67,442.56 L538.52,442.03 L539.37,441.50 L540.22,440.98 L541.07,440.46 L541.92,439.94 L542.78,439.42 L543.64,438.91 L544.50,438.40 L545.36,437.89 L546.22,437.39 L547.09,436.88 L547.95,436.38 L548.82,435.89 L549.69,435.39 L550.56,434.90 L551.43,434.41 L552.31,433.93 L553.18,433.44 L554.06,432.96 L554.94,432.49 L555.82,432.02 L556.70,431.55 L557.59,431.08 L558.47,430.62 L559.36,430.16 L560.25,429.70 L561.14,429.25 L562.04,428.80 L562.93,428.35 L563.83,427.91 L564.72,427.47 L565.62,427.03 L566.52,426.59 L567.42,426.16 L568.32,425.73 L569.23,425.30 L570.13,424.87 L571.03,424.44 L571.94,424.02 L572.85,423.60 L573.76,423.18 L574.67,422.77 L575.58,422.36 L576.49,421.95 L577.41,421.55 L578.33,421.16 L579.25,420.77 L580.17,420.39 L581.10,420.02 L582.03,419.65 L582.96,419.29 L583.90,418.95 L584.84,418.61 L585.78,418.27 L586.72,417.95 L587.67,417.64 L588.62,417.33 L589.58,417.04 L590.53,416.75 L591.49,416.47 L592.45,416.19 L593.42,415.93 L594.38,415.66 L595.35,415.41 L596.32,415.16 L597.28,414.91 L598.25,414.66 L599.22,414.42 L600.20,414.19 L601.17,413.95 L602.14,413.73 L603.12,413.50 L604.09,413.28 L605.07,413.06 L606.04,412.84 L607.02,412.63 L608.00,412.42 L608.98,412.22 L609.96,412.02 L610.94,411.82 L611.92,411.62 L612.90,411.43 L613.88,411.25 L614.86,411.06 L615.85,410.88 L616.83,410.70 L617.81,410.53 L618.80,410.36 L619.78,410.19 L620.77,410.02 L621.76,409.86 L622.75,409.71 L623.73,409.55 L624.72,409.40 L625.71,409.25 L626.70,409.10 L627.69,408.96 L628.68,408.82 L629.67,408.69 L630.66,408.55 L631.65,408.42 L632.64,408.29 L633.63,408.16 L634.63,408.03 L635.62,407.90 L636.61,407.78 L637.60,407.66 L638.60,407.53 L639.59,407.41 L640.58,407.29 L641.57,407.17 L642.57,407.06 L643.56,406.94 L644.55,406.82 L645.55,406.71 L646.54,406.60 L647.53,406.48 L648.53,406.37 L649.52,406.27 L650.52,406.16 L651.51,406.05 L652.50,405.95 L653.50,405.85 L654.49,405.75 L655.49,405.65 L656.48,405.55 L657.48,405.46 L658.48,405.36 L659.47,405.27 L660.47,405.18 L661.46,405.10 L662.46,405.01 L663.46,404.93 L664.45,404.85 L665.45,404.77 L666.45,404.70 L667.44,404.63 L668.44,404.56 L669.43,404.49 L670.42,404.42 L671.41,404.36 L672.40,404.30 L673.38,404.25 L674.35,404.20 L675.31,404.14 L676.27,404.10 L677.22,404.05 L678.16,404.01 L679.10,403.96 L680.03,403.92" stroke="#7E2F8E"/>
<path d="M315.50,397.80 L316.50,397.89 L317.49,397.98 L318.49,398.07 L319.48,398.16 L320.48,398.25 L321.48,398.34 L322.47,398.43 L323.47,398.53 L324.46,398.62 L325.46,398.72 L326.45,398.82 L327.45,398.92 L328.44,399.02 L329.44,399.13 L330.43,399.23 L331.43,399.34 L332.42,399.45 L333.41,399.56 L334.41,399.67 L335.40,399.78 L336.39,399.89 L337.39,400.00 L338.38,400.12 L339.37,400.23 L340.37,400.35 L341.36,400.47 L342.35,400.59 L343.35,400.71 L344.34,400.83 L345.33,400.95 L346.32,401.07 L347.32,401.19 L348.31,401.31 L349.30,401.44 L350.29,401.57 L351.28,401.70 L352.28,401.83 L353.27,401.96 L354.26,402.10 L355.25,402.24 L356.24,402.38 L357.23,402.52 L358.22,402.67 L359.20,402.82 L360.19,402.98 L361.18,403.14 L362.17,403.30 L363.15,403.47 L364.13,403.64 L365.12,403.82 L366.10,404.01 L367.08,404.20 L368.06,404.40 L369.04,404.61 L370.01,404.83 L370.98,405.05 L371.96,405.29 L372.92,405.53 L373.89,405.78 L374.85,406.05 L375.81,406.32 L376.77,406.61 L377.72,406.90 L378.68,407.21 L379.62,407.52 L380.57,407.84 L381.51,408.17 L382.46,408.50 L383.39,408.85 L384.33,409.20 L385.27,409.55 L386.20,409.91 L387.13,410.28 L388.06,410.64 L388.99,411.02 L389.91,411.39 L390.84,411.77 L391.76,412.15 L392.69,412.54 L393.61,412.92 L394.53,413.31 L395.45,413.69 L396.37,414.08 L397.30,414.47 L398.22,414.86 L399.14,415.25 L400.06,415.65 L400.97,416.04 L401.89,416.44 L402.81,416.84 L403.72,417.24 L404.64,417.64 L405.55,418.05 L406.46,418.47 L407.37,418.88 L408.28,419.30 L409.18,419.72 L410.09,420.15 L410.99,420.58 L411.89,421.02 L412.79,421.45 L413.69,421.90 L414.58,422.34 L415.47,422.80 L416.36,423.25 L417.25,423.71 L418.13,424.18 L419.02,424.65 L419.90,425.12 L420.77,425.60 L421.65,426.09 L422.52,426.58 L423.39,427.07 L424.25,427.57 L425.11,428.08 L425.97,428.59 L426.83,429.10 L427.69,429.62 L428.54,430.14 L429.39,430.66 L430.24,431.19 L431.09,431.71 L431.94,432.25 L432.79,432.78 L433.63,433.31 L434.47,433.85 L435.32,434.39 L436.16,434.93 L437.00,435.47 L437.84,436.01 L438.68,436.56 L439.52,437.10 L440.36,437.65 L441.19,438.19 L442.03,438.74 L442.87,439.29 L443.70,439.84 L444.53,440.39 L445.37,440.94 L446.20,441.50 L447.03,442.05 L447.86,442.61 L448.69,443.16 L449.53,443.72 L450.36,444.27 L451.19,444.83 L452.03,445.37 L452.87,445.92 L453.71,446.46 L454.55,446.99 L455.40,447.52 L456.25,448.04 L457.11,448.55 L457.97,449.05 L458.84,449.55 L459.71,450.04 L460.59,450.52 L461.47,450.98 L462.36,451.45 L463.25,451.90 L464.14,452.34 L465.04,452.77 L465.95,453.20 L466.85,453.61 L467.77,454.02 L468.68,454.41 L469.61,454.79 L470.53,455.16 L471.46,455.52 L472.40,455.88 L473.34,456.22 L474.28,456.55 L475.22,456.87 L476.17,457.19 L477.12,457.49 L478.08,457.79 L479.03,458.08 L479.99,458.36 L480.95,458.63 L481.91,458.89 L482.88,459.13 L483.84,459.36 L484.81,459.56 L485.78,459.74 L486.76,459.90 L487.73,460.02 L488.70,460.11 L489.68,460.16 L490.65,460.17 L491.62,460.14 L492.59,460.08 L493.55,459.97 L494.52,459.84 L495.48,459.67 L496.45,459.48 L497.41,459.28 L498.38,459.06 L499.35,458.84 L500.31,458.61 L501.28,458.38 L502.25,458.15 L503.22,457.92 L504.20,457.69 L505.17,457.46 L506.14,457.23 L507.11,457.00 L508.08,456.76 L509.05,456.52 L510.02,456.27 L510.98,456.01 L511.94,455.74 L512.90,455.46 L513.85,455.17 L514.80,454.86 L515.74,454.53 L516.68,454.19 L517.61,453.83 L518.53,453.46 L519.45,453.08 L520.37,452.68 L521.27,452.26 L522.18,451.84 L523.07,451.40 L523.97,450.95 L524.86,450.50 L525.74,450.04 L526.63,449.58 L527.51,449.11 L528.39,448.64 L529.27,448.16 L530.15,447.69 L531.03,447.22 L531.92,446.74 L532.80,446.27 L533.68,445.80 L534.57,445.34 L535.45,444.87 L536.34,444.41 L537.23,443.95 L538.11,443.49 L539.00,443.03 L539.89,442.57 L540.78,442.12 L541.67,441.66 L542.56,441.20 L543.45,440.74 L544.34,440.28 L545.22,439.83 L546.11,439.37 L547.00,438.91 L547.89,438.46 L548.78,438.00 L549.68,437.55 L550.57,437.10 L551.46,436.65 L552.36,436.20 L553.25,435.76 L554.15,435.31 L555.05,434.88 L555.95,434.44 L556.85,434.01 L557.75,433.58 L558.66,433.16 L559.57,432.74 L560.48,432.33 L561.39,431.92 L562.31,431.52 L563.22,431.12 L564.14,430.73 L565.06,430.34 L565.99,429.96 L566.91,429.58 L567.84,429.20 L568.76,428.83 L569.69,428.46 L570.62,428.10 L571.56,427.73 L572.49,427.38 L573.43,427.02 L574.36,426.67 L575.30,426.33 L576.24,425.98 L577.18,425.65 L578.12,425.31 L579.07,424.98 L580.01,424.66 L580.96,424.34 L581.91,424.02 L582.86,423.71 L583.81,423.41 L584.76,423.11 L585.72,422.81 L586.68,422.52 L587.63,422.24 L588.59,421.96 L589.55,421.68 L590.52,421.41 L591.48,421.15 L592.45,420.88 L593.41,420.63 L594.38,420.37 L595.35,420.12 L596.31,419.87 L597.28,419.62 L598.25,419.38 L599.22,419.13 L600.19,418.90 L601.16,418.66 L602.14,418.42 L603.11,418.19 L604.08,417.96 L605.06,417.74 L606.03,417.51 L607.01,417.29 L607.98,417.07 L608.96,416.86 L609.93,416.64 L610.91,416.43 L611.89,416.22 L612.87,416.02 L613.85,415.81 L614.83,415.61 L615.81,415.41 L616.79,415.22 L617.77,415.03 L618.75,414.84 L619.73,414.65 L620.72,414.47 L621.70,414.29 L622.68,414.11 L623.67,413.93 L624.65,413.76 L625.64,413.59 L626.62,413.43 L627.61,413.26 L628.60,413.10 L629.58,412.94 L630.57,412.79 L631.56,412.63 L632.55,412.48 L633.54,412.33 L634.53,412.18 L635.52,412.03 L636.50,411.89 L637.49,411.74 L638.48,411.60 L639.47,411.46 L640.46,411.32 L641.45,411.18 L642.44,411.04 L643.43,410.90 L644.42,410.76 L645.42,410.63 L646.41,410.49 L647.40,410.36 L648.39,410.23 L649.38,410.10 L650.37,409.97 L651.36,409.85 L652.36,409.72 L653.35,409.60 L654.34,409.48 L655.33,409.36 L656.33,409.24 L657.32,409.13 L658.31,409.01 L659.31,408.90 L660.30,408.79 L661.30,408.68 L662.29,408.57 L663.28,408.47 L664.28,408.37 L665.27,408.27 L666.27,408.17 L667.26,408.07 L668.26,407.98 L669.25,407.89 L670.24,407.80 L671.24,407.71 L672.22,407.63 L673.21,407.55 L674.20,407.47 L675.18,407.39 L676.15,407.32 L677.12,407.24 L678.09,407.17 L679.06,407.10 L680.02,407.03" stroke="#77AC30"/>
<path d="M315.50,394.30 L315.75,394.31 L316.00,394.32 L316.25,394.33 L316.50,394.35 L316.75,394.36 L317.00,394.37 L317.25,394.38 L317.50,394.40 L317.75,394.41 L318.00,394.42 L318.25,394.43 L318.50,394.45 L318.75,394.46 L319.00,394.47 L319.25,394.49 L319.50,394.50 L319.75,394.51 L320.00,394.53 L320.25,394.54 L320.50,394.56 L320.75,394.57 L321.00,394.58 L321.25,394.60 L321.50,394.61 L321.75,394.63 L322.00,394.64 L322.25,394.66 L322.50,394.67 L322.75,394.69 L323.00,394.70 L323.25,394.72 L323.50,394.73 L323.75,394.75 L324.00,394.77 L324.25,394.78 L324.50,394.80 L324.75,394.81 L325.00,394.83 L325.25,394.85 L325.50,394.86 L325.75,394.88 L326.00,394.90 L326.25,394.91 L326.50,394.93 L326.75,394.95 L327.00,394.97 L327.25,394.98 L327.50,395.00 L327.75,395.02 L328.00,395.04 L328.25,395.05 L328.50,395.07 L328.75,395.09 L329.00,395.11 L329.25,395.13 L329.50,395.15 L329.75,395.16 L330.00,395.18 L330.25,395.20 L330.50,395.22 L330.75,395.24 L331.00,395.26 L331.25,395.28 L331.50,395.30 L331.75,395.32 L332.00,395.33 L332.25,395.35 L332.50,395.37 L332.75,395.39 L333.00,395.41 L333.25,395.43 L333.50,395.45 L333.75,395.47 L334.00,395.49 L334.25,395.51 L334.50,395.53 L334.75,395.55 L335.00,395.57 L335.25,395.60 L335.50,395.62 L335.75,395.64 L336.00,395.66 L336.25,395.68 L336.50,395.70 L336.75,395.72 L337.00,395.74 L337.25,395.76 L337.50,395.78 L337.75,395.80 L338.00,395.83 L338.25,395.85 L338.50,395.87 L338.75,395.89 L339.00,395.91 L339.25,395.93 L339.50,395.96 L339.75,395.98 L340.00,396.00 L340.25,396.02 L340.50,396.04 L340.75,396.07 L341.00,396.09 L341.25,396.11 L341.50,396.13 L341.75,396.16 L342.00,396.18 L342.25,396.20 L342.50,396.22 L342.75,396.25 L343.00,396.27 L343.25,396.29 L343.50,396.31 L343.75,396.34 L344.00,396.36 L344.25,396.38 L344.50,396.41 L344.75,396.43 L345.00,396.45 L345.25,396.48 L345.50,396.50 L345.75,396.52 L346.00,396.55 L346.25,396.57 L346.50,396.59 L346.75,396.62 L347.00,396.64 L347.25,396.67 L347.50,396.69 L347.75,396.72 L348.00,396.74 L348.25,396.77 L348.50,396.79 L348.75,396.82 L349.00,396.84 L349.25,396.87 L349.50,396.89 L349.75,396.92 L350.00,396.94 L350.25,396.97 L350.50,396.99 L350.75,397.02 L351.00,397.05 L351.25,397.07 L351.50,397.10 L351.75,397.13 L352.00,397.15 L352.25,397.18 L352.50,397.21 L352.75,397.24 L353.00,397.26 L353.25,397.29 L353.50,397.32 L353.75,397.35 L354.00,397.38 L354.25,397.41 L354.50,397.43 L354.75,397.46 L355.00,397.49 L355.25,397.52 L355.50,397.55 L355.75,397.58 L356.00,397.61 L356.25,397.64 L356.50,397.67 L356.75,397.70 L357.00,397.73 L357.25,397.76 L357.50,397.80 L357.75,397.83 L358.00,397.86 L358.25,397.89 L358.50,397.92 L358.75,397.96 L359.00,397.99 L359.25,398.02 L359.50,398.05 L359.75,398.09 L360.00,398.12 L360.25,398.16 L360.50,398.19 L360.75,398.22 L361.00,398.26 L361.25,398.29 L361.50,398.33 L361.75,398.36 L362.00,398.40 L362.25,398.44 L362.50,398.47 L362.75,398.51 L363.00,398.55 L363.25,398.58 L363.50,398.62 L363.75,398.66 L364.00,398.70 L364.25,398.73 L364.50,398.77 L364.75,398.81 L365.00,398.85 L365.25,398.89 L365.50,398.93 L365.75,398.97 L366.00,399.01 L366.25,399.05 L366.50,399.09 L366.75,399.13 L367.00,399.17 L367.25,399.22 L367.50,399.26 L367.75,399.30 L368.00,399.34 L368.25,399.39 L368.50,399.43 L368.75,399.48 L369.00,399.52 L369.25,399.56 L369.50,399.61 L369.75,399.65 L370.00,399.70 L370.25,399.75 L370.50,399.79 L370.75,399.84 L371.00,399.89 L371.25,399.94 L371.50,399.99 L371.75,400.05 L372.00,400.10 L372.25,400.16 L372.50,400.21 L372.75,400.27 L373.00,400.33 L373.25,400.39 L373.50,400.45 L373.75,400.51 L374.00,400.57 L374.25,400.63 L374.50,400.70 L374.75,400.76 L375.00,400.83 L375.25,400.90 L375.50,400.96 L375.75,401.03 L376.00,401.10 L376.25,401.17 L376.50,401.24 L376.75,401.32 L377.00,401.39 L377.25,401.46 L377.50,401.54 L377.75,401.61 L378.00,401.69 L378.25,401.77 L378.50,401.85 L378.75,401.92 L379.00,402.00 L379.25,402.08 L379.50,402.17 L379.75,402.25 L380.00,402.33 L380.25,402.41 L380.50,402.50 L380.75,402.58 L381.00,402.67 L381.25,402.75 L381.50,402.84 L381.75,402.93 L382.00,403.02 L382.25,403.10 L382.50,403.19 L382.75,403.28 L383.00,403.37 L383.25,403.47 L383.50,403.56 L383.75,403.65 L384.00,403.74 L384.25,403.84 L384.50,403.93 L384.75,404.02 L385.00,404.12 L385.25,404.21 L385.50,404.31 L385.75,404.41 L386.00,404.50 L386.25,404.60 L386.50,404.70 L386.75,404.80 L387.00,404.90 L387.25,405.00 L387.50,405.10 L387.75,405.20 L388.00,405.30 L388.25,405.40 L388.50,405.50 L388.75,405.60 L389.00,405.70 L389.25,405.81 L389.50,405.91 L389.75,406.01 L390.00,406.12 L390.25,406.22 L390.50,406.32 L390.75,406.43 L391.00,406.53 L391.25,406.64 L391.50,406.74 L391.75,406.85 L392.00,406.95 L392.25,407.06 L392.50,407.17 L392.75,407.27 L393.00,407.38 L393.25,407.48 L393.50,407.59 L393.75,407.70 L394.00,407.81 L394.25,407.91 L394.50,408.02 L394.75,408.13 L395.00,408.24 L395.25,408.34 L395.50,408.45 L395.75,408.56 L396.00,408.67 L396.25,408.78 L396.50,408.88 L396.75,408.99 L397.00,409.10 L397.25,409.21 L397.50,409.32 L397.75,409.43 L398.00,409.53 L398.25,409.64 L398.50,409.75 L398.75,409.86 L399.00,409.97 L399.25,410.08 L399.50,410.18 L399.75,410.29 L400.00,410.40 L400.25,410.51 L400.50,410.62 L400.75,410.72 L401.00,410.83 L401.25,410.94 L401.50,411.05 L401.75,411.16 L402.00,411.27 L402.25,411.38 L402.50,411.49 L402.75,411.60 L403.00,411.72 L403.25,411.83 L403.50,411.94 L403.75,412.05 L404.00,412.17 L404.25,412.28 L404.50,412.40 L404.75,412.51 L405.00,412.63 L405.25,412.74 L405.50,412.86 L405.75,412.97 L406.00,413.09 L406.25,413.21 L406.50,413.33 L406.75,413.45 L407.00,413.57 L407.25,413.69 L407.50,413.81 L407.75,413.93 L408.00,414.05 L408.25,414.17 L408.50,414.30 L408.75,414.42 L409.00,414.55 L409.25,414.67 L409.50,414.80 L409.75,414.93 L410.00,415.05 L410.25,415.18 L410.50,415.31 L410.75,415.44 L411.00,415.57 L411.25,415.71 L411.50,415.84 L411.75,415.97 L412.00,416.11 L412.25,416.24 L412.50,416.38 L412.75,416.51 L413.00,416.65 L413.25,416.79 L413.50,416.93 L413.75,417.07 L414.00,417.21 L414.25,417.35 L414.50,417.50 L414.75,417.64 L415.00,417.79 L415.25,417.93 L415.50,418.08 L415.75,418.23 L416.00,418.38 L416.25,418.53 L416.50,418.68 L416.75,418.84 L417.00,418.99 L417.25,419.14 L417.50,419.30 L417.75,419.46 L418.00,419.62 L418.25,419.78 L418.50,419.94 L418.75,420.10 L419.00,420.26 L419.25,420.43 L419.50,420.59 L419.75,420.76 L420.00,420.93 L420.25,421.10 L420.50,421.27 L420.75,421.44 L421.00,421.62 L421.25,421.80 L421.50,421.98 L421.75,422.17 L422.00,422.36 L422.25,422.56 L422.50,422.75 L422.75,422.95 L423.00,423.15 L423.25,423.36 L423.50,423.57 L423.75,423.78 L424.00,423.99 L424.25,424.20 L424.50,424.42 L424.75,424.64 L425.00,424.86 L425.25,425.09 L425.50,425.31 L425.75,425.54 L426.00,425.77 L426.25,426.00 L426.50,426.24 L426.75,426.47 L427.00,426.71 L427.25,426.95 L427.50,427.19 L427.75,427.43 L428.00,427.67 L428.25,427.92 L428.50,428.16 L428.75,428.41 L429.00,428.65 L429.25,428.90 L429.50,429.15 L429.75,429.40 L430.00,429.65 L430.25,429.90 L430.50,430.16 L430.75,430.41 L431.00,430.66 L431.25,430.91 L431.50,431.17 L431.75,431.42 L432.00,431.67 L432.25,431.93 L432.50,432.18 L432.75,432.43 L433.00,432.69 L433.25,432.94 L433.50,433.19 L433.75,433.45 L434.00,433.70 L434.25,433.95 L434.50,434.20 L434.75,434.45 L435.00,434.70 L435.25,434.95 L435.50,435.19 L435.75,435.44 L436.00,435.68 L436.25,435.92 L436.50,436.17 L436.75,436.41 L437.00,436.65 L437.25,436.89 L437.50,437.13 L437.75,437.38 L438.00,437.62 L438.25,437.87 L438.50,438.11 L438.75,438.36 L439.00,438.62 L439.25,438.87 L439.50,439.13 L439.75,439.39 L440.00,439.65 L440.25,439.92 L440.50,440.19 L440.75,440.47 L441.00,440.75 L441.25,441.04 L441.50,441.33 L441.75,441.62 L442.00,441.93 L442.25,442.23 L442.50,442.55 L442.75,442.87 L443.00,443.20 L443.25,443.54 L443.50,443.89 L443.75,444.25 L444.00,444.62 L444.25,445.00 L444.50,445.39 L444.75,445.79 L445.00,446.19 L445.25,446.61 L445.50,447.03 L445.75,447.46 L446.00,447.90 L446.25,448.34 L446.50,448.79 L446.75,449.25 L447.00,449.71 L447.25,450.17 L447.50,450.64 L447.75,451.11 L448.00,451.59 L448.25,452.07 L448.50,452.55 L448.75,453.04 L449.00,453.52 L449.25,454.01 L449.50,454.50 L449.75,454.99 L450.00,455.49 L450.25,455.99 L450.50,456.50 L450.75,457.02 L451.00,457.55 L451.25,458.07 L451.50,458.61 L451.75,459.15 L452.00,459.70 L452.25,460.25 L452.50,460.81 L452.75,461.38 L453.00,461.95 L453.25,462.53 L453.50,463.11 L453.75,463.70 L454.00,464.30 L454.25,464.90 L454.50,465.51 L454.75,466.12 L455.00,466.74 L455.25,467.35 L455.50,467.96 L455.75,468.58 L456.00,469.19 L456.25,469.81 L456.50,470.42 L456.75,471.04 L457.00,471.66 L457.25,472.29 L457.50,472.91 L457.75,473.54 L458.00,474.18 L458.25,474.82 L458.50,475.47 L458.75,476.12 L459.00,476.78 L459.25,477.45 L459.50,478.12 L459.75,478.81 L460.00,479.50 L460.25,480.20 L460.50,480.91 L460.75,481.63 L461.00,482.36 L461.25,483.11 L461.50,483.86 L461.75,484.63 L462.00,485.41 L462.25,486.20 L462.50,487.01 L462.75,487.83 L463.00,488.66 L463.25,489.51 L463.50,490.38 L463.75,491.27 L464.00,492.17 L464.25,493.08 L464.50,494.02 L464.75,494.99 L465.00,496.03 L465.25,497.15 L465.50,498.33 L465.75,499.56 L466.00,500.83 L466.25,502.14 L466.50,503.47 L466.75,504.82 L467.00,506.17 L467.25,507.51 L467.50,508.84 L467.75,510.14 L468.00,511.41 L468.25,512.63 L468.50,513.81 L468.75,514.97 L469.00,516.11 L469.25,517.25 L469.50,518.38 L469.75,519.52 L470.00,520.68 L470.25,521.87 L470.50,523.10 L470.75,524.37 L471.00,525.69 L471.25,527.08 L471.50,528.54 L471.75,530.05 L472.00,531.61 L472.25,533.23 L472.50,534.91 L472.75,536.63 L473.00,538.39 L473.25,540.19 L473.50,542.04 L473.75,543.92 L474.00,545.83 L474.25,547.76 L474.50,549.72 L474.75,551.74 L475.00,553.81 L475.25,555.95 L475.50,558.18 L475.75,560.51 L476.00,562.94 L476.25,565.50 L476.50,568.21 L476.75,571.24 L477.00,574.58 L477.25,578.17 L477.50,581.94 L477.75,585.84 L478.00,589.81 L478.25,593.79 L478.50,597.73 L478.75,601.56 L479.00,605.22 L479.25,608.65 L479.50,611.80 L479.75,614.88 L480.00,618.11 L480.25,621.44 L480.50,624.82 L480.75,628.21 L481.00,631.55 L481.25,634.81 L481.50,637.93 L481.75,640.86 L482.00,643.55 L482.25,645.96 L482.50,648.04 L482.75,649.75 L483.00,651.02 L483.25,651.82 L483.50,652.10 L483.75,651.80 L484.00,650.94 L484.25,649.57 L484.50,647.75 L484.75,645.54 L485.00,642.98 L485.25,640.13 L485.50,637.05 L485.75,633.80 L486.00,630.42 L486.25,626.97 L486.50,623.51 L486.75,620.10 L487.00,616.78 L487.25,613.61 L487.50,610.61 L487.75,607.49 L488.00,604.21 L488.25,600.80 L488.50,597.29 L488.75,593.71 L489.00,590.10 L489.25,586.48 L489.50,582.90 L489.75,579.37 L490.00,575.94 L490.25,572.63 L490.50,569.48 L490.75,566.52 L491.00,563.66 L491.25,560.85 L491.50,558.10 L491.75,555.41 L492.00,552.81 L492.25,550.29 L492.50,547.87 L492.75,545.55 L493.00,543.35 L493.25,541.26 L493.50,539.26 L493.75,537.35 L494.00,535.52 L494.25,533.75 L494.50,532.03 L494.75,530.36 L495.00,528.73 L495.25,527.12 L495.50,525.54 L495.75,524.00 L496.00,522.50 L496.25,521.03 L496.50,519.59 L496.75,518.17 L497.00,516.78 L497.25,515.41 L497.50,514.05 L497.75,512.70 L498.00,511.36 L498.25,510.03 L498.50,508.71 L498.75,507.39 L499.00,506.09 L499.25,504.80 L499.50,503.52 L499.75,502.25 L500.00,501.01 L500.25,499.78 L500.50,498.57 L500.75,497.38 L501.00,496.22 L501.25,495.07 L501.50,493.95 L501.75,492.83 L502.00,491.71 L502.25,490.58 L502.50,489.46 L502.75,488.34 L503.00,487.22 L503.25,486.10 L503.50,485.00 L503.75,483.90 L504.00,482.81 L504.25,481.74 L504.50,480.68 L504.75,479.63 L505.00,478.60 L505.25,477.59 L505.50,476.61 L505.75,475.64 L506.00,474.70 L506.25,473.79 L506.50,472.90 L506.75,472.04 L507.00,471.22 L507.25,470.42 L507.50,469.67 L507.75,468.94 L508.00,468.26 L508.25,467.62 L508.50,467.01 L508.75,466.43 L509.00,465.87 L509.25,465.34 L509.50,464.83 L509.75,464.34 L510.00,463.86 L510.25,463.40 L510.50,462.94 L510.75,462.50 L511.00,462.05 L511.25,461.61 L511.50,461.16 L511.75,460.71 L512.00,460.26 L512.25,459.79 L512.50,459.31 L512.75,458.81 L513.00,458.29 L513.25,457.76 L513.50,457.22 L513.75,456.67 L514.00,456.11 L514.25,455.55 L514.50,454.98 L514.75,454.41 L515.00,453.84 L515.25,453.27 L515.50,452.70 L515.75,452.14 L516.00,451.59 L516.25,451.05 L516.50,450.51 L516.75,449.99 L517.00,449.49 L517.25,449.00 L517.50,448.52 L517.75,448.05 L518.00,447.59 L518.25,447.14 L518.50,446.70 L518.75,446.26 L519.00,445.83 L519.25,445.40 L519.50,444.98 L519.75,444.57 L520.00,444.15 L520.25,443.74 L520.50,443.33 L520.75,442.93 L521.00,442.53 L521.25,442.12 L521.50,441.72 L521.75,441.32 L522.00,440.91 L522.25,440.51 L522.50,440.10 L522.75,439.69 L523.00,439.28 L523.25,438.86 L523.50,438.44 L523.75,438.02 L524.00,437.59 L524.25,437.17 L524.50,436.75 L524.75,436.33 L525.00,435.91 L525.25,435.49 L525.50,435.07 L525.75,434.66 L526.00,434.26 L526.25,433.86 L526.50,433.47 L526.75,433.08 L527.00,432.70 L527.25,432.33 L527.50,431.97 L527.75,431.61 L528.00,431.27 L528.25,430.94 L528.50,430.62 L528.75,430.32 L529.00,430.02 L529.25,429.72 L529.50,429.44 L529.75,429.16 L530.00,428.88 L530.25,428.62 L530.50,428.35 L530.75,428.09 L531.00,427.84 L531.25,427.59 L531.50,427.34 L531.75,427.10 L532.00,426.86 L532.25,426.62 L532.50,426.38 L532.75,426.15 L533.00,425.91 L533.25,425.68 L533.50,425.45 L533.75,425.22 L534.00,424.99 L534.25,424.76 L534.50,424.53 L534.75,424.30 L535.00,424.07 L535.25,423.83 L535.50,423.60 L535.75,423.36 L536.00,423.12 L536.25,422.87 L536.50,422.63 L536.75,422.38 L537.00,422.13 L537.25,421.88 L537.50,421.63 L537.75,421.37 L538.00,421.12 L538.25,420.86 L538.50,420.61 L538.75,420.35 L539.00,420.09 L539.25,419.84 L539.50,419.58 L539.75,419.32 L540.00,419.06 L540.25,418.80 L540.50,418.55 L540.75,418.29 L541.00,418.03 L541.25,417.78 L541.50,417.52 L541.75,417.27 L542.00,417.02 L542.25,416.77 L542.50,416.52 L542.75,416.27 L543.00,416.02 L543.25,415.78 L543.50,415.54 L543.75,415.30 L544.00,415.06 L544.25,414.83 L544.50,414.60 L544.75,414.37 L545.00,414.14 L545.25,413.92 L545.50,413.70 L545.75,413.49 L546.00,413.27 L546.25,413.07 L546.50,412.86 L546.75,412.66 L547.00,412.47 L547.25,412.27 L547.50,412.09 L547.75,411.90 L548.00,411.73 L548.25,411.56 L548.50,411.39 L548.75,411.23 L549.00,411.07 L549.25,410.92 L549.50,410.77 L549.75,410.63 L550.00,410.50 L550.25,410.37 L550.50,410.24 L550.75,410.11 L551.00,409.98 L551.25,409.86 L551.50,409.73 L551.75,409.60 L552.00,409.48 L552.25,409.36 L552.50,409.23 L552.75,409.11 L553.00,408.99 L553.25,408.86 L553.50,408.74 L553.75,408.62 L554.00,408.50 L554.25,408.38 L554.50,408.27 L554.75,408.15 L555.00,408.03 L555.25,407.91 L555.50,407.80 L555.75,407.68 L556.00,407.57 L556.25,407.46 L556.50,407.34 L556.75,407.23 L557.00,407.12 L557.25,407.01 L557.50,406.90 L557.75,406.79 L558.00,406.68 L558.25,406.57 L558.50,406.46 L558.75,406.35 L559.00,406.25 L559.25,406.14 L559.50,406.04 L559.75,405.93 L560.00,405.83 L560.25,405.72 L560.50,405.62 L560.75,405.52 L561.00,405.42 L561.25,405.32 L561.50,405.21 L561.75,405.11 L562.00,405.02 L562.25,404.92 L562.50,404.82 L562.75,404.72 L563.00,404.62 L563.25,404.53 L563.50,404.43 L563.75,404.34 L564.00,404.24 L564.25,404.15 L564.50,404.06 L564.75,403.96 L565.00,403.87 L565.25,403.78 L565.50,403.69 L565.75,403.60 L566.00,403.51 L566.25,403.42 L566.50,403.33 L566.75,403.24 L567.00,403.16 L567.25,403.07 L567.50,402.98 L567.75,402.90 L568.00,402.81 L568.25,402.73 L568.50,402.64 L568.75,402.56 L569.00,402.48 L569.25,402.39 L569.50,402.31 L569.75,402.23 L570.00,402.15 L570.25,402.07 L570.50,401.99 L570.75,401.91 L571.00,401.83 L571.25,401.76 L571.50,401.68 L571.75,401.60 L572.00,401.52 L572.25,401.45 L572.50,401.37 L572.75,401.30 L573.00,401.22 L573.25,401.15 L573.50,401.08 L573.75,401.00 L574.00,400.93 L574.25,400.86 L574.50,400.79 L574.75,400.72 L575.00,400.65 L575.25,400.58 L575.50,400.51 L575.75,400.44 L576.00,400.37 L576.25,400.31 L576.50,400.24 L576.75,400.17 L577.00,400.11 L577.25,400.04 L577.50,399.97 L577.75,399.91 L578.00,399.85 L578.25,399.78 L578.50,399.72 L578.75,399.66 L579.00,399.59 L579.25,399.53 L579.50,399.47 L579.75,399.41 L580.00,399.35 L580.25,399.29 L580.50,399.23 L580.75,399.17 L581.00,399.11 L581.25,399.06 L581.50,399.00 L581.75,398.94 L582.00,398.88 L582.25,398.83 L582.50,398.77 L582.75,398.72 L583.00,398.66 L583.25,398.61 L583.50,398.55 L583.75,398.50 L584.00,398.45 L584.25,398.39 L584.50,398.34 L584.75,398.29 L585.00,398.24 L585.25,398.19 L585.50,398.14 L585.75,398.09 L586.00,398.04 L586.25,397.99 L586.50,397.94 L586.75,397.89 L587.00,397.84 L587.25,397.80 L587.50,397.75 L587.75,397.70 L588.00,397.66 L588.25,397.61 L588.50,397.56 L588.75,397.52 L589.00,397.47 L589.25,397.43 L589.50,397.39 L589.75,397.34 L590.00,397.30 L590.25,397.26 L590.50,397.21 L590.75,397.17 L591.00,397.13 L591.25,397.09 L591.50,397.05 L591.75,397.00 L592.00,396.96 L592.25,396.92 L592.50,396.88 L592.75,396.84 L593.00,396.80 L593.25,396.76 L593.50,396.72 L593.75,396.68 L594.00,396.64 L594.25,396.60 L594.50,396.56 L594.75,396.52 L595.00,396.48 L595.25,396.44 L595.50,396.40 L595.75,396.36 L596.00,396.32 L596.25,396.28 L596.50,396.25 L596.75,396.21 L597.00,396.17 L597.25,396.13 L597.50,396.09 L597.75,396.06 L598.00,396.02 L598.25,395.98 L598.50,395.95 L598.75,395.91 L599.00,395.87 L599.25,395.84 L599.50,395.80 L599.75,395.76 L600.00,395.73 L600.25,395.69 L600.50,395.66 L600.75,395.62 L601.00,395.59 L601.25,395.55 L601.50,395.52 L601.75,395.48 L602.00,395.45 L602.25,395.41 L602.50,395.38 L602.75,395.34 L603.00,395.31 L603.25,395.28 L603.50,395.24 L603.75,395.21 L604.00,395.18 L604.25,395.14 L604.50,395.11 L604.75,395.08 L605.00,395.05 L605.25,395.01 L605.50,394.98 L605.75,394.95 L606.00,394.92 L606.25,394.89 L606.50,394.85 L606.75,394.82 L607.00,394.79 L607.25,394.76 L607.50,394.73 L607.75,394.70 L608.00,394.67 L608.25,394.64 L608.50,394.61 L608.75,394.58 L609.00,394.55 L609.25,394.52 L609.50,394.49 L609.75,394.46 L610.00,394.43 L610.25,394.40 L610.50,394.37 L610.75,394.34 L611.00,394.31 L611.25,394.29 L611.50,394.26 L611.75,394.23 L612.00,394.20 L612.25,394.17 L612.50,394.15 L612.75,394.12 L613.00,394.09 L613.25,394.07 L613.50,394.04 L613.75,394.01 L614.00,393.98 L614.25,393.96 L614.50,393.93 L614.75,393.91 L615.00,393.88 L615.25,393.85 L615.50,393.83 L615.75,393.80 L616.00,393.78 L616.25,393.75 L616.50,393.73 L616.75,393.70 L617.00,393.68 L617.25,393.65 L617.50,393.63 L617.75,393.60 L618.00,393.58 L618.25,393.56 L618.50,393.53 L618.75,393.51 L619.00,393.49 L619.25,393.46 L619.50,393.44 L619.75,393.42 L620.00,393.39 L620.25,393.37 L620.50,393.35 L620.75,393.33 L621.00,393.30 L621.25,393.28 L621.50,393.26 L621.75,393.24 L622.00,393.22 L622.25,393.20 L622.50,393.17 L622.75,393.15 L623.00,393.13 L623.25,393.11 L623.50,393.09 L623.75,393.07 L624.00,393.05 L624.25,393.03 L624.50,393.01 L624.75,392.99 L625.00,392.97 L625.25,392.95 L625.50,392.93 L625.75,392.91 L626.00,392.89 L626.25,392.87 L626.50,392.85 L626.75,392.83 L627.00,392.82 L627.25,392.80 L627.50,392.78 L627.75,392.76 L628.00,392.74 L628.25,392.73 L628.50,392.71 L628.75,392.69 L629.00,392.67 L629.25,392.66 L629.50,392.64 L629.75,392.62 L630.00,392.60 L630.25,392.59 L630.50,392.57 L630.75,392.55 L631.00,392.54 L631.25,392.52 L631.50,392.51 L631.75,392.49 L632.00,392.47 L632.25,392.46 L632.50,392.44 L632.75,392.43 L633.00,392.41 L633.25,392.40 L633.50,392.38 L633.75,392.36 L634.00,392.35 L634.25,392.33 L634.50,392.32 L634.75,392.30 L635.00,392.29 L635.25,392.27 L635.50,392.25 L635.75,392.24 L636.00,392.22 L636.25,392.21 L636.50,392.19 L636.75,392.18 L637.00,392.16 L637.25,392.14 L637.50,392.13 L637.75,392.11 L638.00,392.10 L638.25,392.08 L638.50,392.07 L638.75,392.05 L639.00,392.04 L639.25,392.02 L639.50,392.01 L639.75,391.99 L640.00,391.97 L640.25,391.96 L640.50,391.94 L640.75,391.93 L641.00,391.91 L641.25,391.90 L641.50,391.88 L641.75,391.87 L642.00,391.85 L642.25,391.84 L642.50,391.82 L642.75,391.81 L643.00,391.79 L643.25,391.78 L643.50,391.76 L643.75,391.75 L644.00,391.73 L644.25,391.72 L644.50,391.71 L644.75,391.69 L645.00,391.68 L645.25,391.66 L645.50,391.65 L645.75,391.63 L646.00,391.62 L646.25,391.60 L646.50,391.59 L646.75,391.58 L647.00,391.56 L647.25,391.55 L647.50,391.53 L647.75,391.52 L648.00,391.50 L648.25,391.49 L648.50,391.48 L648.75,391.46 L649.00,391.45 L649.25,391.44 L649.50,391.42 L649.75,391.41 L650.00,391.39 L650.25,391.38 L650.50,391.37 L650.75,391.35 L651.00,391.34 L651.25,391.33 L651.50,391.31 L651.75,391.30 L652.00,391.29 L652.25,391.28 L652.50,391.26 L652.75,391.25 L653.00,391.24 L653.25,391.22 L653.50,391.21 L653.75,391.20 L654.00,391.19 L654.25,391.17 L654.50,391.16 L654.75,391.15 L655.00,391.14 L655.25,391.12 L655.50,391.11 L655.75,391.10 L656.00,391.09 L656.25,391.08 L656.50,391.06 L656.75,391.05 L657.00,391.04 L657.25,391.03 L657.50,391.02 L657.75,391.01 L658.00,391.00 L658.25,390.98 L658.50,390.97 L658.75,390.96 L659.00,390.95 L659.25,390.94 L659.50,390.93 L659.75,390.92 L660.00,390.91 L660.25,390.90 L660.50,390.89 L660.75,390.88 L661.00,390.87 L661.25,390.86 L661.50,390.85 L661.75,390.84 L662.00,390.83 L662.25,390.82 L662.50,390.81 L662.75,390.80 L663.00,390.79 L663.25,390.78 L663.50,390.77 L663.75,390.76 L664.00,390.75 L664.25,390.74 L664.50,390.73 L664.75,390.72 L665.00,390.71 L665.25,390.71 L665.50,390.70 L665.75,390.69 L666.00,390.68 L666.25,390.67 L666.50,390.66 L666.75,390.66 L667.00,390.65 L667.25,390.64 L667.50,390.63 L667.75,390.62 L668.00,390.62 L668.25,390.61 L668.50,390.60 L668.75,390.60 L669.00,390.59 L669.25,390.58 L669.50,390.57 L669.75,390.57 L670.00,390.56 L670.25,390.55 L670.50,390.55 L670.75,390.54 L671.00,390.54 L671.25,390.53 L671.50,390.52 L671.75,390.52 L672.00,390.51 L672.25,390.51 L672.50,390.50 L672.75,390.50 L673.00,390.49 L673.25,390.49 L673.50,390.48 L673.75,390.48 L674.00,390.47 L674.25,390.47 L674.50,390.46 L674.75,390.46 L675.00,390.46 L675.25,390.45 L675.50,390.45 L675.75,390.44 L676.00,390.44 L676.25,390.44 L676.50,390.43 L676.75,390.43 L677.00,390.43 L677.25,390.42 L677.50,390.42 L677.75,390.42 L678.00,390.42 L678.25,390.41 L678.50,390.41 L678.75,390.41 L679.00,390.41 L679.25,390.41 L679.50,390.40 L679.75,390.40 L680.00,390.40 L680.25,390.40 L680.50,390.40" stroke="#3A3AFF" stroke-width="1.2" stroke-dasharray="5.5 5.2" stroke-linecap="butt" opacity="0.85"/>
</g>
<g stroke="#262626" stroke-width="0.75" fill="none" opacity="0.65">
<rect x="315.5" y="387.7" width="365.0" height="278.7"/>
<path d="M315.5,387.70h4M680.5,387.70h-4M315.5,434.15h4M680.5,434.15h-4M315.5,480.60h4M680.5,480.60h-4M315.5,527.05h4M680.5,527.05h-4M315.5,573.50h4M680.5,573.50h-4M315.5,619.95h4M680.5,619.95h-4M315.5,666.40h4M680.5,666.40h-4M315.50,666.4v-4M315.50,387.7v4M388.50,666.4v-4M388.50,387.7v4M461.50,666.4v-4M461.50,387.7v4M534.50,666.4v-4M534.50,387.7v4M607.50,666.4v-4M607.50,387.7v4M680.50,666.4v-4M680.50,387.7v4"/>
</g>
<g fill="#262626" font-size="15.6">
<text x="310.0" y="393.32" text-anchor="end">0</text>
<text x="310.0" y="440.87" text-anchor="end">-5</text>
<text x="310.0" y="487.32" text-anchor="end">-10</text>
<text x="310.0" y="533.77" text-anchor="end">-15</text>
<text x="310.0" y="580.22" text-anchor="end">-20</text>
<text x="310.0" y="626.67" text-anchor="end">-25</text>
<text x="310.0" y="673.12" text-anchor="end">-30</text>
<text x="315.50" y="688.55" text-anchor="middle">1</text>
<text x="388.50" y="688.55" text-anchor="middle">1.2</text>
<text x="461.50" y="688.55" text-anchor="middle">1.4</text>
<text x="534.50" y="688.55" text-anchor="middle">1.6</text>
<text x="607.50" y="688.55" text-anchor="middle">1.8</text>
<text x="680.50" y="688.55" text-anchor="middle">2</text>
</g>
<text x="498.0" y="711.2" font-size="17.6" fill="#262626" text-anchor="middle">Frequency (GHz)</text>
<text transform="translate(280,527.0) rotate(-90)" font-size="17.6" fill="#262626" text-anchor="middle">S21 (dB)</text>
<rect x="549.9" y="525.8" width="128.5" height="113.40000000000009" fill="#fff" stroke="#262626" stroke-opacity="0.65" stroke-width="0.75"/>
<line x1="553.6" y1="535.6" x2="587" y2="535.6" stroke="#0072BD" stroke-width="3.5"/>
<text x="589.3" y="541.6" font-size="14.2" fill="#111">wd = 1 mm</text>
<line x1="553.6" y1="554.35" x2="587" y2="554.35" stroke="#D95319" stroke-width="3.5"/>
<text x="589.3" y="560.35" font-size="14.2" fill="#111">wd = 2 mm</text>
<line x1="553.6" y1="573.1" x2="587" y2="573.1" stroke="#EDB120" stroke-width="3.5"/>
<text x="589.3" y="579.1" font-size="14.2" fill="#111">wd = 3 mm</text>
<line x1="553.6" y1="591.85" x2="587" y2="591.85" stroke="#7E2F8E" stroke-width="3.5"/>
<text x="589.3" y="597.85" font-size="14.2" fill="#111">wd = 4 mm</text>
<line x1="553.6" y1="610.6" x2="587" y2="610.6" stroke="#77AC30" stroke-width="3.5"/>
<text x="589.3" y="616.6" font-size="14.2" fill="#111">wd = 5 mm</text>
<line x1="553.6" y1="629.35" x2="587" y2="629.35" stroke="#3A3AFF" stroke-width="1.1" stroke-dasharray="5.5 4.3" opacity="0.7"/>
<text x="589.3" y="635.35" font-size="14.2" fill="#111">Without crack</text>
</svg></body></html>
